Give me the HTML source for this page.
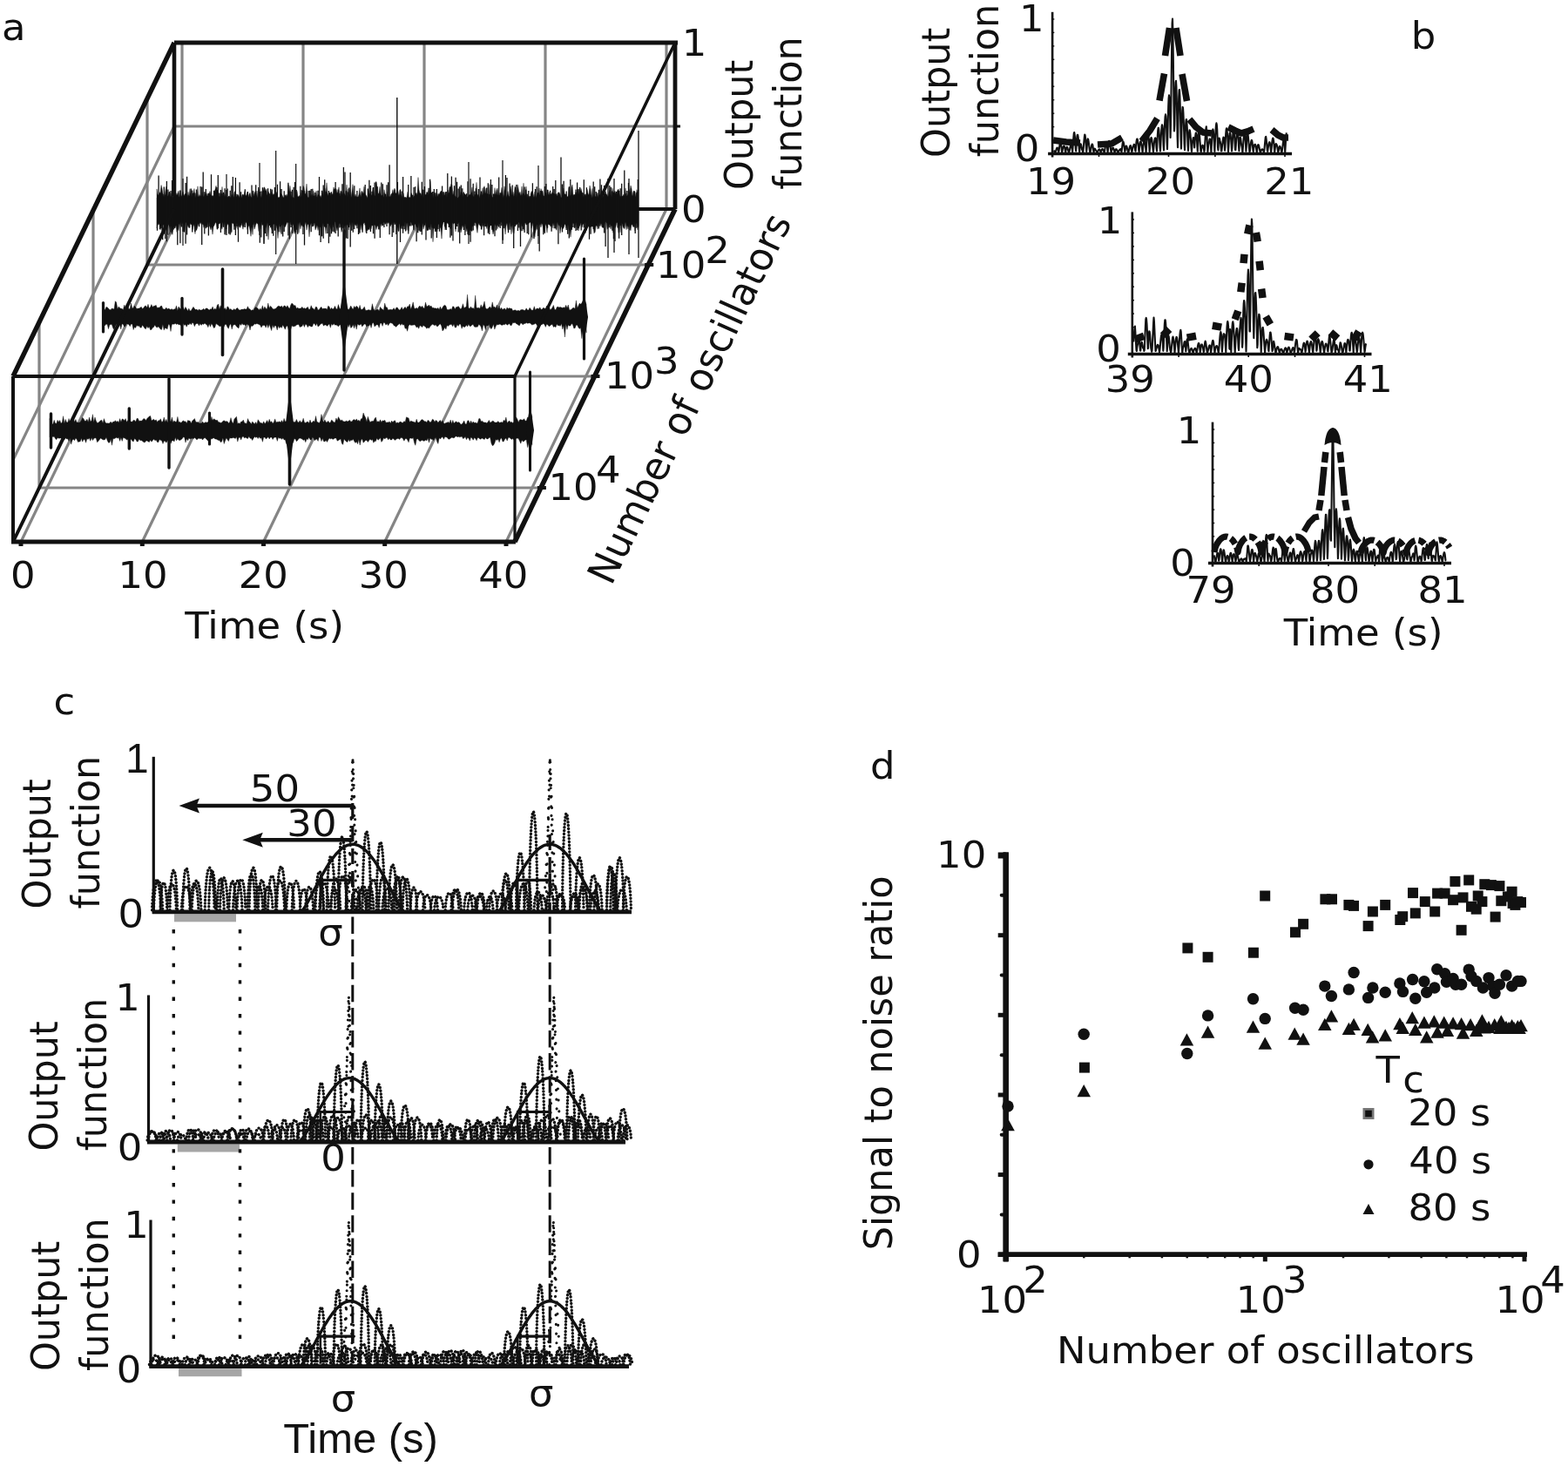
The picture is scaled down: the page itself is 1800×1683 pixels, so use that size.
<!DOCTYPE html>
<html lang="en"><head><meta charset="utf-8"><title>Figure</title>
<style>
html,body{margin:0;padding:0;background:#fff;overflow:hidden;}
svg{display:block;}
text{font-family:"DejaVu Sans","Liberation Sans",sans-serif;fill:#111;}
</style></head><body>
<svg width="1800" height="1683" viewBox="0 0 1800 1683" role="img" aria-label="Four-panel figure: output function versus time and signal to noise ratio versus number of oscillators">
<rect width="1800" height="1683" fill="#fff"/>
<g id="panel-a">
<line x1="209.0" y1="49.0" x2="209.0" y2="240.0" stroke="#858585" stroke-width="3.2" />
<line x1="348.0" y1="49.0" x2="348.0" y2="240.0" stroke="#858585" stroke-width="3.2" />
<line x1="487.0" y1="49.0" x2="487.0" y2="240.0" stroke="#858585" stroke-width="3.2" />
<line x1="626.0" y1="49.0" x2="626.0" y2="240.0" stroke="#858585" stroke-width="3.2" />
<line x1="765.0" y1="49.0" x2="765.0" y2="240.0" stroke="#858585" stroke-width="3.2" />
<line x1="200.0" y1="145.0" x2="775.0" y2="145.0" stroke="#858585" stroke-width="3.2" />
<line x1="209.0" y1="240.0" x2="24.0" y2="622.0" stroke="#858585" stroke-width="3.2" />
<line x1="348.0" y1="240.0" x2="163.3" y2="622.0" stroke="#858585" stroke-width="3.2" />
<line x1="487.0" y1="240.0" x2="302.5" y2="622.0" stroke="#858585" stroke-width="3.2" />
<line x1="626.0" y1="240.0" x2="441.7" y2="622.0" stroke="#858585" stroke-width="3.2" />
<line x1="765.0" y1="240.0" x2="581.0" y2="622.0" stroke="#858585" stroke-width="3.2" />
<line x1="169.0" y1="304.0" x2="744.2" y2="304.0" stroke="#858585" stroke-width="3.2" />
<line x1="107.0" y1="432.0" x2="682.5" y2="432.0" stroke="#858585" stroke-width="3.2" />
<line x1="45.0" y1="560.0" x2="620.9" y2="560.0" stroke="#858585" stroke-width="3.2" />
<line x1="169.0" y1="304.0" x2="169.0" y2="113.0" stroke="#858585" stroke-width="3.2" />
<line x1="107.0" y1="432.0" x2="107.0" y2="241.0" stroke="#858585" stroke-width="3.2" />
<line x1="45.0" y1="560.0" x2="45.0" y2="369.0" stroke="#858585" stroke-width="3.2" />
<line x1="200.0" y1="145.0" x2="15.0" y2="528.0" stroke="#858585" stroke-width="3.2" />
<path d="M180.0,216.9 181.0,223.5 182.0,224.1 183.0,220.5 184.0,221.9 185.0,212.5 186.0,216.2 187.0,222.6 188.0,225.4 189.0,225.9 190.0,218.0 191.0,214.1 192.0,225.4 193.0,224.8 194.0,220.1 195.0,220.4 196.0,226.4 197.0,221.8 198.0,227.2 199.0,223.7 200.0,220.3 201.0,220.1 202.0,221.6 203.0,224.2 204.0,221.6 205.0,219.1 206.0,226.7 207.0,218.6 208.0,225.8 209.0,224.1 210.0,219.6 211.0,224.9 212.0,223.0 213.0,222.0 214.0,223.1 215.0,227.4 216.0,220.2 217.0,226.0 218.0,216.7 219.0,222.7 220.0,226.3 221.0,221.7 222.0,222.6 223.0,216.5 224.0,227.2 225.0,223.4 226.0,226.3 227.0,213.8 228.0,226.7 229.0,223.5 230.0,225.5 231.0,224.6 232.0,220.1 233.0,225.2 234.0,226.1 235.0,223.7 236.0,222.0 237.0,221.4 238.0,225.6 239.0,221.7 240.0,222.6 241.0,219.4 242.0,224.2 243.0,225.6 244.0,224.3 245.0,227.0 246.0,220.1 247.0,217.6 248.0,213.3 249.0,218.4 250.0,218.1 251.0,224.2 252.0,226.5 253.0,221.8 254.0,225.4 255.0,214.4 256.0,225.5 257.0,222.1 258.0,226.0 259.0,222.5 260.0,226.1 261.0,226.2 262.0,226.3 263.0,224.8 264.0,226.2 265.0,226.7 266.0,223.1 267.0,225.0 268.0,226.7 269.0,220.2 270.0,219.7 271.0,226.3 272.0,225.1 273.0,223.3 274.0,224.7 275.0,227.0 276.0,223.9 277.0,227.2 278.0,223.5 279.0,223.0 280.0,224.6 281.0,219.5 282.0,224.9 283.0,223.6 284.0,220.4 285.0,226.4 286.0,222.7 287.0,221.3 288.0,225.8 289.0,227.3 290.0,218.6 291.0,225.5 292.0,222.0 293.0,219.5 294.0,225.2 295.0,219.0 296.0,227.2 297.0,217.0 298.0,220.2 299.0,224.8 300.0,227.3 301.0,222.5 302.0,219.2 303.0,214.7 304.0,215.4 305.0,219.5 306.0,216.9 307.0,225.3 308.0,219.7 309.0,221.9 310.0,226.3 311.0,223.6 312.0,219.5 313.0,223.9 314.0,222.3 315.0,223.4 316.0,224.1 317.0,220.1 318.0,222.3 319.0,227.2 320.0,226.3 321.0,226.8 322.0,221.9 323.0,222.6 324.0,224.1 325.0,226.6 326.0,227.0 327.0,223.5 328.0,226.0 329.0,223.1 330.0,225.5 331.0,211.7 332.0,220.7 333.0,213.3 334.0,223.5 335.0,226.8 336.0,226.5 337.0,226.7 338.0,227.4 339.0,220.2 340.0,224.1 341.0,219.4 342.0,225.9 343.0,225.4 344.0,224.3 345.0,226.4 346.0,221.1 347.0,226.1 348.0,213.3 349.0,215.2 350.0,223.3 351.0,221.6 352.0,211.1 353.0,225.4 354.0,227.2 355.0,226.0 356.0,218.8 357.0,225.6 358.0,223.1 359.0,225.4 360.0,219.2 361.0,225.5 362.0,224.2 363.0,219.1 364.0,226.8 365.0,223.5 366.0,223.8 367.0,225.9 368.0,224.3 369.0,227.0 370.0,220.0 371.0,225.1 372.0,215.1 373.0,215.8 374.0,223.2 375.0,209.8 376.0,223.6 377.0,224.8 378.0,222.2 379.0,220.7 380.0,224.9 381.0,222.1 382.0,223.8 383.0,214.8 384.0,218.8 385.0,216.1 386.0,216.8 387.0,221.7 388.0,220.2 389.0,214.8 390.0,225.4 391.0,218.8 392.0,220.3 393.0,223.7 394.0,219.5 395.0,221.8 396.0,223.4 397.0,224.7 398.0,212.1 399.0,226.7 400.0,217.0 401.0,224.2 402.0,217.4 403.0,226.8 404.0,219.6 405.0,211.6 406.0,224.0 407.0,226.2 408.0,222.9 409.0,226.2 410.0,225.9 411.0,226.2 412.0,223.2 413.0,215.9 414.0,226.3 415.0,219.5 416.0,219.8 417.0,223.2 418.0,214.1 419.0,222.1 420.0,223.7 421.0,225.5 422.0,227.5 423.0,218.4 424.0,221.9 425.0,223.1 426.0,223.5 427.0,224.6 428.0,215.7 429.0,219.0 430.0,224.8 431.0,224.7 432.0,209.3 433.0,214.9 434.0,225.1 435.0,220.7 436.0,214.2 437.0,223.7 438.0,224.7 439.0,223.6 440.0,226.8 441.0,217.6 442.0,222.3 443.0,225.1 444.0,226.6 445.0,219.7 446.0,225.6 447.0,225.8 448.0,225.7 449.0,222.7 450.0,222.1 451.0,217.5 452.0,222.6 453.0,216.1 454.0,221.8 455.0,221.9 456.0,218.1 457.0,219.5 458.0,225.8 459.0,218.4 460.0,222.4 461.0,224.7 462.0,226.9 463.0,221.5 464.0,227.1 465.0,226.1 466.0,227.4 467.0,226.3 468.0,220.2 469.0,227.0 470.0,226.3 471.0,227.1 472.0,221.4 473.0,223.1 474.0,226.8 475.0,225.6 476.0,224.8 477.0,222.4 478.0,221.3 479.0,223.7 480.0,203.6 481.0,217.9 482.0,222.1 483.0,221.8 484.0,224.7 485.0,217.0 486.0,227.4 487.0,223.0 488.0,223.5 489.0,223.6 490.0,220.2 491.0,223.9 492.0,218.5 493.0,223.2 494.0,207.8 495.0,222.1 496.0,221.2 497.0,227.2 498.0,220.0 499.0,221.9 500.0,226.6 501.0,222.3 502.0,225.7 503.0,222.1 504.0,223.5 505.0,221.3 506.0,219.3 507.0,219.7 508.0,226.0 509.0,220.0 510.0,224.7 511.0,220.2 512.0,221.0 513.0,226.8 514.0,218.1 515.0,223.5 516.0,214.3 517.0,214.9 518.0,211.2 519.0,212.4 520.0,224.8 521.0,219.2 522.0,224.6 523.0,225.4 524.0,226.8 525.0,227.4 526.0,226.4 527.0,225.8 528.0,224.5 529.0,219.9 530.0,220.9 531.0,221.5 532.0,226.2 533.0,222.3 534.0,222.9 535.0,224.0 536.0,226.1 537.0,226.3 538.0,224.6 539.0,223.1 540.0,223.9 541.0,221.4 542.0,214.9 543.0,225.2 544.0,226.0 545.0,222.8 546.0,224.2 547.0,209.4 548.0,223.7 549.0,225.4 550.0,227.4 551.0,224.5 552.0,222.0 553.0,224.8 554.0,215.6 555.0,223.8 556.0,213.6 557.0,222.4 558.0,216.1 559.0,222.9 560.0,222.0 561.0,227.3 562.0,211.5 563.0,224.6 564.0,223.5 565.0,226.3 566.0,226.7 567.0,226.4 568.0,215.6 569.0,224.0 570.0,218.2 571.0,216.0 572.0,224.4 573.0,224.4 574.0,220.9 575.0,222.3 576.0,215.3 577.0,221.5 578.0,227.3 579.0,213.8 580.0,219.0 581.0,227.0 582.0,224.2 583.0,219.5 584.0,224.8 585.0,226.7 586.0,213.6 587.0,217.8 588.0,224.6 589.0,220.3 590.0,225.7 591.0,214.1 592.0,216.1 593.0,227.1 594.0,211.8 595.0,215.9 596.0,222.4 597.0,220.2 598.0,225.5 599.0,213.9 600.0,226.0 601.0,210.2 602.0,225.1 603.0,222.6 604.0,214.1 605.0,227.2 606.0,224.4 607.0,225.2 608.0,227.4 609.0,224.7 610.0,219.6 611.0,220.2 612.0,222.0 613.0,226.8 614.0,220.0 615.0,227.2 616.0,224.5 617.0,220.8 618.0,222.2 619.0,215.9 620.0,224.6 621.0,216.6 622.0,220.0 623.0,218.7 624.0,225.3 625.0,225.0 626.0,222.0 627.0,221.0 628.0,225.0 629.0,218.0 630.0,224.0 631.0,220.2 632.0,223.1 633.0,222.8 634.0,220.4 635.0,221.6 636.0,222.2 637.0,222.8 638.0,223.4 639.0,222.1 640.0,225.3 641.0,221.0 642.0,220.7 643.0,223.5 644.0,227.0 645.0,226.8 646.0,224.6 647.0,216.0 648.0,221.8 649.0,224.2 650.0,222.4 651.0,226.7 652.0,226.2 653.0,215.4 654.0,224.8 655.0,224.4 656.0,214.8 657.0,212.1 658.0,224.6 659.0,223.0 660.0,224.1 661.0,220.3 662.0,222.5 663.0,223.1 664.0,218.0 665.0,223.6 666.0,219.7 667.0,216.4 668.0,220.7 669.0,221.5 670.0,226.8 671.0,223.4 672.0,224.8 673.0,224.6 674.0,217.2 675.0,222.1 676.0,224.1 677.0,213.0 678.0,217.4 679.0,227.4 680.0,216.3 681.0,227.1 682.0,222.3 683.0,225.6 684.0,225.8 685.0,226.3 686.0,223.8 687.0,226.9 688.0,223.6 689.0,223.9 690.0,216.5 691.0,226.2 692.0,226.4 693.0,219.9 694.0,222.4 695.0,222.6 696.0,222.2 697.0,223.9 698.0,226.3 699.0,220.3 700.0,218.1 701.0,224.0 702.0,226.7 703.0,216.1 704.0,221.2 705.0,220.8 706.0,219.0 707.0,223.6 708.0,223.4 709.0,218.3 710.0,217.0 711.0,222.3 712.0,225.9 713.0,225.0 714.0,225.6 715.0,225.0 716.0,223.1 717.0,225.2 718.0,215.9 719.0,225.1 720.0,224.7 721.0,222.7 722.0,217.3 723.0,220.9 724.0,213.0 725.0,216.5 726.0,225.7 727.0,219.5 728.0,219.0 729.0,220.0 730.0,226.3 731.0,217.7 732.0,220.9 733.0,217.9 733.0,258.0 732.0,263.9 731.0,256.3 730.0,256.4 729.0,265.3 728.0,254.7 727.0,260.7 726.0,258.3 725.0,257.6 724.0,264.8 723.0,260.1 722.0,255.6 721.0,263.0 720.0,258.5 719.0,263.7 718.0,255.0 717.0,262.6 716.0,262.1 715.0,260.1 714.0,256.5 713.0,255.3 712.0,266.9 711.0,256.8 710.0,267.4 709.0,256.3 708.0,254.8 707.0,260.0 706.0,261.8 705.0,256.4 704.0,267.3 703.0,260.0 702.0,258.7 701.0,263.2 700.0,256.7 699.0,259.0 698.0,262.2 697.0,263.3 696.0,254.8 695.0,254.8 694.0,258.1 693.0,261.2 692.0,261.5 691.0,260.7 690.0,256.3 689.0,258.5 688.0,255.2 687.0,255.9 686.0,263.1 685.0,258.8 684.0,259.8 683.0,265.8 682.0,267.9 681.0,260.0 680.0,259.7 679.0,259.7 678.0,260.7 677.0,261.0 676.0,256.4 675.0,254.7 674.0,259.0 673.0,254.7 672.0,262.3 671.0,255.3 670.0,256.8 669.0,257.7 668.0,261.2 667.0,255.4 666.0,258.6 665.0,260.6 664.0,265.0 663.0,257.3 662.0,255.1 661.0,261.1 660.0,255.7 659.0,256.1 658.0,257.0 657.0,255.3 656.0,262.5 655.0,272.1 654.0,264.0 653.0,264.7 652.0,258.0 651.0,258.2 650.0,262.0 649.0,257.6 648.0,257.8 647.0,261.9 646.0,262.5 645.0,256.9 644.0,262.3 643.0,267.8 642.0,257.1 641.0,258.4 640.0,254.8 639.0,264.4 638.0,262.6 637.0,255.0 636.0,259.2 635.0,256.0 634.0,261.9 633.0,259.2 632.0,260.2 631.0,258.1 630.0,258.0 629.0,256.6 628.0,267.3 627.0,259.2 626.0,257.1 625.0,266.8 624.0,263.5 623.0,259.4 622.0,255.4 621.0,261.0 620.0,257.1 619.0,258.6 618.0,255.0 617.0,256.2 616.0,263.3 615.0,258.9 614.0,272.2 613.0,269.7 612.0,260.5 611.0,255.8 610.0,262.2 609.0,255.1 608.0,255.4 607.0,256.5 606.0,256.8 605.0,258.0 604.0,258.1 603.0,255.4 602.0,256.8 601.0,264.8 600.0,258.5 599.0,260.2 598.0,256.0 597.0,264.3 596.0,255.7 595.0,254.9 594.0,256.2 593.0,258.3 592.0,257.9 591.0,256.7 590.0,268.2 589.0,267.4 588.0,258.1 587.0,268.8 586.0,258.0 585.0,254.8 584.0,264.8 583.0,264.6 582.0,255.8 581.0,259.4 580.0,269.0 579.0,257.6 578.0,262.4 577.0,257.4 576.0,255.3 575.0,254.5 574.0,258.1 573.0,256.8 572.0,256.7 571.0,262.9 570.0,256.3 569.0,259.1 568.0,257.0 567.0,265.1 566.0,268.9 565.0,262.3 564.0,257.5 563.0,258.0 562.0,261.4 561.0,266.3 560.0,255.8 559.0,262.7 558.0,259.5 557.0,260.1 556.0,255.6 555.0,260.6 554.0,255.4 553.0,263.8 552.0,259.3 551.0,259.3 550.0,255.9 549.0,258.8 548.0,267.4 547.0,261.8 546.0,255.2 545.0,255.2 544.0,256.6 543.0,259.8 542.0,259.4 541.0,264.9 540.0,263.9 539.0,265.0 538.0,270.2 537.0,266.3 536.0,261.9 535.0,265.9 534.0,256.4 533.0,260.3 532.0,261.2 531.0,258.5 530.0,263.2 529.0,267.0 528.0,259.7 527.0,254.9 526.0,256.8 525.0,257.1 524.0,256.3 523.0,265.9 522.0,255.2 521.0,257.1 520.0,256.8 519.0,255.5 518.0,261.5 517.0,262.8 516.0,259.4 515.0,257.6 514.0,255.5 513.0,255.5 512.0,261.3 511.0,264.0 510.0,254.9 509.0,254.7 508.0,259.3 507.0,274.2 506.0,262.7 505.0,260.6 504.0,257.3 503.0,257.4 502.0,265.7 501.0,263.0 500.0,266.2 499.0,258.1 498.0,261.9 497.0,277.7 496.0,257.1 495.0,261.5 494.0,256.6 493.0,260.6 492.0,264.0 491.0,264.6 490.0,264.8 489.0,259.5 488.0,255.1 487.0,260.0 486.0,263.3 485.0,256.2 484.0,265.6 483.0,259.7 482.0,265.8 481.0,255.2 480.0,261.8 479.0,261.0 478.0,260.1 477.0,257.8 476.0,257.6 475.0,262.8 474.0,258.0 473.0,258.8 472.0,255.6 471.0,254.7 470.0,255.6 469.0,265.6 468.0,255.2 467.0,264.4 466.0,255.7 465.0,254.5 464.0,260.0 463.0,258.4 462.0,258.7 461.0,259.7 460.0,262.0 459.0,254.8 458.0,265.6 457.0,265.4 456.0,260.4 455.0,258.5 454.0,255.6 453.0,255.7 452.0,255.2 451.0,261.8 450.0,255.3 449.0,258.0 448.0,260.1 447.0,256.5 446.0,255.3 445.0,256.7 444.0,255.0 443.0,256.6 442.0,257.7 441.0,255.2 440.0,255.3 439.0,255.6 438.0,259.9 437.0,255.9 436.0,256.7 435.0,263.9 434.0,258.8 433.0,260.3 432.0,263.7 431.0,258.8 430.0,257.9 429.0,258.9 428.0,259.6 427.0,257.9 426.0,262.9 425.0,260.4 424.0,263.9 423.0,262.8 422.0,264.8 421.0,264.2 420.0,266.7 419.0,256.6 418.0,255.6 417.0,257.4 416.0,264.5 415.0,257.7 414.0,263.7 413.0,257.1 412.0,268.4 411.0,259.1 410.0,256.5 409.0,259.5 408.0,257.4 407.0,258.7 406.0,255.0 405.0,260.6 404.0,254.8 403.0,256.8 402.0,259.1 401.0,254.8 400.0,264.0 399.0,257.8 398.0,258.6 397.0,257.8 396.0,274.5 395.0,258.8 394.0,256.5 393.0,263.8 392.0,266.5 391.0,258.2 390.0,255.9 389.0,257.3 388.0,260.8 387.0,264.9 386.0,260.9 385.0,254.7 384.0,254.6 383.0,261.2 382.0,257.5 381.0,266.3 380.0,263.4 379.0,260.8 378.0,256.9 377.0,257.0 376.0,256.8 375.0,256.6 374.0,268.3 373.0,259.5 372.0,259.9 371.0,256.1 370.0,260.8 369.0,271.4 368.0,260.4 367.0,261.0 366.0,260.1 365.0,264.6 364.0,258.6 363.0,261.7 362.0,264.1 361.0,255.6 360.0,259.7 359.0,259.2 358.0,255.9 357.0,256.5 356.0,259.3 355.0,271.9 354.0,257.0 353.0,258.2 352.0,264.1 351.0,255.1 350.0,258.1 349.0,260.2 348.0,260.2 347.0,259.8 346.0,258.1 345.0,262.9 344.0,254.7 343.0,267.4 342.0,255.9 341.0,254.9 340.0,267.2 339.0,265.7 338.0,268.5 337.0,259.9 336.0,257.0 335.0,258.1 334.0,258.1 333.0,254.6 332.0,254.8 331.0,256.1 330.0,254.7 329.0,256.8 328.0,259.3 327.0,261.0 326.0,259.8 325.0,257.1 324.0,257.8 323.0,259.6 322.0,266.9 321.0,257.1 320.0,261.3 319.0,273.6 318.0,262.4 317.0,258.5 316.0,256.7 315.0,257.3 314.0,257.3 313.0,258.3 312.0,263.6 311.0,259.5 310.0,258.5 309.0,258.8 308.0,275.2 307.0,255.2 306.0,258.9 305.0,262.2 304.0,263.9 303.0,279.4 302.0,256.1 301.0,254.5 300.0,258.1 299.0,263.0 298.0,256.1 297.0,265.6 296.0,257.0 295.0,256.4 294.0,255.5 293.0,260.5 292.0,263.2 291.0,254.9 290.0,269.4 289.0,260.2 288.0,271.3 287.0,264.6 286.0,258.5 285.0,260.6 284.0,263.5 283.0,256.6 282.0,254.5 281.0,258.0 280.0,254.6 279.0,263.2 278.0,258.9 277.0,255.8 276.0,261.2 275.0,260.9 274.0,258.5 273.0,263.5 272.0,255.8 271.0,261.9 270.0,258.5 269.0,260.2 268.0,256.5 267.0,256.5 266.0,255.8 265.0,268.1 264.0,261.0 263.0,257.3 262.0,258.4 261.0,256.4 260.0,259.8 259.0,269.6 258.0,254.7 257.0,258.5 256.0,254.7 255.0,263.3 254.0,260.7 253.0,255.5 252.0,256.8 251.0,256.9 250.0,263.1 249.0,263.3 248.0,255.2 247.0,256.2 246.0,258.7 245.0,260.6 244.0,269.1 243.0,260.2 242.0,263.9 241.0,261.0 240.0,254.8 239.0,254.7 238.0,258.6 237.0,261.6 236.0,262.3 235.0,258.5 234.0,261.4 233.0,257.1 232.0,256.3 231.0,257.4 230.0,254.7 229.0,257.4 228.0,256.1 227.0,259.5 226.0,262.8 225.0,255.6 224.0,268.6 223.0,260.2 222.0,257.6 221.0,263.7 220.0,258.0 219.0,255.9 218.0,257.1 217.0,261.8 216.0,258.1 215.0,258.7 214.0,255.0 213.0,255.8 212.0,264.6 211.0,264.8 210.0,255.2 209.0,256.9 208.0,254.8 207.0,258.8 206.0,255.5 205.0,264.7 204.0,262.7 203.0,266.4 202.0,258.4 201.0,262.2 200.0,261.5 199.0,259.5 198.0,269.4 197.0,267.2 196.0,258.9 195.0,269.3 194.0,259.6 193.0,254.5 192.0,264.6 191.0,262.2 190.0,259.2 189.0,259.3 188.0,257.9 187.0,258.3 186.0,266.5 185.0,258.3 184.0,264.1 183.0,257.6 182.0,255.9 181.0,258.8 180.0,261.8Z" fill="#111" stroke="#111" stroke-width="0.4" stroke-linejoin="round"/>
<path d="M180.5,227.0V264.8M182.1,201.5V257.8M183.6,225.7V262.9M185.2,226.3V262.1M186.7,222.7V275.3M188.3,214.6V268.4M189.8,223.5V274.3M191.4,208.0V277.2M192.9,217.5V269.8M194.5,225.1V254.2M196.0,219.0V266.6M197.6,207.0V262.9M199.1,207.7V263.4M200.7,215.4V259.7M202.2,224.6V255.7M203.8,224.1V281.3M205.3,226.0V257.2M206.9,218.6V279.2M208.4,227.0V260.6M210.0,221.6V266.0M211.5,228.0V266.6M213.1,209.9V279.8M214.6,202.8V269.6M216.2,224.3V260.6M217.7,225.1V261.5M219.3,216.5V257.8M220.8,218.4V266.6M222.4,221.6V253.4M223.9,221.5V266.1M225.5,217.4V264.4M227.0,226.9V257.2M228.6,225.4V260.3M230.1,214.0V255.7M231.7,214.5V280.9M233.2,197.5V257.8M234.8,220.2V268.5M236.3,217.0V258.7M237.9,225.0V260.8M239.4,222.1V270.5M241.0,226.6V260.1M242.5,200.3V256.4M244.1,224.8V258.8M245.6,218.7V255.6M247.2,221.1V255.1M248.7,214.9V255.9M250.3,200.9V262.0M251.8,221.5V256.2M253.4,218.0V267.1M254.9,222.0V253.2M256.5,220.8V260.7M258.0,216.3V269.3M259.6,217.9V263.0M261.1,216.6V256.3M262.7,225.6V268.6M264.2,218.8V269.5M265.8,213.2V266.5M267.3,203.1V254.2M268.9,228.3V263.8M270.4,204.1V270.1M272.0,222.8V260.1M273.5,228.0V277.8M275.1,209.2V259.0M276.6,220.3V258.7M278.2,228.9V255.1M279.7,226.1V260.6M281.3,217.2V261.0M282.8,226.9V254.6M284.4,220.0V268.8M285.9,227.5V253.7M287.5,226.5V260.9M289.0,212.6V257.6M290.6,219.2V257.8M292.1,225.3V254.4M293.7,212.2V257.5M295.2,227.7V253.8M296.8,215.1V255.5M298.3,220.1V278.7M299.9,219.5V272.5M301.4,215.3V258.6M303.0,220.9V280.1M304.5,219.1V268.1M306.1,223.8V271.3M307.6,216.3V253.4M309.2,222.2V259.1M310.7,216.7V261.3M312.3,217.4V268.1M313.8,225.9V270.8M315.4,214.9V264.8M316.9,224.1V254.9M318.5,211.8V255.0M320.0,228.2V266.2M321.6,208.3V260.0M323.1,217.1V268.7M324.7,227.6V271.4M326.2,219.2V266.1M327.8,224.3V254.3M329.3,225.9V254.9M330.9,209.8V270.4M332.4,219.7V274.6M334.0,219.8V261.0M335.5,217.7V268.1M337.1,214.8V254.6M338.6,209.0V263.7M340.2,217.9V263.8M341.7,227.6V268.7M343.3,228.5V253.1M344.8,213.8V254.5M346.4,218.3V257.9M347.9,218.9V269.0M349.5,219.2V281.4M351.0,226.5V254.3M352.6,226.9V255.7M354.1,218.9V253.2M355.7,218.7V255.2M357.2,217.1V266.3M358.8,216.7V260.3M360.3,225.6V253.6M361.9,220.9V254.2M363.4,226.6V254.4M365.0,218.7V254.7M366.5,203.1V270.2M368.1,227.2V277.9M369.6,218.7V271.2M371.2,212.5V273.8M372.7,206.2V260.5M374.3,220.1V261.2M375.8,222.3V268.1M377.4,219.1V279.2M378.9,221.6V271.7M380.5,220.2V268.2M382.0,226.0V265.8M383.6,217.0V266.5M385.1,208.9V268.0M386.7,222.8V259.9M388.2,217.6V271.6M389.8,222.1V261.4M391.3,226.9V260.7M392.9,211.3V261.7M394.4,192.0V264.7M396.0,197.5V257.4M397.5,219.2V273.6M399.1,220.5V273.9M400.6,215.4V261.1M402.2,198.1V283.6M403.7,228.8V264.7M405.3,227.4V266.8M406.8,213.3V263.1M408.4,225.6V256.3M409.9,218.9V262.3M411.5,226.2V268.9M413.0,224.1V267.4M414.6,228.2V254.0M416.1,221.8V266.7M417.7,222.1V253.0M419.2,212.1V258.3M420.8,228.9V268.1M422.3,216.5V259.0M423.9,206.8V254.0M425.4,213.1V266.0M427.0,219.7V259.0M428.5,215.1V268.2M430.1,209.4V273.8M431.6,208.4V257.5M433.2,214.2V256.4M434.7,222.2V262.9M436.3,222.8V272.9M437.8,209.5V257.8M439.4,211.2V259.1M440.9,228.1V260.9M442.5,222.7V253.3M444.0,212.3V259.9M445.6,209.2V255.1M447.1,189.2V269.2M448.7,227.5V257.9M450.2,224.9V271.9M451.8,226.7V266.9M453.3,217.6V257.7M454.9,228.4V269.1M456.4,209.0V259.7M458.0,223.5V257.2M459.5,217.4V277.9M461.1,219.5V262.7M462.6,202.9V267.7M464.2,227.3V263.3M465.7,226.4V265.5M467.3,228.0V255.5M468.8,212.1V268.6M470.4,227.2V259.4M471.9,201.9V259.4M473.5,224.1V254.5M475.0,214.9V264.2M476.6,214.3V254.4M478.1,227.8V277.2M479.7,222.6V267.3M481.2,225.4V264.8M482.8,227.5V265.9M484.3,208.7V269.5M485.9,218.0V254.6M487.4,214.0V258.4M489.0,226.7V275.6M490.5,220.7V260.1M492.1,215.7V260.6M493.6,205.7V263.8M495.2,220.7V273.6M496.7,219.9V261.7M498.3,217.0V262.4M499.8,221.2V265.7M501.4,217.1V273.0M502.9,228.8V263.1M504.5,227.6V265.7M506.0,221.4V255.9M507.6,213.5V256.6M509.1,220.5V255.0M510.7,224.3V260.0M512.2,219.9V264.1M513.8,198.9V256.6M515.3,221.2V261.1M516.9,225.7V272.7M518.4,202.5V270.6M520.0,223.2V276.4M521.5,213.3V256.1M523.1,203.7V263.0M524.6,208.7V260.1M526.2,216.6V266.5M527.7,214.2V279.4M529.3,212.5V263.6M530.8,216.2V255.0M532.4,220.4V263.9M533.9,225.8V270.0M535.5,222.2V260.3M537.0,208.3V269.3M538.6,225.1V269.9M540.1,205.3V277.7M541.7,225.7V265.5M543.2,210.7V264.5M544.8,219.4V259.2M546.3,216.2V256.3M547.9,223.3V254.9M549.4,216.9V255.2M551.0,203.5V258.2M552.5,219.6V263.3M554.1,224.2V259.3M555.6,214.8V270.2M557.2,226.1V260.0M558.7,215.5V259.6M560.3,210.3V267.7M561.8,223.0V268.9M563.4,205.9V258.9M564.9,212.1V263.7M566.5,222.5V265.2M568.0,222.8V271.3M569.6,225.0V264.5M571.1,228.7V259.0M572.7,203.6V260.4M574.2,226.6V261.9M575.8,229.0V259.2M577.3,228.4V275.8M578.9,224.5V262.0M580.4,200.9V256.3M582.0,204.1V256.4M583.5,225.1V267.3M585.1,210.4V263.7M586.6,227.6V259.8M588.2,212.5V253.6M589.7,228.1V284.9M591.3,222.0V259.9M592.8,211.9V257.1M594.4,218.0V264.9M595.9,227.3V261.4M597.5,224.5V283.0M599.0,223.7V265.3M600.6,222.3V263.0M602.1,214.4V267.0M603.7,217.8V255.5M605.2,222.7V267.9M606.8,219.1V269.3M608.3,225.3V253.3M609.9,221.7V272.4M611.4,210.2V254.3M613.0,228.5V274.1M614.5,217.1V264.0M616.1,214.2V258.1M617.6,228.5V271.0M619.2,228.4V288.5M620.7,218.9V254.5M622.3,223.6V257.1M623.8,225.7V269.3M625.4,213.9V267.8M626.9,211.0V257.1M628.5,217.7V261.7M630.0,227.3V257.6M631.6,218.8V254.1M633.1,225.8V265.7M634.7,214.0V254.4M636.2,217.0V262.3M637.8,207.0V262.3M639.3,224.9V254.0M640.9,221.0V280.2M642.4,222.7V259.2M644.0,180.4V260.7M645.5,211.6V266.5M647.1,207.7V260.2M648.6,223.0V257.1M650.2,219.6V263.9M651.7,225.4V268.7M653.3,214.2V273.4M654.8,206.1V255.7M656.4,228.9V263.8M657.9,225.2V261.0M659.5,226.8V261.8M661.0,217.5V264.9M662.6,209.5V264.2M664.1,216.9V261.9M665.7,214.9V256.1M667.2,219.2V264.6M668.8,221.5V256.2M670.3,206.3V261.6M671.9,222.8V267.5M673.4,215.2V264.4M675.0,228.7V260.3M676.5,228.6V274.8M678.1,223.4V268.8M679.6,228.6V260.2M681.2,208.5V263.0M682.7,214.2V266.8M684.3,220.1V256.4M685.8,221.4V259.5M687.4,217.8V262.5M688.9,205.6V259.7M690.5,212.3V256.2M692.0,225.0V257.1M693.6,213.0V267.4M695.1,219.7V282.9M696.7,226.5V256.0M698.2,225.4V254.1M699.8,213.0V261.2M701.3,214.8V256.4M702.9,219.4V264.8M704.4,228.0V274.2M706.0,221.6V277.0M707.5,219.9V255.4M709.1,218.7V261.6M710.6,219.0V273.8M712.2,216.2V259.0M713.7,210.8V270.1M715.3,225.2V256.9M716.8,195.4V253.0M718.4,222.2V253.4M719.9,219.1V256.7M721.5,209.9V260.5M723.0,227.8V264.2M724.6,225.4V257.2M726.1,224.6V257.4M727.7,223.0V260.6M729.2,227.9V268.0M730.8,221.2V261.8M732.3,205.9V260.7" stroke="#111" stroke-width="1.3" fill="none"/>
<line x1="455.8" y1="112.0" x2="455.8" y2="303.0" stroke="#111" stroke-width="1.4" />
<line x1="733.0" y1="150.0" x2="733.0" y2="296.0" stroke="#111" stroke-width="1.3" />
<line x1="316.7" y1="173.0" x2="316.7" y2="292.0" stroke="#111" stroke-width="1.2" />
<line x1="298.0" y1="187.0" x2="298.0" y2="270.0" stroke="#111" stroke-width="1.2" />
<line x1="339.7" y1="188.0" x2="339.7" y2="303.0" stroke="#111" stroke-width="1.2" />
<line x1="577.0" y1="184.0" x2="577.0" y2="280.0" stroke="#111" stroke-width="1.2" />
<line x1="618.0" y1="190.0" x2="618.0" y2="280.0" stroke="#111" stroke-width="1.2" />
<line x1="538.0" y1="186.0" x2="538.0" y2="280.0" stroke="#111" stroke-width="1.2" />
<line x1="210.0" y1="205.0" x2="210.0" y2="282.0" stroke="#111" stroke-width="1.2" />
<line x1="260.0" y1="200.0" x2="260.0" y2="270.0" stroke="#111" stroke-width="1.2" />
<line x1="705.0" y1="205.0" x2="705.0" y2="290.0" stroke="#111" stroke-width="1.3" />
<line x1="722.0" y1="205.0" x2="722.0" y2="292.0" stroke="#111" stroke-width="1.3" />
<line x1="698.0" y1="205.0" x2="698.0" y2="296.0" stroke="#111" stroke-width="1.3" />
<line x1="733.0" y1="240.0" x2="775.0" y2="240.0" stroke="#111" stroke-width="4" />
<path d="M118.0,352.3 119.3,355.5 120.6,355.6 121.9,352.4 123.2,352.8 124.5,354.1 125.8,355.5 127.1,355.7 128.4,354.0 129.7,354.4 131.0,354.9 132.3,345.7 133.6,347.0 134.9,354.7 136.2,351.9 137.5,353.4 138.8,354.3 140.1,354.3 141.4,355.7 142.7,350.1 144.0,353.4 145.3,352.3 146.6,348.2 147.9,354.7 149.2,354.6 150.5,348.1 151.8,354.1 153.1,353.7 154.4,351.1 155.7,352.6 157.0,354.5 158.3,354.1 159.6,354.1 160.9,353.2 162.2,352.3 163.5,354.4 164.8,353.6 166.1,351.4 167.4,350.9 168.7,353.2 170.0,349.3 171.3,354.1 172.6,352.5 173.9,349.6 175.2,352.4 176.5,351.2 177.8,351.3 179.1,350.2 180.4,353.5 181.7,352.9 183.0,353.2 184.3,351.5 185.6,351.1 186.9,354.4 188.2,354.9 189.5,355.1 190.8,353.1 192.1,354.9 193.4,354.1 194.7,354.8 196.0,355.4 197.3,354.5 198.6,355.8 199.9,354.8 201.2,355.0 202.5,350.9 203.8,356.4 205.1,352.0 206.4,354.0 207.7,354.7 209.0,356.7 210.3,352.5 211.6,355.7 212.9,352.4 214.2,354.4 215.5,356.9 216.8,354.1 218.1,356.9 219.4,356.4 220.7,354.2 222.0,352.3 223.3,354.3 224.6,355.6 225.9,355.1 227.2,356.5 228.5,354.9 229.8,355.9 231.1,356.0 232.4,355.6 233.7,354.3 235.0,355.7 236.3,353.9 237.6,353.9 238.9,354.7 240.2,356.0 241.5,354.8 242.8,354.9 244.1,352.1 245.4,355.8 246.7,354.0 248.0,355.6 249.3,350.4 250.6,349.0 251.9,354.9 253.2,350.7 254.5,353.5 255.8,351.0 257.1,354.9 258.4,353.4 259.7,355.9 261.0,351.8 262.3,352.7 263.6,355.5 264.9,354.4 266.2,356.0 267.5,355.9 268.8,354.4 270.1,356.1 271.4,354.1 272.7,353.4 274.0,355.5 275.3,356.1 276.6,355.6 277.9,355.1 279.2,355.3 280.5,354.6 281.8,354.9 283.1,355.0 284.4,351.7 285.7,354.6 287.0,354.8 288.3,356.5 289.6,355.8 290.9,356.3 292.2,354.0 293.5,352.6 294.8,353.2 296.1,354.0 297.4,356.1 298.7,353.9 300.0,355.7 301.3,350.8 302.6,355.2 303.9,352.0 305.2,354.2 306.5,354.8 307.8,348.0 309.1,353.8 310.4,351.2 311.7,352.4 313.0,354.5 314.3,354.9 315.6,354.4 316.9,354.1 318.2,352.3 319.5,351.3 320.8,351.6 322.1,352.3 323.4,351.1 324.7,353.3 326.0,350.9 327.3,351.1 328.6,353.0 329.9,350.7 331.2,353.0 332.5,354.3 333.8,350.0 335.1,347.9 336.4,349.2 337.7,351.1 339.0,350.6 340.3,354.2 341.6,353.0 342.9,354.3 344.2,354.1 345.5,353.9 346.8,352.2 348.1,354.3 349.4,353.4 350.7,354.6 352.0,353.5 353.3,352.2 354.6,355.3 355.9,354.9 357.2,350.7 358.5,353.8 359.8,354.3 361.1,355.7 362.4,352.2 363.7,352.5 365.0,356.0 366.3,355.6 367.6,353.5 368.9,352.3 370.2,354.8 371.5,354.1 372.8,354.3 374.1,354.0 375.4,355.6 376.7,351.2 378.0,352.0 379.3,355.3 380.6,353.3 381.9,354.9 383.2,354.2 384.5,351.3 385.8,354.4 387.1,355.0 388.4,349.6 389.7,353.4 391.0,354.9 392.3,353.2 393.6,350.1 394.9,348.8 396.2,353.2 397.5,354.8 398.8,354.5 400.1,355.4 401.4,353.9 402.7,351.0 404.0,353.4 405.3,355.3 406.6,351.4 407.9,353.3 409.2,351.2 410.5,352.3 411.8,354.8 413.1,350.4 414.4,355.3 415.7,355.3 417.0,354.2 418.3,352.0 419.6,356.2 420.9,356.3 422.2,355.9 423.5,355.6 424.8,356.2 426.1,356.0 427.4,348.7 428.7,354.3 430.0,356.7 431.3,355.9 432.6,355.4 433.9,355.1 435.2,357.1 436.5,352.2 437.8,354.3 439.1,355.1 440.4,356.2 441.7,348.1 443.0,352.8 444.3,352.8 445.6,355.9 446.9,355.5 448.2,355.2 449.5,355.4 450.8,355.4 452.1,353.6 453.4,355.9 454.7,353.4 456.0,352.8 457.3,354.7 458.6,356.1 459.9,355.0 461.2,352.6 462.5,355.6 463.8,353.8 465.1,352.3 466.4,354.5 467.7,351.8 469.0,352.0 470.3,349.0 471.6,354.9 472.9,351.8 474.2,346.8 475.5,353.6 476.8,354.5 478.1,353.3 479.4,354.6 480.7,352.2 482.0,351.0 483.3,352.9 484.6,351.3 485.9,353.4 487.2,354.0 488.5,347.0 489.8,351.7 491.1,351.6 492.4,350.1 493.7,352.1 495.0,351.1 496.3,353.4 497.6,353.3 498.9,353.9 500.2,353.8 501.5,354.4 502.8,353.3 504.1,355.5 505.4,352.1 506.7,355.2 508.0,353.1 509.3,351.0 510.6,350.3 511.9,351.3 513.2,355.5 514.5,355.6 515.8,355.4 517.1,354.4 518.4,355.4 519.7,351.8 521.0,352.1 522.3,355.0 523.6,352.5 524.9,352.6 526.2,351.6 527.5,353.3 528.8,354.9 530.1,353.3 531.4,348.7 532.7,353.4 534.0,352.9 535.3,351.8 536.6,338.2 537.9,353.6 539.2,354.3 540.5,351.9 541.8,354.1 543.1,353.5 544.4,354.7 545.7,339.2 547.0,353.6 548.3,353.4 549.6,353.2 550.9,354.2 552.2,349.8 553.5,353.2 554.8,350.5 556.1,345.9 557.4,353.5 558.7,354.8 560.0,354.5 561.3,353.0 562.6,352.1 563.9,354.3 565.2,346.8 566.5,352.8 567.8,352.1 569.1,354.1 570.4,350.0 571.7,355.0 573.0,351.0 574.3,355.2 575.6,353.2 576.9,355.5 578.2,354.5 579.5,354.1 580.8,355.9 582.1,352.9 583.4,354.5 584.7,353.5 586.0,354.3 587.3,354.0 588.6,356.4 589.9,356.3 591.2,355.7 592.5,356.4 593.8,356.8 595.1,356.2 596.4,357.0 597.7,355.8 599.0,355.4 600.3,355.5 601.6,356.2 602.9,356.3 604.2,353.8 605.5,355.9 606.8,356.0 608.1,353.2 609.4,355.0 610.7,356.2 612.0,356.0 613.3,351.7 614.6,355.9 615.9,354.2 617.2,354.0 618.5,354.8 619.8,352.8 621.1,355.3 622.4,354.9 623.7,353.2 625.0,353.9 626.3,354.4 627.6,351.0 628.9,352.9 630.2,351.2 631.5,355.5 632.8,354.9 634.1,353.1 635.4,350.4 636.7,355.2 638.0,355.7 639.3,352.6 640.6,352.2 641.9,352.9 643.2,352.4 644.5,353.0 645.8,353.4 647.1,352.7 648.4,353.4 649.7,350.3 651.0,353.8 652.3,350.0 653.6,355.7 654.9,355.8 656.2,354.9 657.5,353.6 658.8,353.2 660.1,354.6 661.4,344.9 662.7,353.5 664.0,351.1 665.3,348.1 666.6,349.3 667.9,347.8 669.2,345.5 670.5,350.1 671.8,346.4 673.1,349.4 673.1,381.9 671.8,375.4 670.5,375.9 669.2,377.4 667.9,388.7 666.6,376.2 665.3,377.5 664.0,376.0 662.7,373.3 661.4,373.2 660.1,376.7 658.8,376.9 657.5,372.8 656.2,371.6 654.9,374.0 653.6,374.2 652.3,372.9 651.0,378.3 649.7,372.0 648.4,387.0 647.1,373.8 645.8,378.0 644.5,371.5 643.2,374.4 641.9,373.6 640.6,373.9 639.3,371.9 638.0,375.7 636.7,374.8 635.4,375.5 634.1,372.6 632.8,372.7 631.5,373.9 630.2,374.7 628.9,372.9 627.6,372.3 626.3,375.4 625.0,372.4 623.7,371.6 622.4,372.5 621.1,372.7 619.8,373.8 618.5,377.2 617.2,375.1 615.9,372.6 614.6,371.2 613.3,372.2 612.0,372.6 610.7,373.0 609.4,371.8 608.1,370.7 606.8,371.0 605.5,371.2 604.2,370.6 602.9,371.6 601.6,371.4 600.3,372.9 599.0,371.3 597.7,370.8 596.4,373.8 595.1,373.3 593.8,372.2 592.5,371.4 591.2,370.3 589.9,370.7 588.6,370.5 587.3,373.4 586.0,373.7 584.7,371.4 583.4,372.5 582.1,373.2 580.8,371.6 579.5,372.8 578.2,372.6 576.9,373.3 575.6,373.2 574.3,372.2 573.0,372.2 571.7,373.0 570.4,372.6 569.1,374.8 567.8,378.1 566.5,372.3 565.2,375.6 563.9,377.7 562.6,375.9 561.3,372.3 560.0,374.3 558.7,373.7 557.4,378.7 556.1,374.3 554.8,372.5 553.5,379.9 552.2,375.3 550.9,373.3 549.6,372.6 548.3,375.3 547.0,375.3 545.7,375.6 544.4,375.1 543.1,372.5 541.8,373.0 540.5,374.6 539.2,374.4 537.9,372.3 536.6,375.0 535.3,373.1 534.0,375.3 532.7,375.4 531.4,374.4 530.1,377.3 528.8,372.2 527.5,372.0 526.2,374.4 524.9,372.5 523.6,376.0 522.3,376.0 521.0,372.0 519.7,374.8 518.4,372.6 517.1,372.6 515.8,372.9 514.5,374.6 513.2,373.5 511.9,378.1 510.6,375.7 509.3,378.4 508.0,380.0 506.7,373.9 505.4,371.8 504.1,372.7 502.8,374.6 501.5,374.7 500.2,372.8 498.9,373.7 497.6,372.8 496.3,372.3 495.0,373.4 493.7,374.9 492.4,377.0 491.1,376.0 489.8,377.3 488.5,375.2 487.2,374.4 485.9,373.6 484.6,375.7 483.3,374.3 482.0,373.8 480.7,377.3 479.4,374.9 478.1,376.0 476.8,373.4 475.5,372.8 474.2,373.3 472.9,373.2 471.6,373.5 470.3,372.4 469.0,374.2 467.7,380.3 466.4,376.7 465.1,377.3 463.8,372.5 462.5,373.2 461.2,371.5 459.9,373.6 458.6,371.5 457.3,372.7 456.0,373.8 454.7,375.4 453.4,374.2 452.1,373.7 450.8,371.6 449.5,371.1 448.2,370.5 446.9,371.6 445.6,373.8 444.3,371.4 443.0,373.2 441.7,370.7 440.4,370.2 439.1,374.4 437.8,370.9 436.5,371.1 435.2,376.3 433.9,372.9 432.6,372.8 431.3,373.8 430.0,375.1 428.7,370.5 427.4,371.0 426.1,376.4 424.8,372.1 423.5,374.1 422.2,374.0 420.9,375.1 419.6,372.3 418.3,371.9 417.0,373.5 415.7,375.1 414.4,371.8 413.1,373.3 411.8,373.1 410.5,372.0 409.2,378.1 407.9,372.2 406.6,376.9 405.3,372.5 404.0,375.6 402.7,376.4 401.4,371.9 400.1,375.7 398.8,371.8 397.5,376.6 396.2,373.1 394.9,378.8 393.6,374.8 392.3,372.8 391.0,372.7 389.7,373.3 388.4,374.9 387.1,373.6 385.8,372.9 384.5,373.2 383.2,371.6 381.9,373.4 380.6,371.7 379.3,376.3 378.0,371.8 376.7,373.3 375.4,374.4 374.1,373.1 372.8,372.9 371.5,374.2 370.2,371.3 368.9,371.5 367.6,372.4 366.3,374.2 365.0,374.9 363.7,371.3 362.4,374.0 361.1,371.5 359.8,371.6 358.5,374.9 357.2,375.0 355.9,374.3 354.6,373.7 353.3,375.7 352.0,372.8 350.7,372.2 349.4,375.5 348.1,372.1 346.8,374.6 345.5,375.0 344.2,375.6 342.9,372.4 341.6,372.7 340.3,373.1 339.0,374.5 337.7,374.6 336.4,375.0 335.1,373.8 333.8,378.1 332.5,374.8 331.2,378.6 329.9,373.9 328.6,374.8 327.3,378.2 326.0,375.4 324.7,373.1 323.4,376.5 322.1,375.1 320.8,376.8 319.5,374.0 318.2,378.9 316.9,374.2 315.6,373.7 314.3,376.4 313.0,373.1 311.7,379.6 310.4,375.7 309.1,372.2 307.8,376.5 306.5,372.3 305.2,376.2 303.9,373.4 302.6,373.4 301.3,373.8 300.0,376.0 298.7,373.3 297.4,372.6 296.1,372.0 294.8,371.4 293.5,372.3 292.2,371.8 290.9,373.5 289.6,374.6 288.3,373.9 287.0,379.0 285.7,373.4 284.4,372.4 283.1,372.3 281.8,373.9 280.5,372.6 279.2,373.1 277.9,371.2 276.6,373.5 275.3,371.7 274.0,376.9 272.7,376.0 271.4,374.7 270.1,372.7 268.8,372.8 267.5,373.5 266.2,378.0 264.9,371.8 263.6,373.3 262.3,377.3 261.0,375.5 259.7,372.4 258.4,372.4 257.1,375.1 255.8,377.5 254.5,375.1 253.2,374.3 251.9,374.7 250.6,373.2 249.3,372.6 248.0,371.6 246.7,375.9 245.4,376.6 244.1,373.4 242.8,371.4 241.5,375.3 240.2,371.7 238.9,375.8 237.6,373.0 236.3,372.3 235.0,371.0 233.7,372.4 232.4,371.7 231.1,373.4 229.8,371.4 228.5,374.1 227.2,371.4 225.9,371.4 224.6,372.0 223.3,374.8 222.0,370.9 220.7,370.6 219.4,372.8 218.1,371.1 216.8,373.0 215.5,372.2 214.2,375.3 212.9,372.6 211.6,373.6 210.3,371.4 209.0,372.2 207.7,373.7 206.4,372.8 205.1,372.8 203.8,371.7 202.5,372.4 201.2,371.3 199.9,372.3 198.6,372.1 197.3,372.6 196.0,380.5 194.7,373.0 193.4,372.3 192.1,377.8 190.8,377.0 189.5,376.5 188.2,379.1 186.9,372.5 185.6,378.4 184.3,378.0 183.0,376.3 181.7,375.0 180.4,376.1 179.1,375.3 177.8,373.0 176.5,375.6 175.2,376.2 173.9,378.4 172.6,378.7 171.3,375.1 170.0,376.7 168.7,374.6 167.4,377.7 166.1,376.9 164.8,375.0 163.5,373.2 162.2,376.2 160.9,376.0 159.6,374.1 158.3,374.5 157.0,373.5 155.7,376.4 154.4,375.5 153.1,378.6 151.8,372.0 150.5,372.1 149.2,374.7 147.9,372.5 146.6,372.1 145.3,371.7 144.0,374.4 142.7,375.2 141.4,372.4 140.1,371.7 138.8,377.9 137.5,372.9 136.2,372.5 134.9,373.1 133.6,372.4 132.3,374.8 131.0,378.4 129.7,376.6 128.4,372.4 127.1,372.5 125.8,373.1 124.5,377.7 123.2,372.6 121.9,372.1 120.6,373.8 119.3,373.4 118.0,373.2Z" fill="#111" stroke="#111" stroke-width="0.4" stroke-linejoin="round"/>
<line x1="118.5" y1="347.5" x2="118.5" y2="381.0" stroke="#111" stroke-width="3.2" stroke-linecap="round"/>
<line x1="209.0" y1="342.5" x2="209.0" y2="384.0" stroke="#111" stroke-width="3.3" stroke-linecap="round"/>
<line x1="255.5" y1="309.0" x2="255.5" y2="407.5" stroke="#111" stroke-width="3.6" stroke-linecap="round"/>
<line x1="395.0" y1="265.0" x2="395.0" y2="425.0" stroke="#111" stroke-width="3.4" stroke-linecap="round"/>
<path d="M395.0,322.0 L400.5,364.0 L395.0,406.0 L389.5,364.0 Z" fill="#111"/>
<line x1="670.5" y1="297.0" x2="670.5" y2="412.0" stroke="#111" stroke-width="3.2" stroke-linecap="round"/>
<path d="M670.5,334.0 L675.0,364.0 L670.5,394.0 L666.0,364.0 Z" fill="#111"/>
<path d="M57.0,480.5 58.3,485.8 59.6,487.1 60.9,486.8 62.2,482.3 63.5,486.1 64.8,486.3 66.1,482.3 67.4,484.5 68.7,482.4 70.0,486.1 71.3,485.1 72.6,477.7 73.9,486.0 75.2,481.4 76.5,484.8 77.8,484.9 79.1,480.5 80.4,485.9 81.7,484.9 83.0,485.1 84.3,479.6 85.6,484.6 86.9,481.5 88.2,485.1 89.5,485.0 90.8,485.2 92.1,484.6 93.4,482.3 94.7,479.3 96.0,480.7 97.3,483.2 98.6,483.3 99.9,481.2 101.2,484.4 102.5,479.0 103.8,483.7 105.1,482.9 106.4,475.7 107.7,484.7 109.0,479.0 110.3,483.3 111.6,485.6 112.9,485.2 114.2,483.9 115.5,482.7 116.8,482.2 118.1,485.8 119.4,480.6 120.7,484.6 122.0,485.9 123.3,485.8 124.6,486.0 125.9,485.8 127.2,484.1 128.5,486.0 129.8,484.0 131.1,484.3 132.4,482.7 133.7,484.5 135.0,483.3 136.3,485.2 137.6,480.6 138.9,484.6 140.2,480.9 141.5,481.3 142.8,483.0 144.1,480.6 145.4,484.6 146.7,482.7 148.0,483.6 149.3,483.9 150.6,483.9 151.9,484.2 153.2,482.3 154.5,482.5 155.8,484.3 157.1,480.3 158.4,480.5 159.7,483.4 161.0,483.0 162.3,483.3 163.6,482.2 164.9,480.6 166.2,480.9 167.5,482.7 168.8,480.5 170.1,479.3 171.4,478.1 172.7,477.4 174.0,483.1 175.3,481.9 176.6,481.3 177.9,483.0 179.2,481.8 180.5,484.4 181.8,482.8 183.1,482.7 184.4,480.8 185.7,484.5 187.0,483.8 188.3,479.0 189.6,484.5 190.9,481.3 192.2,484.9 193.5,484.5 194.8,483.1 196.1,484.1 197.4,478.9 198.7,485.0 200.0,482.9 201.3,484.3 202.6,484.3 203.9,478.4 205.2,484.7 206.5,484.3 207.8,485.5 209.1,484.1 210.4,482.8 211.7,483.9 213.0,483.7 214.3,485.9 215.6,482.5 216.9,483.1 218.2,483.3 219.5,485.9 220.8,483.0 222.1,481.9 223.4,480.5 224.7,484.2 226.0,484.8 227.3,484.5 228.6,485.7 229.9,485.9 231.2,485.8 232.5,483.9 233.8,485.8 235.1,485.3 236.4,484.4 237.7,485.3 239.0,483.9 240.3,484.2 241.6,484.7 242.9,478.4 244.2,482.5 245.5,480.7 246.8,481.7 248.1,482.6 249.4,482.2 250.7,484.6 252.0,484.8 253.3,485.4 254.6,485.1 255.9,483.4 257.2,482.8 258.5,483.7 259.8,483.8 261.1,483.8 262.4,485.9 263.7,484.6 265.0,479.6 266.3,484.2 267.6,486.3 268.9,481.2 270.2,479.7 271.5,478.2 272.8,486.5 274.1,485.5 275.4,486.5 276.7,484.1 278.0,484.1 279.3,482.1 280.6,485.4 281.9,485.9 283.2,486.2 284.5,480.6 285.8,483.8 287.1,484.8 288.4,486.9 289.7,483.9 291.0,485.5 292.3,486.7 293.6,484.6 294.9,486.9 296.2,481.7 297.5,483.7 298.8,485.4 300.1,485.5 301.4,486.4 302.7,483.8 304.0,486.6 305.3,485.0 306.6,482.6 307.9,485.5 309.2,481.3 310.5,484.8 311.8,483.7 313.1,486.2 314.4,484.4 315.7,480.9 317.0,485.0 318.3,484.2 319.6,484.4 320.9,483.8 322.2,485.0 323.5,482.6 324.8,485.3 326.1,480.4 327.4,484.1 328.7,483.7 330.0,485.2 331.3,484.3 332.6,484.6 333.9,481.0 335.2,481.5 336.5,484.6 337.8,484.6 339.1,484.5 340.4,481.4 341.7,484.6 343.0,485.0 344.3,482.8 345.6,484.9 346.9,484.3 348.2,480.2 349.5,485.1 350.8,485.4 352.1,484.4 353.4,484.0 354.7,486.0 356.0,482.0 357.3,485.5 358.6,484.7 359.9,483.1 361.2,484.6 362.5,477.6 363.8,484.3 365.1,484.7 366.4,485.8 367.7,483.5 369.0,475.6 370.3,482.8 371.6,484.5 372.9,481.8 374.2,484.7 375.5,484.7 376.8,483.2 378.1,485.5 379.4,484.7 380.7,481.9 382.0,483.4 383.3,484.8 384.6,485.0 385.9,480.0 387.2,482.7 388.5,478.6 389.8,481.1 391.1,483.0 392.4,481.9 393.7,483.4 395.0,484.1 396.3,483.9 397.6,483.1 398.9,484.0 400.2,483.3 401.5,482.2 402.8,484.2 404.1,483.7 405.4,482.0 406.7,481.5 408.0,482.8 409.3,480.9 410.6,483.2 411.9,482.2 413.2,484.1 414.5,480.8 415.8,480.6 417.1,474.0 418.4,477.2 419.7,479.5 421.0,484.3 422.3,478.2 423.6,481.9 424.9,484.8 426.2,483.7 427.5,483.5 428.8,483.5 430.1,480.5 431.4,479.0 432.7,484.5 434.0,483.6 435.3,484.4 436.6,481.8 437.9,484.7 439.2,482.8 440.5,483.2 441.8,482.3 443.1,485.3 444.4,484.7 445.7,485.0 447.0,483.9 448.3,486.0 449.6,483.1 450.9,484.7 452.2,483.2 453.5,482.7 454.8,486.0 456.1,484.8 457.4,485.8 458.7,484.4 460.0,484.1 461.3,485.2 462.6,485.3 463.9,483.5 465.2,484.5 466.5,478.8 467.8,479.6 469.1,479.9 470.4,484.4 471.7,483.2 473.0,483.7 474.3,484.3 475.6,484.4 476.9,485.3 478.2,481.2 479.5,485.1 480.8,485.1 482.1,483.9 483.4,482.2 484.7,481.6 486.0,482.5 487.3,483.7 488.6,483.7 489.9,484.9 491.2,482.3 492.5,483.3 493.8,485.1 495.1,484.1 496.4,481.2 497.7,481.9 499.0,484.4 500.3,482.4 501.6,483.2 502.9,485.3 504.2,483.4 505.5,482.4 506.8,484.9 508.1,482.8 509.4,485.9 510.7,486.2 512.0,485.3 513.3,485.2 514.6,484.2 515.9,485.7 517.2,482.0 518.5,486.4 519.8,482.4 521.1,486.0 522.4,484.7 523.7,483.7 525.0,485.2 526.3,484.6 527.6,485.3 528.9,487.2 530.2,487.0 531.5,485.2 532.8,483.0 534.1,486.7 535.4,487.1 536.7,483.1 538.0,482.7 539.3,486.3 540.6,483.1 541.9,486.0 543.2,484.0 544.5,485.5 545.8,485.0 547.1,485.9 548.4,485.3 549.7,480.7 551.0,480.5 552.3,484.0 553.6,483.2 554.9,484.8 556.2,485.0 557.5,484.9 558.8,485.7 560.1,484.6 561.4,482.4 562.7,485.3 564.0,484.4 565.3,483.3 566.6,483.6 567.9,485.1 569.2,485.0 570.5,485.0 571.8,483.5 573.1,485.2 574.4,485.0 575.7,484.5 577.0,485.3 578.3,482.3 579.6,483.5 580.9,479.0 582.2,485.4 583.5,484.1 584.8,483.1 586.1,485.1 587.4,484.3 588.7,485.7 590.0,484.3 591.3,484.9 592.6,478.8 593.9,481.3 595.2,484.8 596.5,481.9 597.8,481.6 599.1,482.2 600.4,482.1 601.7,480.7 603.0,483.3 604.3,483.1 605.6,479.0 606.9,479.6 608.2,480.8 609.5,473.1 610.8,478.6 610.8,510.6 609.5,508.9 608.2,506.8 606.9,505.7 605.6,513.7 604.3,505.1 603.0,504.9 601.7,506.6 600.4,507.0 599.1,505.2 597.8,509.2 596.5,506.2 595.2,503.6 593.9,503.1 592.6,503.5 591.3,502.7 590.0,505.2 588.7,503.6 587.4,504.6 586.1,503.5 584.8,502.3 583.5,502.6 582.2,506.0 580.9,503.1 579.6,504.1 578.3,506.7 577.0,507.1 575.7,502.8 574.4,504.1 573.1,507.8 571.8,504.0 570.5,505.6 569.2,504.6 567.9,508.5 566.6,511.0 565.3,511.7 564.0,509.0 562.7,502.3 561.4,502.5 560.1,504.0 558.8,503.9 557.5,502.3 556.2,504.5 554.9,503.9 553.6,503.1 552.3,503.8 551.0,504.3 549.7,502.7 548.4,502.4 547.1,505.8 545.8,503.4 544.5,502.6 543.2,505.2 541.9,502.9 540.6,502.0 539.3,506.1 538.0,503.0 536.7,502.6 535.4,504.7 534.1,501.2 532.8,503.1 531.5,503.6 530.2,501.1 528.9,501.6 527.6,501.8 526.3,501.2 525.0,501.7 523.7,500.8 522.4,501.4 521.1,503.0 519.8,502.5 518.5,502.2 517.2,503.2 515.9,504.2 514.6,504.0 513.3,502.2 512.0,501.8 510.7,501.4 509.4,504.3 508.1,501.6 506.8,502.2 505.5,504.1 504.2,502.7 502.9,509.4 501.6,506.8 500.3,502.3 499.0,503.3 497.7,505.8 496.4,504.2 495.1,504.4 493.8,503.0 492.5,508.2 491.2,503.1 489.9,506.0 488.6,505.0 487.3,506.3 486.0,506.2 484.7,505.3 483.4,506.0 482.1,506.8 480.8,505.5 479.5,503.7 478.2,504.2 476.9,511.3 475.6,508.3 474.3,502.6 473.0,503.6 471.7,503.1 470.4,503.0 469.1,507.8 467.8,505.3 466.5,503.5 465.2,503.7 463.9,506.2 462.6,503.8 461.3,502.4 460.0,502.6 458.7,504.5 457.4,503.4 456.1,503.6 454.8,504.2 453.5,505.5 452.2,504.3 450.9,503.2 449.6,505.0 448.3,505.0 447.0,503.0 445.7,504.9 444.4,502.5 443.1,502.6 441.8,504.1 440.5,502.7 439.2,505.7 437.9,507.4 436.6,502.4 435.3,504.3 434.0,505.2 432.7,502.9 431.4,506.6 430.1,506.5 428.8,508.3 427.5,504.5 426.2,505.6 424.9,504.0 423.6,505.8 422.3,507.5 421.0,505.4 419.7,505.4 418.4,506.9 417.1,508.3 415.8,504.1 414.5,505.0 413.2,511.0 411.9,504.4 410.6,509.7 409.3,506.9 408.0,508.5 406.7,506.7 405.4,504.0 404.1,505.7 402.8,504.9 401.5,507.0 400.2,504.5 398.9,507.6 397.6,506.9 396.3,505.7 395.0,504.1 393.7,510.4 392.4,509.1 391.1,503.8 389.8,504.8 388.5,505.4 387.2,506.2 385.9,503.0 384.6,502.9 383.3,503.7 382.0,504.5 380.7,503.2 379.4,504.0 378.1,502.9 376.8,505.0 375.5,507.5 374.2,505.4 372.9,506.9 371.6,506.7 370.3,503.2 369.0,506.6 367.7,502.4 366.4,501.8 365.1,506.4 363.8,504.1 362.5,504.4 361.2,505.8 359.9,502.7 358.6,502.2 357.3,505.3 356.0,504.7 354.7,502.0 353.4,504.8 352.1,503.8 350.8,507.7 349.5,504.5 348.2,505.5 346.9,504.1 345.6,503.5 344.3,502.9 343.0,503.5 341.7,505.5 340.4,506.8 339.1,504.0 337.8,503.7 336.5,508.6 335.2,503.5 333.9,506.8 332.6,504.1 331.3,506.4 330.0,503.3 328.7,509.6 327.4,504.7 326.1,504.9 324.8,502.8 323.5,504.4 322.2,502.7 320.9,503.4 319.6,502.1 318.3,506.4 317.0,502.1 315.7,502.0 314.4,502.5 313.1,504.6 311.8,501.9 310.5,501.9 309.2,503.9 307.9,501.5 306.6,502.9 305.3,503.9 304.0,502.1 302.7,502.1 301.4,507.3 300.1,502.4 298.8,503.4 297.5,501.5 296.2,503.6 294.9,501.4 293.6,502.4 292.3,501.3 291.0,503.2 289.7,505.6 288.4,503.3 287.1,503.2 285.8,501.1 284.5,503.5 283.2,503.1 281.9,502.1 280.6,503.0 279.3,501.1 278.0,501.6 276.7,505.1 275.4,502.1 274.1,502.5 272.8,507.1 271.5,501.5 270.2,503.6 268.9,502.7 267.6,502.6 266.3,502.9 265.0,503.1 263.7,502.8 262.4,506.6 261.1,504.7 259.8,502.7 258.5,506.0 257.2,509.5 255.9,502.8 254.6,507.1 253.3,507.8 252.0,505.4 250.7,505.4 249.4,504.7 248.1,504.0 246.8,504.1 245.5,502.8 244.2,503.2 242.9,504.2 241.6,503.1 240.3,502.8 239.0,506.2 237.7,504.9 236.4,503.7 235.1,502.4 233.8,503.4 232.5,505.0 231.2,503.2 229.9,503.7 228.6,503.3 227.3,503.6 226.0,505.1 224.7,503.5 223.4,502.6 222.1,503.6 220.8,503.2 219.5,503.5 218.2,504.1 216.9,503.1 215.6,505.8 214.3,503.7 213.0,508.1 211.7,501.9 210.4,501.8 209.1,503.7 207.8,504.8 206.5,505.6 205.2,505.3 203.9,503.5 202.6,505.9 201.3,502.2 200.0,507.1 198.7,505.7 197.4,505.9 196.1,509.3 194.8,504.2 193.5,504.4 192.2,505.9 190.9,508.3 189.6,506.6 188.3,506.3 187.0,509.4 185.7,505.8 184.4,505.6 183.1,504.4 181.8,507.8 180.5,507.5 179.2,505.1 177.9,505.7 176.6,504.0 175.3,505.6 174.0,507.3 172.7,505.0 171.4,507.5 170.1,506.9 168.8,506.0 167.5,506.2 166.2,508.1 164.9,507.6 163.6,506.6 162.3,505.4 161.0,505.7 159.7,504.0 158.4,506.9 157.1,506.9 155.8,504.4 154.5,503.6 153.2,507.0 151.9,506.2 150.6,504.6 149.3,503.5 148.0,507.4 146.7,504.2 145.4,505.1 144.1,503.5 142.8,502.9 141.5,502.2 140.2,506.4 138.9,502.3 137.6,506.4 136.3,502.2 135.0,503.2 133.7,502.3 132.4,503.0 131.1,503.8 129.8,503.5 128.5,511.2 127.2,504.2 125.9,508.0 124.6,508.3 123.3,506.1 122.0,502.2 120.7,504.5 119.4,505.0 118.1,504.8 116.8,503.9 115.5,502.9 114.2,504.8 112.9,506.4 111.6,507.8 110.3,503.0 109.0,502.7 107.7,503.6 106.4,505.6 105.1,502.6 103.8,506.3 102.5,502.8 101.2,504.4 99.9,503.4 98.6,508.3 97.3,504.6 96.0,504.6 94.7,507.2 93.4,503.3 92.1,506.9 90.8,507.1 89.5,507.5 88.2,504.4 86.9,503.1 85.6,505.8 84.3,504.2 83.0,505.3 81.7,510.1 80.4,502.8 79.1,506.4 77.8,503.8 76.5,504.0 75.2,502.7 73.9,504.9 72.6,505.0 71.3,503.7 70.0,502.9 68.7,503.1 67.4,503.2 66.1,502.5 64.8,504.8 63.5,503.6 62.2,501.3 60.9,501.4 59.6,501.0 58.3,503.6 57.0,501.8Z" fill="#111" stroke="#111" stroke-width="0.4" stroke-linejoin="round"/>
<line x1="58.5" y1="475.0" x2="58.5" y2="514.0" stroke="#111" stroke-width="3.4" stroke-linecap="round"/>
<line x1="148.3" y1="469.0" x2="148.3" y2="515.0" stroke="#111" stroke-width="3.4" stroke-linecap="round"/>
<line x1="194.0" y1="435.0" x2="194.0" y2="537.0" stroke="#111" stroke-width="3.4" stroke-linecap="round"/>
<line x1="240.5" y1="474.0" x2="240.5" y2="510.0" stroke="#111" stroke-width="3.2" stroke-linecap="round"/>
<line x1="332.5" y1="372.0" x2="332.5" y2="556.0" stroke="#111" stroke-width="3.6" stroke-linecap="round"/>
<path d="M332.5,449.0 L338.0,494.0 L332.5,539.0 L327.0,494.0 Z" fill="#111"/>
<line x1="608.5" y1="427.0" x2="608.5" y2="540.0" stroke="#111" stroke-width="3.0" stroke-linecap="round"/>
<path d="M608.5,464.0 L613.0,494.0 L608.5,524.0 L604.0,494.0 Z" fill="#111"/>
<line x1="200.0" y1="49.0" x2="778.0" y2="49.0" stroke="#111" stroke-width="5" />
<line x1="200.0" y1="49.0" x2="200.0" y2="225.0" stroke="#111" stroke-width="4.6" />
<line x1="775.0" y1="49.0" x2="775.0" y2="240.0" stroke="#111" stroke-width="4.8" />
<line x1="200.0" y1="49.0" x2="15.0" y2="432.0" stroke="#111" stroke-width="5.4" />
<line x1="775.0" y1="240.0" x2="591.0" y2="622.0" stroke="#111" stroke-width="5.6" />
<line x1="775.0" y1="49.0" x2="591.0" y2="432.0" stroke="#111" stroke-width="3.5" />
<line x1="200.0" y1="240.0" x2="15.0" y2="622.0" stroke="#111" stroke-width="4.0" />
<line x1="15.0" y1="432.0" x2="591.0" y2="432.0" stroke="#111" stroke-width="3.8" />
<line x1="15.0" y1="432.0" x2="15.0" y2="622.0" stroke="#111" stroke-width="4.0" />
<line x1="591.0" y1="432.0" x2="591.0" y2="622.0" stroke="#111" stroke-width="3.2" />
<line x1="13.0" y1="622.0" x2="592.0" y2="622.0" stroke="#111" stroke-width="4.8" />
<line x1="24.0" y1="622.0" x2="24.0" y2="627.0" stroke="#111" stroke-width="5" />
<line x1="163.3" y1="622.0" x2="163.3" y2="627.0" stroke="#111" stroke-width="5" />
<line x1="302.5" y1="622.0" x2="302.5" y2="627.0" stroke="#111" stroke-width="5" />
<line x1="441.7" y1="622.0" x2="441.7" y2="627.0" stroke="#111" stroke-width="5" />
<line x1="581.0" y1="622.0" x2="581.0" y2="627.0" stroke="#111" stroke-width="5" />
<line x1="740.2" y1="304.0" x2="750.2" y2="304.0" stroke="#111" stroke-width="4" />
<line x1="678.5" y1="432.0" x2="688.5" y2="432.0" stroke="#111" stroke-width="4" />
<line x1="616.9" y1="560.0" x2="626.9" y2="560.0" stroke="#111" stroke-width="4" />
<line x1="775.0" y1="145.0" x2="781.0" y2="145.0" stroke="#111" stroke-width="3" />
</g>
<g id="panel-b">
<path d="M1209.6,172.8 1210.0,173.2 1210.4,173.8 1210.8,174.6 1211.2,175.3 1211.6,174.8 1212.0,173.6 1212.4,172.3 1212.8,171.0 1213.2,170.0 1213.6,169.6 1214.0,169.8 1214.4,170.8 1214.8,172.6 1215.2,175.1 1215.6,173.0 1216.0,169.8 1216.4,166.9 1216.8,164.6 1217.2,163.1 1217.6,163.6 1218.0,165.8 1218.4,168.7 1218.8,172.0 1219.2,175.3 1219.6,172.8 1220.0,170.6 1220.4,169.2 1220.8,168.1 1221.2,167.5 1221.6,167.7 1222.0,168.7 1222.4,170.4 1222.8,172.8 1223.2,175.4 1223.6,172.5 1224.0,170.3 1224.4,169.0 1224.8,168.7 1225.2,169.2 1225.6,170.3 1226.0,171.7 1226.4,173.3 1226.8,174.5 1227.2,175.3 1227.6,173.6 1228.0,171.6 1228.4,169.5 1228.8,167.7 1229.2,166.4 1229.6,166.1 1230.0,166.7 1230.4,168.5 1230.8,171.9 1231.2,174.4 1231.6,168.8 1232.0,162.8 1232.4,157.2 1232.8,152.9 1233.2,152.0 1233.6,154.0 1234.0,158.0 1234.4,163.7 1234.8,170.5 1235.2,173.4 1235.6,166.6 1236.0,160.9 1236.4,156.8 1236.8,154.7 1237.2,154.7 1237.6,156.9 1238.0,160.7 1238.4,165.6 1238.8,171.1 1239.2,174.3 1239.6,169.7 1240.0,166.6 1240.4,165.2 1240.8,165.4 1241.2,166.7 1241.6,168.9 1242.0,171.3 1242.4,172.3 1242.8,173.1 1243.2,175.5 1243.6,171.8 1244.0,167.2 1244.4,162.2 1244.8,157.8 1245.2,154.6 1245.6,155.0 1246.0,157.9 1246.4,162.3 1246.8,167.9 1247.2,174.0 1247.6,170.9 1248.0,165.3 1248.4,160.8 1248.8,159.4 1249.2,160.0 1249.6,162.2 1250.0,165.3 1250.4,168.8 1250.8,172.1 1251.2,174.6 1251.6,174.7 1252.0,172.8 1252.4,170.6 1252.8,168.4 1253.2,166.6 1253.6,165.6 1254.0,165.5 1254.4,166.6 1254.8,169.6 1255.2,173.2 1255.6,174.7 1256.0,172.4 1256.4,171.0 1256.8,170.7 1257.2,171.1 1257.6,172.2 1258.0,172.6 1258.4,173.0 1258.8,173.7 1259.2,174.6 1259.6,175.4 1260.0,174.4 1260.4,173.5 1260.8,172.7 1261.2,171.9 1261.6,171.4 1262.0,171.3 1262.4,171.7 1262.8,172.5 1263.2,173.7 1263.6,175.2 1264.0,174.1 1264.4,172.7 1264.8,171.7 1265.2,171.2 1265.6,171.1 1266.0,171.4 1266.4,172.1 1266.8,173.1 1267.2,173.9 1267.6,175.1 1268.0,173.9 1268.4,171.4 1268.8,168.6 1269.2,165.9 1269.6,164.0 1270.0,163.2 1270.4,164.4 1270.8,167.1 1271.2,170.8 1271.6,175.0 1272.0,171.7 1272.4,167.5 1272.8,164.1 1273.2,161.8 1273.6,162.1 1274.0,163.7 1274.4,166.3 1274.8,169.5 1275.2,172.7 1275.6,175.5 1276.0,173.3 1276.4,171.9 1276.8,170.6 1277.2,169.8 1277.6,169.6 1278.0,169.9 1278.4,170.9 1278.8,172.3 1279.2,173.9 1279.6,175.2 1280.0,173.6 1280.4,172.3 1280.8,171.5 1281.2,171.2 1281.6,171.3 1282.0,171.9 1282.4,172.8 1282.8,173.7 1283.2,174.7 1283.6,175.2 1284.0,174.1 1284.4,173.2 1284.8,172.5 1285.2,172.1 1285.6,172.1 1286.0,171.2 1286.4,171.1 1286.8,172.0 1287.2,173.9 1287.6,174.2 1288.0,170.7 1288.4,166.9 1288.8,163.7 1289.2,162.7 1289.6,162.9 1290.0,164.4 1290.4,167.0 1290.8,170.2 1291.2,173.9 1291.6,173.5 1292.0,170.4 1292.4,168.4 1292.8,167.5 1293.2,167.7 1293.6,168.8 1294.0,170.4 1294.4,172.2 1294.8,173.9 1295.2,175.1 1295.6,174.5 1296.0,172.7 1296.4,170.8 1296.8,169.0 1297.2,167.7 1297.6,167.1 1298.0,167.3 1298.4,169.2 1298.8,171.6 1299.2,174.2 1299.6,174.1 1300.0,171.6 1300.4,169.6 1300.8,168.2 1301.2,167.2 1301.6,166.0 1302.0,165.8 1302.4,166.9 1302.8,169.2 1303.2,172.8 1303.6,173.6 1304.0,168.6 1304.4,164.0 1304.8,161.0 1305.2,159.5 1305.6,159.6 1306.0,161.1 1306.4,163.9 1306.8,167.7 1307.2,172.1 1307.6,174.4 1308.0,170.1 1308.4,166.5 1308.8,163.9 1309.2,162.4 1309.6,162.2 1310.0,163.3 1310.4,165.5 1310.8,168.4 1311.2,172.0 1311.6,175.1 1312.0,171.2 1312.4,167.8 1312.8,165.1 1313.2,163.3 1313.6,162.5 1314.0,162.0 1314.4,163.0 1314.8,165.7 1315.2,169.9 1315.6,175.3 1316.0,169.6 1316.4,163.3 1316.8,158.0 1317.2,154.4 1317.6,152.8 1318.0,153.4 1318.4,156.1 1318.8,160.7 1319.2,166.9 1319.6,174.1 1320.0,169.7 1320.4,163.8 1320.8,159.7 1321.2,159.0 1321.6,157.9 1322.0,158.7 1322.4,161.0 1322.8,164.5 1323.2,167.8 1323.6,172.0 1324.0,174.3 1324.4,169.6 1324.8,165.3 1325.2,161.9 1325.6,159.7 1326.0,158.6 1326.4,158.3 1326.8,160.0 1327.2,163.9 1327.6,169.9 1328.0,173.5 1328.4,164.9 1328.8,156.3 1329.2,149.8 1329.6,146.8 1330.0,146.8 1330.4,149.5 1330.8,154.6 1331.2,161.5 1331.6,169.4 1332.0,173.5 1332.4,165.3 1332.8,157.3 1333.2,150.4 1333.6,145.5 1334.0,143.2 1334.4,144.1 1334.8,148.4 1335.2,156.0 1335.6,166.6 1336.0,172.4 1336.4,160.2 1336.8,148.9 1337.2,139.7 1337.6,133.6 1338.0,131.4 1338.4,133.3 1338.8,139.2 1339.2,149.4 1339.6,163.3 1340.0,171.2 1340.4,153.7 1340.8,136.9 1341.2,122.6 1341.6,112.9 1342.0,109.3 1342.4,112.2 1342.8,121.7 1343.2,137.3 1343.6,157.9 1344.0,140.7 1344.4,114.5 1344.8,81.8 1345.2,49.3 1345.6,26.6 1346.0,21.6 1346.4,36.2 1346.8,64.9 1347.2,98.7 1347.6,128.7 1348.0,150.5 1348.4,143.3 1348.8,121.2 1349.2,104.5 1349.6,94.8 1350.0,92.9 1350.4,99.0 1350.8,112.8 1351.2,133.1 1351.6,156.9 1352.0,169.3 1352.4,145.9 1352.8,125.9 1353.2,111.3 1353.6,103.3 1354.0,103.0 1354.4,110.3 1354.8,123.5 1355.2,140.8 1355.6,160.5 1356.0,170.6 1356.4,152.3 1356.8,137.4 1357.2,127.4 1357.6,122.8 1358.0,123.8 1358.4,129.6 1358.8,139.4 1359.2,151.8 1359.6,165.4 1360.0,172.3 1360.4,160.0 1360.8,149.5 1361.2,141.8 1361.6,137.5 1362.0,137.0 1362.4,140.2 1362.8,146.7 1363.2,156.1 1363.6,167.2 1364.0,172.9 1364.4,163.3 1364.8,155.8 1365.2,151.1 1365.6,149.2 1366.0,150.2 1366.4,153.3 1366.8,158.0 1367.2,164.0 1367.6,170.6 1368.0,173.9 1368.4,168.3 1368.8,163.9 1369.2,161.1 1369.6,158.9 1370.0,157.9 1370.4,158.6 1370.8,161.1 1371.2,169.5 1371.6,163.5 1372.0,158.3 1372.4,154.7 1372.8,152.5 1373.2,152.6 1373.6,155.4 1374.0,160.7 1374.4,168.3 1374.8,173.7 1375.2,163.9 1375.6,155.3 1376.0,151.3 1376.4,150.7 1376.8,153.0 1377.2,157.5 1377.6,163.1 1378.0,168.7 1378.4,173.5 1378.8,174.2 1379.2,171.3 1379.6,169.0 1380.0,167.4 1380.4,166.7 1380.8,166.9 1381.2,167.9 1381.6,169.7 1382.0,171.1 1382.4,174.0 1382.8,172.1 1383.2,165.7 1383.6,158.7 1384.0,152.3 1384.4,147.4 1384.8,145.3 1385.2,151.2 1385.6,158.7 1386.0,166.7 1386.4,174.3 1386.8,170.5 1387.2,166.2 1387.6,164.1 1388.0,163.1 1388.4,160.5 1388.8,159.4 1389.2,160.3 1389.6,163.3 1390.0,168.5 1390.4,175.5 1390.8,167.4 1391.2,159.5 1391.6,153.5 1392.0,149.6 1392.4,148.4 1392.8,149.8 1393.2,154.0 1393.6,160.3 1394.0,168.2 1394.4,174.0 1394.8,164.7 1395.2,155.8 1395.6,148.4 1396.0,143.4 1396.4,141.4 1396.8,143.0 1397.2,148.1 1397.6,158.5 1398.0,169.1 1398.4,172.5 1398.8,165.1 1399.2,160.4 1399.6,158.6 1400.0,159.3 1400.4,161.3 1400.8,162.8 1401.2,165.5 1401.6,169.2 1402.0,173.4 1402.4,173.3 1402.8,169.4 1403.2,166.2 1403.6,162.9 1404.0,159.5 1404.4,157.6 1404.8,157.7 1405.2,160.3 1405.6,165.4 1406.0,172.8 1406.4,169.2 1406.8,160.5 1407.2,153.6 1407.6,149.0 1408.0,147.2 1408.4,148.2 1408.8,152.0 1409.2,158.0 1409.6,165.7 1410.0,174.3 1410.4,168.5 1410.8,161.3 1411.2,155.9 1411.6,152.9 1412.0,152.1 1412.4,153.5 1412.8,156.5 1413.2,160.6 1413.6,166.4 1414.0,173.4 1414.4,169.9 1414.8,162.2 1415.2,155.5 1415.6,150.3 1416.0,148.2 1416.4,149.4 1416.8,152.9 1417.2,158.3 1417.6,164.9 1418.0,172.0 1418.4,172.2 1418.8,166.2 1419.2,160.3 1419.6,154.9 1420.0,151.0 1420.4,149.1 1420.8,149.9 1421.2,153.4 1421.6,159.7 1422.0,168.1 1422.4,173.2 1422.8,165.4 1423.2,160.3 1423.6,157.9 1424.0,158.0 1424.4,160.3 1424.8,163.8 1425.2,167.0 1425.6,168.5 1426.0,171.4 1426.4,175.4 1426.8,170.3 1427.2,164.7 1427.6,159.5 1428.0,155.1 1428.4,152.7 1428.8,152.7 1429.2,154.9 1429.6,159.4 1430.0,165.8 1430.4,173.7 1430.8,168.7 1431.2,160.2 1431.6,154.7 1432.0,152.7 1432.4,153.4 1432.8,156.3 1433.2,160.6 1433.6,165.6 1434.0,170.4 1434.4,174.2 1434.8,173.8 1435.2,170.3 1435.6,166.9 1436.0,163.9 1436.4,161.8 1436.8,160.8 1437.2,161.3 1437.6,163.7 1438.0,168.0 1438.4,172.5 1438.8,174.2 1439.2,170.6 1439.6,167.9 1440.0,166.3 1440.4,165.8 1440.8,165.8 1441.2,166.2 1441.6,167.5 1442.0,169.7 1442.4,172.5 1442.8,175.2 1443.2,171.8 1443.6,168.6 1444.0,166.6 1444.4,166.0 1444.8,166.4 1445.2,167.7 1445.6,169.5 1446.0,171.6 1446.4,173.6 1446.8,175.3 1447.2,174.4 1447.6,173.2 1448.0,172.2 1448.4,171.6 1448.8,171.3 1449.2,171.5 1449.6,172.0 1450.0,172.5 1450.4,172.8 1450.8,174.5 1451.2,173.6 1451.6,169.6 1452.0,165.2 1452.4,160.9 1452.8,157.4 1453.2,156.9 1453.6,159.6 1454.0,163.5 1454.4,168.0 1454.8,172.7 1455.2,174.0 1455.6,170.6 1456.0,168.1 1456.4,165.9 1456.8,164.1 1457.2,163.2 1457.6,163.6 1458.0,165.2 1458.4,167.9 1458.8,171.7 1459.2,175.0 1459.6,170.3 1460.0,166.0 1460.4,162.3 1460.8,159.8 1461.2,158.6 1461.6,159.0 1462.0,161.1 1462.4,164.8 1462.8,169.9 1463.2,174.9 1463.6,171.7 1464.0,168.2 1464.4,166.0 1464.8,165.1 1465.2,165.4 1465.6,166.2 1466.0,167.4 1466.4,169.4 1466.8,171.8 1467.2,174.5 1467.6,173.8 1468.0,171.3 1468.4,169.4 1468.8,168.2 1469.2,167.9 1469.6,168.3 1470.0,169.4 1470.4,171.0 1470.8,172.9 1471.2,174.9 1471.6,174.3 1472.0,171.6 1472.4,168.3 1472.8,164.7 1473.2,161.8 1473.6,160.1 1474.0,160.3 1474.4,162.9 1474.8,168.0 1475.2,175.0 1475.6,168.7 1476.0,161.9 1476.4,156.2 1476.8,152.4" stroke="#111" stroke-width="2.1" fill="none" stroke-linejoin="round"/>
<path d="M1209.0,161.0 1224.0,163.0 1240.0,164.0" stroke="#111" stroke-width="7.6" fill="none" stroke-linejoin="round" />
<path d="M1260.0,166.0 1276.0,165.0 1288.0,158.0" stroke="#111" stroke-width="7.6" fill="none" stroke-linejoin="round" />
<path d="M1310.6,162.0 1320.0,150.0 1328.5,136.0" stroke="#111" stroke-width="7.6" fill="none" stroke-linejoin="round" />
<path d="M1331.0,115.5 1336.5,84.5" stroke="#111" stroke-width="7.6" fill="none" stroke-linejoin="round" />
<path d="M1337.5,64.0 1342.5,32.0" stroke="#111" stroke-width="7.6" fill="none" stroke-linejoin="round" />
<path d="M1350.0,32.0 1355.0,64.0" stroke="#111" stroke-width="7.6" fill="none" stroke-linejoin="round" />
<path d="M1357.0,85.0 1362.5,116.0" stroke="#111" stroke-width="7.6" fill="none" stroke-linejoin="round" />
<path d="M1365.5,137.0 1373.0,146.0 1381.0,152.0 1391.0,153.0" stroke="#111" stroke-width="7.6" fill="none" stroke-linejoin="round" />
<path d="M1410.0,146.0 1418.0,150.0 1425.0,153.0 1432.0,151.0 1439.0,148.0" stroke="#111" stroke-width="7.6" fill="none" stroke-linejoin="round" />
<path d="M1460.0,149.0 1467.0,155.0 1473.0,158.0 1479.0,158.0" stroke="#111" stroke-width="7.6" fill="none" stroke-linejoin="round" />
<line x1="1208.1" y1="13.8" x2="1208.1" y2="180.5" stroke="#111" stroke-width="2.6" />
<line x1="1203.1" y1="176.5" x2="1483.0" y2="176.5" stroke="#111" stroke-width="3.6" />
<line x1="1208.1" y1="161.1" x2="1210.3" y2="161.1" stroke="#111" stroke-width="1.4" />
<line x1="1208.1" y1="145.6" x2="1210.3" y2="145.6" stroke="#111" stroke-width="1.4" />
<line x1="1208.1" y1="130.2" x2="1210.3" y2="130.2" stroke="#111" stroke-width="1.4" />
<line x1="1208.1" y1="114.7" x2="1210.3" y2="114.7" stroke="#111" stroke-width="1.4" />
<line x1="1208.1" y1="99.2" x2="1210.3" y2="99.2" stroke="#111" stroke-width="1.4" />
<line x1="1208.1" y1="83.8" x2="1210.3" y2="83.8" stroke="#111" stroke-width="1.4" />
<line x1="1208.1" y1="68.3" x2="1210.3" y2="68.3" stroke="#111" stroke-width="1.4" />
<line x1="1208.1" y1="52.9" x2="1210.3" y2="52.9" stroke="#111" stroke-width="1.4" />
<line x1="1208.1" y1="37.4" x2="1210.3" y2="37.4" stroke="#111" stroke-width="1.4" />
<line x1="1208.1" y1="22.0" x2="1210.3" y2="22.0" stroke="#111" stroke-width="1.4" />
<line x1="1208.1" y1="176.5" x2="1208.1" y2="180.0" stroke="#111" stroke-width="1.6" />
<line x1="1261.5" y1="176.5" x2="1261.5" y2="180.0" stroke="#111" stroke-width="1.6" />
<line x1="1341.5" y1="176.5" x2="1341.5" y2="180.0" stroke="#111" stroke-width="1.6" />
<line x1="1394.9" y1="176.5" x2="1394.9" y2="180.0" stroke="#111" stroke-width="1.6" />
<line x1="1475.0" y1="176.5" x2="1475.0" y2="180.0" stroke="#111" stroke-width="1.6" />
<path d="M1301.3,392.5 1301.7,386.2 1302.1,380.5 1302.5,376.3 1302.9,374.6 1303.3,380.4 1303.7,387.6 1304.1,395.1 1304.5,402.1 1304.9,403.0 1305.3,398.8 1305.7,396.5 1306.1,395.2 1306.5,392.5 1306.9,390.6 1307.3,389.9 1307.7,390.7 1308.1,393.1 1308.5,397.1 1308.9,402.3 1309.3,402.6 1309.7,397.7 1310.1,394.4 1310.5,392.9 1310.9,393.0 1311.3,394.5 1311.7,396.8 1312.1,399.5 1312.5,399.0 1312.9,399.5 1313.3,402.9 1313.7,402.2 1314.1,394.0 1314.5,384.5 1314.9,374.8 1315.3,366.4 1315.7,364.9 1316.1,366.8 1316.5,371.8 1316.9,379.5 1317.3,389.2 1317.7,400.2 1318.1,399.5 1318.5,389.2 1318.9,382.9 1319.3,380.2 1319.7,380.8 1320.1,384.1 1320.5,389.1 1320.9,394.7 1321.3,399.9 1321.7,401.9 1322.1,403.8 1322.5,402.6 1322.9,395.7 1323.3,387.3 1323.7,378.4 1324.1,370.4 1324.5,364.6 1324.9,368.6 1325.3,377.0 1325.7,386.4 1326.1,395.4 1326.5,403.0 1326.9,402.7 1327.3,400.0 1327.7,399.9 1328.1,398.0 1328.5,396.6 1328.9,395.8 1329.3,395.9 1329.7,396.8 1330.1,398.5 1330.5,401.1 1330.9,404.2 1331.3,403.0 1331.7,398.6 1332.1,394.0 1332.5,389.7 1332.9,386.2 1333.3,384.2 1333.7,383.9 1334.1,385.5 1334.5,389.1 1334.9,395.0 1335.3,402.8 1335.7,399.0 1336.1,389.2 1336.5,379.7 1336.9,371.5 1337.3,367.5 1337.7,367.3 1338.1,370.2 1338.5,375.8 1338.9,383.7 1339.3,393.0 1339.7,403.1 1340.1,398.1 1340.5,390.7 1340.9,386.4 1341.3,385.1 1341.7,386.4 1342.1,389.7 1342.5,394.1 1342.9,398.7 1343.3,401.8 1343.7,402.8 1344.1,405.0 1344.5,402.8 1344.9,399.0 1345.3,394.8 1345.7,390.9 1346.1,387.7 1346.5,386.6 1346.9,387.8 1347.3,390.5 1347.7,394.4 1348.1,399.3 1348.5,404.8 1348.9,400.6 1349.3,395.3 1349.7,391.1 1350.1,388.2 1350.5,386.9 1350.9,387.1 1351.3,388.8 1351.7,391.8 1352.1,395.8 1352.5,400.4 1352.9,405.2 1353.3,400.2 1353.7,394.2 1354.1,388.4 1354.5,383.6 1354.9,380.2 1355.3,378.7 1355.7,380.5 1356.1,386.8 1356.5,393.5 1356.9,400.0 1357.3,405.5 1357.7,401.5 1358.1,399.1 1358.5,398.6 1358.9,397.3 1359.3,394.3 1359.7,392.4 1360.1,392.0 1360.5,393.7 1360.9,397.5 1361.3,403.4 1361.7,400.2 1362.1,393.9 1362.5,390.3 1362.9,389.3 1363.3,390.5 1363.7,393.2 1364.1,396.8 1364.5,400.4 1364.9,403.3 1365.3,404.7 1365.7,404.8 1366.1,403.2 1366.5,401.8 1366.9,400.7 1367.3,400.1 1367.7,399.9 1368.1,400.3 1368.5,401.3 1368.9,402.7 1369.3,404.3 1369.7,405.1 1370.1,403.5 1370.5,402.2 1370.9,401.2 1371.3,400.5 1371.7,399.9 1372.1,399.9 1372.5,400.6 1372.9,401.8 1373.3,403.5 1373.7,405.4 1374.1,403.1 1374.5,400.6 1374.9,398.0 1375.3,395.8 1375.7,394.3 1376.1,393.9 1376.5,394.8 1376.9,397.0 1377.3,400.3 1377.7,404.7 1378.1,402.3 1378.5,399.0 1378.9,396.7 1379.3,395.5 1379.7,395.4 1380.1,396.2 1380.5,397.5 1380.9,398.7 1381.3,401.0 1381.7,404.1 1382.1,403.2 1382.5,399.3 1382.9,395.7 1383.3,392.6 1383.7,391.7 1384.1,393.0 1384.5,395.4 1384.9,398.3 1385.3,401.4 1385.7,404.1 1386.1,404.8 1386.5,403.4 1386.9,401.9 1387.3,400.1 1387.7,398.3 1388.1,397.0 1388.5,396.4 1388.9,396.7 1389.3,398.2 1389.7,400.9 1390.1,404.7 1390.5,402.3 1390.9,398.4 1391.3,395.1 1391.7,392.6 1392.1,391.2 1392.5,390.9 1392.9,392.2 1393.3,395.1 1393.7,398.6 1394.1,402.4 1394.5,405.0 1394.9,402.0 1395.3,399.8 1395.7,398.5 1396.1,397.7 1396.5,397.0 1396.9,397.0 1397.3,397.9 1397.7,399.4 1398.1,401.5 1398.5,404.0 1398.9,404.2 1399.3,400.6 1399.7,396.0 1400.1,390.9 1400.5,386.2 1400.9,382.7 1401.3,381.1 1401.7,382.2 1402.1,386.2 1402.5,394.9 1402.9,403.8 1403.3,398.9 1403.7,391.9 1404.1,386.8 1404.5,383.9 1404.9,383.2 1405.3,383.8 1405.7,383.8 1406.1,386.1 1406.5,390.8 1406.9,397.9 1407.3,404.2 1407.7,394.1 1408.1,383.8 1408.5,375.4 1408.9,370.6 1409.3,368.9 1409.7,370.5 1410.1,375.0 1410.5,381.9 1410.9,390.6 1411.3,400.3 1411.7,400.8 1412.1,378.0 1412.5,384.8 1412.9,393.7 1413.3,404.1 1413.7,395.8 1414.1,385.1 1414.5,375.6 1414.9,370.7 1415.3,369.3 1415.7,371.2 1416.1,376.0 1416.5,382.8 1416.9,390.7 1417.3,398.8 1417.7,404.6 1418.1,397.2 1418.5,390.2 1418.9,384.1 1419.3,379.6 1419.7,377.1 1420.1,377.0 1420.5,379.3 1420.9,384.3 1421.3,391.3 1421.7,399.8 1422.1,402.0 1422.5,392.8 1422.9,384.5 1423.3,377.6 1423.7,372.9 1424.1,367.8 1424.5,364.9 1424.9,366.2 1425.3,372.3 1425.7,383.3 1426.1,398.8 1426.5,393.4 1426.9,372.8 1427.3,358.1 1427.7,348.7 1428.1,345.0 1428.5,346.8 1428.9,353.3 1429.3,363.6 1429.7,376.3 1430.1,389.5 1430.5,403.5 1430.9,389.7 1431.3,369.4 1431.7,348.9 1432.1,330.5 1432.5,316.6 1432.9,309.6 1433.3,314.7 1433.7,331.1 1434.1,353.6 1434.5,380.3 1434.9,380.5 1435.3,358.7 1435.7,328.7 1436.1,294.9 1436.5,266.2 1436.9,251.6 1437.3,256.6 1437.7,279.3 1438.1,311.8 1438.5,344.5 1438.9,370.7 1439.3,388.1 1439.7,373.9 1440.1,355.7 1440.5,343.0 1440.9,336.4 1441.3,336.0 1441.7,341.3 1442.1,351.5 1442.5,365.6 1442.9,382.1 1443.3,399.2 1443.7,395.6 1444.1,381.5 1444.5,370.6 1444.9,363.6 1445.3,360.7 1445.7,361.4 1446.1,365.4 1446.5,372.5 1446.9,381.9 1447.3,392.8 1447.7,404.1 1448.1,396.0 1448.5,386.5 1448.9,379.8 1449.3,376.4 1449.7,375.9 1450.1,378.1 1450.5,382.3 1450.9,388.0 1451.3,394.3 1451.7,400.5 1452.1,404.8 1452.5,399.6 1452.9,395.3 1453.3,392.1 1453.7,390.2 1454.1,389.7 1454.5,390.6 1454.9,392.2 1455.3,393.9 1455.7,397.2 1456.1,402.0 1456.5,403.2 1456.9,396.8 1457.3,390.5 1457.7,384.9 1458.1,381.7 1458.5,381.5 1458.9,383.4 1459.3,387.0 1459.7,391.8 1460.1,397.5 1460.5,403.3 1460.9,402.0 1461.3,397.5 1461.7,394.6 1462.1,391.7 1462.5,393.1 1462.9,395.4 1463.3,398.2 1463.7,401.1 1464.1,403.5 1464.5,405.4 1464.9,403.7 1465.3,401.8 1465.7,400.2 1466.1,398.9 1466.5,398.2 1466.9,398.1 1467.3,398.7 1467.7,400.2 1468.1,402.0 1468.5,404.0 1468.9,405.1 1469.3,403.5 1469.7,402.1 1470.1,401.1 1470.5,400.7 1470.9,400.7 1471.3,401.1 1471.7,401.8 1472.1,402.8 1472.5,403.9 1472.9,405.0 1473.3,405.1 1473.7,404.1 1474.1,402.9 1474.5,401.6 1474.9,400.5 1475.3,399.7 1475.7,399.4 1476.1,399.7 1476.5,400.8 1476.9,402.9 1477.3,405.1 1477.7,403.7 1478.1,401.8 1478.5,400.2 1478.9,399.1 1479.3,398.6 1479.7,398.8 1480.1,399.8 1480.5,401.2 1480.9,402.7 1481.3,404.3 1481.7,405.3 1482.1,404.1 1482.5,403.4 1482.9,402.6 1483.3,401.2 1483.7,400.0 1484.1,399.2 1484.5,399.1 1484.9,399.9 1485.3,401.6 1485.7,404.1 1486.1,403.6 1486.5,400.0 1486.9,396.5 1487.3,393.4 1487.7,391.1 1488.1,389.9 1488.5,390.1 1488.9,391.8 1489.3,396.4 1489.7,401.1 1490.1,405.3 1490.5,402.5 1490.9,400.5 1491.3,399.8 1491.7,400.2 1492.1,401.0 1492.5,400.8 1492.9,400.9 1493.3,401.6 1493.7,402.7 1494.1,404.2 1494.5,404.9 1494.9,402.9 1495.3,400.6 1495.7,398.2 1496.1,395.9 1496.5,394.3 1496.9,393.6 1497.3,394.2 1497.7,396.1 1498.1,399.4 1498.5,404.0 1498.9,402.3 1499.3,398.1 1499.7,394.8 1500.1,392.6 1500.5,391.6 1500.9,391.9 1501.3,393.4 1501.7,395.3 1502.1,398.2 1502.5,401.8 1502.9,405.2 1503.3,401.3 1503.7,397.7 1504.1,394.7 1504.5,392.7 1504.9,392.0 1505.3,392.4 1505.7,393.9 1506.1,396.4 1506.5,399.5 1506.9,403.1 1507.3,404.3 1507.7,400.5 1508.1,396.1 1508.5,391.8 1508.9,388.1 1509.3,385.6 1509.7,384.8 1510.1,386.1 1510.5,389.5 1510.9,395.8 1511.3,402.8 1511.7,401.7 1512.1,396.3 1512.5,392.3 1512.9,389.9 1513.3,389.2 1513.7,390.1 1514.1,391.1 1514.5,393.3 1514.9,396.6 1515.3,400.6 1515.7,404.9 1516.1,401.7 1516.5,397.7 1516.9,394.4 1517.3,392.6 1517.7,391.9 1518.1,392.5 1518.5,394.1 1518.9,396.6 1519.3,399.6 1519.7,402.8 1520.1,405.1 1520.5,402.0 1520.9,399.2 1521.3,396.9 1521.7,395.3 1522.1,394.5 1522.5,394.7 1522.9,395.8 1523.3,397.1 1523.7,399.4 1524.1,402.9 1524.5,403.5 1524.9,398.4 1525.3,393.1 1525.7,388.3 1526.1,384.6 1526.5,385.9 1526.9,388.8 1527.3,392.8 1527.7,397.2 1528.1,401.3 1528.5,404.6 1528.9,404.1 1529.3,402.6 1529.7,399.7 1530.1,396.3 1530.5,393.1 1530.9,390.8 1531.3,389.8 1531.7,390.7 1532.1,393.6 1532.5,399.4 1532.9,405.3 1533.3,400.4 1533.7,397.3 1534.1,396.2 1534.5,396.7 1534.9,398.5 1535.3,401.1 1535.7,401.4 1536.1,401.5 1536.5,402.6 1536.9,404.6 1537.3,403.6 1537.7,400.3 1538.1,396.7 1538.5,393.4 1538.9,393.4 1539.3,394.5 1539.7,396.6 1540.1,399.2 1540.5,401.8 1540.9,404.1 1541.3,405.1 1541.7,404.0 1542.1,401.9 1542.5,399.4 1542.9,397.0 1543.3,395.0 1543.7,394.0 1544.1,394.4 1544.5,396.3 1544.9,400.0 1545.3,404.8 1545.7,401.4 1546.1,397.1 1546.5,393.5 1546.9,391.0 1547.3,389.8 1547.7,390.1 1548.1,391.1 1548.5,393.5 1548.9,397.3 1549.3,402.4 1549.7,402.7 1550.1,396.5 1550.5,390.6 1550.9,385.6 1551.3,382.7 1551.7,381.8 1552.1,383.0 1552.5,386.4 1552.9,391.6 1553.3,398.4 1553.7,405.0 1554.1,397.4 1554.5,391.6 1554.9,387.9 1555.3,386.6 1555.7,387.3 1556.1,389.7 1556.5,393.3 1556.9,397.4 1557.3,400.8 1557.7,404.2 1558.1,402.8 1558.5,398.5 1558.9,394.5 1559.3,391.1 1559.7,388.7 1560.1,387.8 1560.5,388.4 1560.9,390.6 1561.3,394.4 1561.7,399.4 1562.1,405.4 1562.5,398.7 1562.9,391.9 1563.3,385.6 1563.7,382.6 1564.1,381.7 1564.5,382.7 1564.9,385.5 1565.3,389.5 1565.7,394.3 1566.1,399.3 1566.5,404.2 1566.9,402.5 1567.3,398.9 1567.7,396.3 1568.1,394.8 1568.5,394.5" stroke="#111" stroke-width="2.1" fill="none" stroke-linejoin="round"/>
<line x1="1303.5" y1="389.4" x2="1313.3" y2="385.8" stroke="#111" stroke-width="8.5" />
<line x1="1334.9" y1="385.3" x2="1342.3" y2="377.9" stroke="#111" stroke-width="8.5" />
<line x1="1362.6" y1="387.6" x2="1373.0" y2="385.8" stroke="#111" stroke-width="8.5" />
<line x1="1391.8" y1="373.8" x2="1402.2" y2="375.6" stroke="#111" stroke-width="8.5" />
<line x1="1417.7" y1="366.7" x2="1421.3" y2="356.9" stroke="#111" stroke-width="8.5" />
<line x1="1424.3" y1="335.2" x2="1425.7" y2="324.8" stroke="#111" stroke-width="8.5" />
<line x1="1427.5" y1="302.2" x2="1428.5" y2="291.8" stroke="#111" stroke-width="8.5" />
<line x1="1432.2" y1="268.7" x2="1434.4" y2="258.5" stroke="#111" stroke-width="8.5" />
<line x1="1441.9" y1="267.0" x2="1443.7" y2="277.4" stroke="#111" stroke-width="8.5" />
<line x1="1445.6" y1="299.8" x2="1446.8" y2="310.2" stroke="#111" stroke-width="8.5" />
<line x1="1448.1" y1="331.6" x2="1449.5" y2="342.0" stroke="#111" stroke-width="8.5" />
<line x1="1453.1" y1="363.3" x2="1458.3" y2="372.3" stroke="#111" stroke-width="8.5" />
<line x1="1474.6" y1="386.0" x2="1485.0" y2="387.4" stroke="#111" stroke-width="8.5" />
<line x1="1505.3" y1="389.6" x2="1512.7" y2="382.2" stroke="#111" stroke-width="8.5" />
<line x1="1527.5" y1="381.6" x2="1535.5" y2="388.4" stroke="#111" stroke-width="8.5" />
<line x1="1554.7" y1="389.5" x2="1559.9" y2="380.5" stroke="#111" stroke-width="8.5" />
<line x1="1299.8" y1="243.4" x2="1299.8" y2="410.5" stroke="#111" stroke-width="2.6" />
<line x1="1294.8" y1="406.5" x2="1574.5" y2="406.5" stroke="#111" stroke-width="3.6" />
<line x1="1299.8" y1="391.1" x2="1302.0" y2="391.1" stroke="#111" stroke-width="1.4" />
<line x1="1299.8" y1="375.6" x2="1302.0" y2="375.6" stroke="#111" stroke-width="1.4" />
<line x1="1299.8" y1="360.1" x2="1302.0" y2="360.1" stroke="#111" stroke-width="1.4" />
<line x1="1299.8" y1="344.7" x2="1302.0" y2="344.7" stroke="#111" stroke-width="1.4" />
<line x1="1299.8" y1="329.2" x2="1302.0" y2="329.2" stroke="#111" stroke-width="1.4" />
<line x1="1299.8" y1="313.8" x2="1302.0" y2="313.8" stroke="#111" stroke-width="1.4" />
<line x1="1299.8" y1="298.4" x2="1302.0" y2="298.4" stroke="#111" stroke-width="1.4" />
<line x1="1299.8" y1="282.9" x2="1302.0" y2="282.9" stroke="#111" stroke-width="1.4" />
<line x1="1299.8" y1="267.4" x2="1302.0" y2="267.4" stroke="#111" stroke-width="1.4" />
<line x1="1299.8" y1="252.0" x2="1302.0" y2="252.0" stroke="#111" stroke-width="1.4" />
<line x1="1299.8" y1="406.5" x2="1299.8" y2="410.0" stroke="#111" stroke-width="1.6" />
<line x1="1353.1" y1="406.5" x2="1353.1" y2="410.0" stroke="#111" stroke-width="1.6" />
<line x1="1433.2" y1="406.5" x2="1433.2" y2="410.0" stroke="#111" stroke-width="1.6" />
<line x1="1486.5" y1="406.5" x2="1486.5" y2="410.0" stroke="#111" stroke-width="1.6" />
<line x1="1566.5" y1="406.5" x2="1566.5" y2="410.0" stroke="#111" stroke-width="1.6" />
<path d="M1393.5,637.4 1393.9,638.8 1394.3,640.7 1394.7,642.8 1395.1,644.5 1395.5,645.2 1395.9,643.1 1396.3,640.6 1396.7,638.1 1397.1,636.1 1397.5,634.8 1397.9,634.8 1398.3,636.4 1398.7,639.7 1399.1,643.7 1399.5,642.8 1399.9,638.4 1400.3,634.5 1400.7,631.7 1401.1,630.2 1401.5,630.5 1401.9,632.6 1402.3,636.0 1402.7,640.4 1403.1,645.4 1403.5,640.6 1403.9,636.1 1404.3,632.6 1404.7,631.3 1405.1,632.0 1405.5,634.1 1405.9,637.0 1406.3,640.4 1406.7,643.7 1407.1,644.6 1407.5,642.7 1407.9,640.7 1408.3,639.2 1408.7,638.2 1409.1,637.9 1409.5,638.5 1409.9,640.0 1410.3,642.1 1410.7,644.8 1411.1,643.2 1411.5,640.3 1411.9,637.7 1412.3,635.7 1412.7,634.8 1413.1,635.0 1413.5,636.3 1413.9,639.0 1414.3,642.4 1414.7,645.0 1415.1,641.6 1415.5,638.9 1415.9,637.0 1416.3,636.1 1416.7,636.2 1417.1,637.0 1417.5,638.6 1417.9,641.0 1418.3,644.0 1418.7,643.7 1419.1,640.6 1419.5,637.8 1419.9,635.8 1420.3,636.0 1420.7,637.3 1421.1,639.2 1421.5,641.3 1421.9,643.3 1422.3,645.0 1422.7,644.8 1423.1,644.2 1423.5,643.3 1423.9,642.5 1424.3,641.8 1424.7,641.3 1425.1,641.3 1425.5,641.8 1425.9,642.7 1426.3,644.2 1426.7,645.2 1427.1,643.7 1427.5,642.6 1427.9,641.8 1428.3,641.5 1428.7,641.6 1429.1,642.1 1429.5,641.4 1429.9,641.1 1430.3,642.2 1430.7,644.8 1431.1,642.3 1431.5,637.4 1431.9,632.0 1432.3,626.8 1432.7,626.4 1433.1,627.8 1433.5,630.8 1433.9,634.7 1434.3,639.0 1434.7,643.2 1435.1,644.4 1435.5,641.7 1435.9,638.5 1436.3,635.4 1436.7,632.8 1437.1,631.2 1437.5,630.9 1437.9,632.1 1438.3,634.9 1438.7,639.8 1439.1,645.2 1439.5,641.2 1439.9,637.6 1440.3,635.5 1440.7,634.8 1441.1,635.4 1441.5,637.0 1441.9,638.0 1442.3,639.4 1442.7,641.4 1443.1,644.1 1443.5,644.0 1443.9,640.9 1444.3,638.1 1444.7,635.7 1445.1,635.2 1445.5,635.7 1445.9,637.1 1446.3,639.0 1446.7,641.3 1447.1,643.6 1447.5,645.4 1447.9,643.7 1448.3,641.6 1448.7,639.4 1449.1,637.4 1449.5,635.9 1449.9,635.2 1450.3,635.9 1450.7,637.9 1451.1,640.7 1451.5,645.2 1451.9,639.5 1452.3,632.1 1452.7,624.7 1453.1,618.4 1453.5,614.5 1453.9,613.9 1454.3,620.8 1454.7,630.3 1455.1,639.5 1455.5,643.9 1455.9,638.6 1456.3,635.9 1456.7,635.7 1457.1,637.6 1457.5,637.3 1457.9,637.8 1458.3,639.2 1458.7,641.4 1459.1,644.1 1459.5,643.9 1459.9,640.9 1460.3,637.9 1460.7,633.9 1461.1,630.5 1461.5,628.6 1461.9,628.7 1462.3,631.4 1462.7,636.6 1463.1,644.1 1463.5,638.7 1463.9,633.0 1464.3,630.1 1464.7,629.9 1465.1,632.0 1465.5,635.3 1465.9,639.2 1466.3,642.6 1466.7,644.2 1467.1,645.3 1467.5,643.9 1467.9,642.7 1468.3,641.7 1468.7,641.1 1469.1,641.0 1469.5,641.4 1469.9,641.2 1470.3,642.0 1470.7,643.9 1471.1,644.2 1471.5,640.7 1471.9,637.1 1472.3,633.8 1472.7,631.6 1473.1,631.0 1473.5,632.1 1473.9,634.7 1474.3,638.8 1474.7,643.9 1475.1,641.4 1475.5,635.8 1475.9,632.0 1476.3,631.1 1476.7,632.1 1477.1,634.5 1477.5,637.6 1477.9,640.9 1478.3,643.6 1478.7,645.5 1479.1,644.0 1479.5,641.9 1479.9,639.5 1480.3,637.2 1480.7,635.3 1481.1,634.4 1481.5,634.7 1481.9,636.4 1482.3,640.0 1482.7,644.2 1483.1,642.4 1483.5,638.1 1483.9,634.4 1484.3,631.7 1484.7,630.1 1485.1,630.3 1485.5,633.0 1485.9,636.4 1486.3,640.1 1486.7,643.5 1487.1,644.6 1487.5,642.7 1487.9,641.7 1488.3,640.7 1488.7,638.9 1489.1,637.7 1489.5,637.1 1489.9,637.6 1490.3,639.1 1490.7,641.8 1491.1,645.4 1491.5,641.7 1491.9,638.2 1492.3,635.5 1492.7,633.8 1493.1,633.2 1493.5,633.8 1493.9,635.3 1494.3,637.8 1494.7,640.7 1495.1,644.1 1495.5,643.3 1495.9,639.9 1496.3,637.0 1496.7,634.8 1497.1,633.5 1497.5,633.1 1497.9,633.0 1498.3,634.3 1498.7,637.2 1499.1,641.5 1499.5,644.1 1499.9,638.1 1500.3,632.0 1500.7,627.8 1501.1,626.5 1501.5,627.2 1501.9,629.5 1502.3,633.0 1502.7,637.1 1503.1,641.3 1503.5,645.1 1503.9,642.6 1504.3,639.2 1504.7,636.2 1505.1,635.8 1505.5,633.3 1505.9,631.7 1506.3,631.5 1506.7,632.8 1507.1,635.0 1507.5,638.9 1507.9,644.0 1508.3,640.9 1508.7,634.5 1509.1,628.5 1509.5,623.6 1509.9,620.9 1510.3,621.7 1510.7,624.8 1511.1,629.8 1511.5,636.3 1511.9,643.6 1512.3,640.0 1512.7,633.2 1513.1,627.5 1513.5,623.1 1513.9,620.7 1514.3,620.7 1514.7,623.2 1515.1,628.1 1515.5,635.0 1515.9,643.3 1516.3,638.6 1516.7,629.1 1517.1,620.3 1517.5,613.3 1517.9,609.0 1518.3,608.1 1518.7,611.2 1519.1,618.1 1519.5,628.7 1519.9,641.9 1520.3,634.4 1520.7,619.8 1521.1,606.7 1521.5,596.6 1521.9,590.8 1522.3,590.8 1522.7,597.6 1523.1,609.1 1523.5,624.0 1523.9,641.1 1524.3,632.4 1524.7,616.1 1525.1,602.6 1525.5,592.3 1525.9,585.9 1526.3,585.2 1526.7,590.6 1527.1,602.2 1527.5,619.0 1527.9,620.7 1528.3,599.0 1528.7,569.1 1529.1,535.7 1529.5,507.1 1529.9,492.6 1530.3,497.6 1530.7,520.1 1531.1,552.4 1531.5,584.9 1531.9,611.0 1532.3,628.3 1532.7,610.8 1533.1,596.3 1533.5,587.3 1533.9,584.4 1534.3,587.4 1534.7,595.8 1535.1,608.4 1535.5,624.1 1535.9,641.2 1536.3,632.9 1536.7,617.9 1537.1,606.0 1537.5,598.3 1537.9,595.4 1538.3,597.4 1538.7,604.0 1539.1,614.3 1539.5,627.4 1539.9,641.8 1540.3,634.7 1540.7,621.6 1541.1,612.2 1541.5,607.3 1541.9,606.6 1542.3,609.8 1542.7,616.2 1543.1,624.7 1543.5,634.1 1543.9,643.4 1544.3,639.0 1544.7,630.6 1545.1,623.4 1545.5,618.1 1545.9,615.3 1546.3,615.3 1546.7,618.4 1547.1,624.7 1547.5,633.6 1547.9,643.1 1548.3,638.6 1548.7,630.6 1549.1,624.5 1549.5,620.7 1549.9,619.6 1550.3,621.3 1550.7,625.4 1551.1,631.0 1551.5,637.5 1551.9,644.0 1552.3,641.2 1552.7,636.5 1553.1,633.4 1553.5,631.4 1553.9,630.7 1554.3,631.4 1554.7,633.5 1555.1,638.6 1555.5,642.6 1555.9,644.3 1556.3,640.5 1556.7,637.1 1557.1,634.6 1557.5,633.1 1557.9,632.7 1558.3,633.6 1558.7,635.7 1559.1,638.7 1559.5,642.4 1559.9,644.7 1560.3,641.0 1560.7,638.0 1561.1,635.9 1561.5,634.8 1561.9,634.7 1562.3,635.7 1562.7,636.6 1563.1,637.9 1563.5,641.1 1563.9,644.8 1564.3,638.3 1564.7,631.1 1565.1,624.1 1565.5,618.3 1565.9,617.2 1566.3,620.0 1566.7,625.2 1567.1,632.2 1567.5,639.9 1567.9,643.5 1568.3,636.8 1568.7,631.8 1569.1,629.0 1569.5,628.4 1569.9,629.9 1570.3,632.8 1570.7,636.7 1571.1,640.8 1571.5,644.5 1571.9,643.4 1572.3,640.2 1572.7,637.0 1573.1,634.5 1573.5,632.9 1573.9,632.6 1574.3,633.9 1574.7,636.8 1575.1,641.1 1575.5,644.8 1575.9,639.9 1576.3,635.7 1576.7,632.6 1577.1,630.8 1577.5,630.7 1577.9,632.1 1578.3,635.6 1578.7,639.8 1579.1,643.9 1579.5,643.6 1579.9,641.1 1580.3,639.7 1580.7,639.5 1581.1,640.2 1581.5,638.3 1581.9,637.5 1582.3,638.3 1582.7,641.0 1583.1,645.5 1583.5,639.7 1583.9,633.1 1584.3,627.6 1584.7,626.2 1585.1,627.1 1585.5,629.9 1585.9,634.0 1586.3,638.6 1586.7,643.2 1587.1,644.0 1587.5,641.1 1587.9,638.9 1588.3,637.8 1588.7,637.6 1589.1,638.3 1589.5,639.7 1589.9,641.5 1590.3,643.5 1590.7,645.2 1591.1,644.0 1591.5,642.3 1591.9,641.0 1592.3,640.1 1592.7,639.8 1593.1,640.1 1593.5,641.0 1593.9,642.0 1594.3,643.8 1594.7,644.8 1595.1,642.0 1595.5,639.3 1595.9,636.9 1596.3,634.9 1596.7,633.9 1597.1,633.9 1597.5,635.1 1597.9,637.5 1598.3,641.1 1598.7,645.4 1599.1,640.8 1599.5,636.0 1599.9,631.5 1600.3,627.8 1600.7,625.5 1601.1,624.9 1601.5,626.4 1601.9,629.9 1602.3,635.4 1602.7,642.3 1603.1,640.9 1603.5,633.8 1603.9,628.0 1604.3,623.9 1604.7,622.0 1605.1,622.2 1605.5,624.4 1605.9,628.5 1606.3,634.5 1606.7,640.7 1607.1,644.4 1607.5,639.4 1607.9,635.7 1608.3,633.5 1608.7,632.9 1609.1,633.6 1609.5,635.0 1609.9,637.3 1610.3,639.9 1610.7,642.6 1611.1,645.1 1611.5,644.0 1611.9,642.7 1612.3,640.9 1612.7,637.6 1613.1,634.4 1613.5,631.9 1613.9,631.0 1614.3,632.2 1614.7,635.6 1615.1,641.3 1615.5,642.5 1615.9,636.6 1616.3,632.5 1616.7,630.5 1617.1,630.5 1617.5,632.1 1617.9,634.8 1618.3,638.1 1618.7,640.4 1619.1,643.0 1619.5,645.4 1619.9,643.0 1620.3,641.1 1620.7,639.6 1621.1,638.9 1621.5,638.2 1621.9,636.2 1622.3,635.4 1622.7,636.3 1623.1,639.0 1623.5,643.5 1623.9,641.4 1624.3,634.2 1624.7,628.5 1625.1,626.6 1625.5,627.2 1625.9,629.7 1626.3,633.6 1626.7,637.8 1627.1,641.8 1627.5,644.7 1627.9,644.5 1628.3,642.7 1628.7,641.0 1629.1,639.7 1629.5,638.9 1629.9,638.7 1630.3,639.2 1630.7,640.4 1631.1,641.7 1631.5,644.1 1631.9,643.7 1632.3,639.9 1632.7,636.0 1633.1,632.5 1633.5,629.9 1633.9,629.0 1634.3,630.7 1634.7,633.9 1635.1,638.1 1635.5,643.0 1635.9,642.9 1636.3,638.2 1636.7,634.1 1637.1,630.4 1637.5,626.9 1637.9,625.0 1638.3,625.2 1638.7,628.0 1639.1,633.3 1639.5,640.8 1639.9,641.1 1640.3,632.6 1640.7,626.7 1641.1,623.6 1641.5,623.4 1641.9,625.5 1642.3,629.3 1642.7,634.2 1643.1,639.2 1643.5,643.3 1643.9,644.0 1644.3,640.9 1644.7,638.8 1645.1,637.8 1645.5,637.8 1645.9,638.7 1646.3,639.4 1646.7,638.9 1647.1,640.0 1647.5,642.9 1647.9,643.5 1648.3,637.7 1648.7,631.2 1649.1,625.1 1649.5,622.4 1649.9,624.3 1650.3,628.0 1650.7,632.9 1651.1,638.2 1651.5,642.9 1651.9,644.3 1652.3,642.1 1652.7,640.3 1653.1,638.8 1653.5,638.1 1653.9,638.1 1654.3,638.8 1654.7,640.2 1655.1,642.0 1655.5,644.2 1655.9,644.5 1656.3,641.9 1656.7,639.2 1657.1,636.8 1657.5,635.0 1657.9,634.2 1658.3,634.6 1658.7,636.5 1659.1,639.8 1659.5,643.5 1659.9,643.9" stroke="#111" stroke-width="2.1" fill="none" stroke-linejoin="round"/>
<path d="M1394.0,634.0 1395.0,629.1 1396.0,626.5 1397.0,624.5 1398.0,622.9 1399.0,621.4 1400.0,620.2 1401.0,619.1 1402.0,618.2 1403.0,617.5 1404.0,616.9 1405.0,616.5 1406.0,616.2 1407.0,616.0 1408.0,616.0 1409.0,616.2 1410.0,616.5 1411.0,616.9 1412.0,617.5 1413.0,618.2 1414.0,619.1 1415.0,620.2 1416.0,621.4 1417.0,622.9 1418.0,624.5 1419.0,626.5 1420.0,629.1 1421.0,634.0 1422.0,629.1 1423.0,626.5 1424.0,624.5 1425.0,622.9 1426.0,621.4 1427.0,620.2 1428.0,619.1 1429.0,618.2 1430.0,617.5 1431.0,616.9 1432.0,616.5 1433.0,616.2 1434.0,616.0 1435.0,616.0 1436.0,616.2 1437.0,616.5 1438.0,616.9 1439.0,617.5 1440.0,618.2 1441.0,619.1 1442.0,620.2 1443.0,621.4 1444.0,622.9 1445.0,624.5 1446.0,626.5 1447.0,629.1 1448.0,634.0 1449.0,629.1 1450.0,626.5 1451.0,624.5 1452.0,622.9 1453.0,621.4 1454.0,620.2 1455.0,619.1 1456.0,618.2 1457.0,617.5 1458.0,616.9 1459.0,616.5 1460.0,616.2 1461.0,616.0 1462.0,616.0 1463.0,616.2 1464.0,616.5 1465.0,616.9 1466.0,617.5 1467.0,618.2 1468.0,619.1 1469.0,620.2 1470.0,621.4 1471.0,622.9 1472.0,624.5 1473.0,626.5 1474.0,629.1 1475.0,634.0 1476.0,629.1 1477.0,626.5 1478.0,624.5 1479.0,622.9 1480.0,621.4 1481.0,620.2 1482.0,619.1 1483.0,618.2 1484.0,617.5 1485.0,616.9 1486.0,616.5 1487.0,616.2 1488.0,616.0 1489.0,616.0 1490.0,616.2 1491.0,616.5 1492.0,616.9 1493.0,617.5 1494.0,618.2 1495.0,619.1 1496.0,620.2 1497.0,621.4 1498.0,622.9 1499.0,624.5 1500.0,626.5 1501.0,629.1 1502.0,634.0" stroke="#111" stroke-width="7.2" fill="none" stroke-linejoin="round" stroke-dasharray="26 4 8 4"/>
<path d="M1562.0,635.0 1563.0,630.8 1564.0,628.6 1565.0,626.9 1566.0,625.5 1567.0,624.3 1568.0,623.3 1569.0,622.4 1570.0,621.7 1571.0,621.1 1572.0,620.6 1573.0,620.3 1574.0,620.1 1575.0,620.0 1576.0,620.1 1577.0,620.3 1578.0,620.6 1579.0,621.1 1580.0,621.7 1581.0,622.4 1582.0,623.3 1583.0,624.3 1584.0,625.5 1585.0,626.9 1586.0,628.6 1587.0,630.8 1588.0,635.0 1589.0,630.8 1590.0,628.6 1591.0,626.9 1592.0,625.5 1593.0,624.3 1594.0,623.3 1595.0,622.4 1596.0,621.7 1597.0,621.1 1598.0,620.6 1599.0,620.3 1600.0,620.1 1601.0,620.0 1602.0,620.1 1603.0,620.3 1604.0,620.6 1605.0,621.1 1606.0,621.7 1607.0,622.4 1608.0,623.3 1609.0,624.3 1610.0,625.5 1611.0,626.9 1612.0,628.6 1613.0,630.8 1614.0,635.0 1615.0,630.8 1616.0,628.6 1617.0,626.9 1618.0,625.5 1619.0,624.3 1620.0,623.3 1621.0,622.4 1622.0,621.7 1623.0,621.1 1624.0,620.6 1625.0,620.3 1626.0,620.1 1627.0,620.0 1628.0,620.1 1629.0,620.3 1630.0,620.6 1631.0,621.1 1632.0,621.7 1633.0,622.4 1634.0,623.3 1635.0,624.3 1636.0,625.5 1637.0,626.9 1638.0,628.6 1639.0,630.8 1640.0,635.0 1641.0,630.8 1642.0,628.6 1643.0,626.9 1644.0,625.5 1645.0,624.3 1646.0,623.3 1647.0,622.4 1648.0,621.7 1649.0,621.1 1650.0,620.6 1651.0,620.3 1652.0,620.1 1653.0,620.0 1654.0,620.1 1655.0,620.3 1656.0,620.6 1657.0,621.1 1658.0,621.7 1659.0,622.4 1660.0,623.3 1661.0,624.3 1662.0,625.5 1663.0,626.9 1664.0,628.6" stroke="#111" stroke-width="7.2" fill="none" stroke-linejoin="round" stroke-dasharray="24 4 8 4"/>
<path d="M1497.0,610.0 1503.0,600.0 1509.0,594.0 1514.0,593.0" stroke="#111" stroke-width="7" fill="none" stroke-linejoin="round" />
<path d="M1514.0,586.0 1516.0,574.0" stroke="#111" stroke-width="7.5" fill="none" stroke-linejoin="round" />
<path d="M1516.8,569.0 1520.0,536.0" stroke="#111" stroke-width="7.5" fill="none" stroke-linejoin="round" />
<path d="M1520.5,531.0 1521.8,519.0" stroke="#111" stroke-width="7.5" fill="none" stroke-linejoin="round" />
<path d="M1538.2,519.0 1539.5,531.0" stroke="#111" stroke-width="7.5" fill="none" stroke-linejoin="round" />
<path d="M1540.0,536.0 1543.2,569.0" stroke="#111" stroke-width="7.5" fill="none" stroke-linejoin="round" />
<path d="M1544.0,574.0 1546.0,586.0" stroke="#111" stroke-width="7.5" fill="none" stroke-linejoin="round" />
<path d="M1547.5,594.0 1551.0,607.0 1556.0,618.0 1560.0,623.0" stroke="#111" stroke-width="7.5" fill="none" stroke-linejoin="round" />
<path d="M1520.5,511 Q1522,492 1530,491 Q1538,492 1539.5,511 Q1530,505 1520.5,511 Z" fill="#111"/>
<line x1="1392.0" y1="484.6" x2="1392.0" y2="650.5" stroke="#111" stroke-width="2.6" />
<line x1="1387.0" y1="646.5" x2="1666.0" y2="646.5" stroke="#111" stroke-width="3.6" />
<line x1="1392.0" y1="631.1" x2="1394.2" y2="631.1" stroke="#111" stroke-width="1.4" />
<line x1="1392.0" y1="615.8" x2="1394.2" y2="615.8" stroke="#111" stroke-width="1.4" />
<line x1="1392.0" y1="600.5" x2="1394.2" y2="600.5" stroke="#111" stroke-width="1.4" />
<line x1="1392.0" y1="585.1" x2="1394.2" y2="585.1" stroke="#111" stroke-width="1.4" />
<line x1="1392.0" y1="569.8" x2="1394.2" y2="569.8" stroke="#111" stroke-width="1.4" />
<line x1="1392.0" y1="554.4" x2="1394.2" y2="554.4" stroke="#111" stroke-width="1.4" />
<line x1="1392.0" y1="539.0" x2="1394.2" y2="539.0" stroke="#111" stroke-width="1.4" />
<line x1="1392.0" y1="523.7" x2="1394.2" y2="523.7" stroke="#111" stroke-width="1.4" />
<line x1="1392.0" y1="508.4" x2="1394.2" y2="508.4" stroke="#111" stroke-width="1.4" />
<line x1="1392.0" y1="493.0" x2="1394.2" y2="493.0" stroke="#111" stroke-width="1.4" />
<line x1="1392.0" y1="646.5" x2="1392.0" y2="650.0" stroke="#111" stroke-width="1.6" />
<line x1="1445.2" y1="646.5" x2="1445.2" y2="650.0" stroke="#111" stroke-width="1.6" />
<line x1="1525.0" y1="646.5" x2="1525.0" y2="650.0" stroke="#111" stroke-width="1.6" />
<line x1="1578.2" y1="646.5" x2="1578.2" y2="650.0" stroke="#111" stroke-width="1.6" />
<line x1="1658.0" y1="646.5" x2="1658.0" y2="650.0" stroke="#111" stroke-width="1.6" />
</g>
<g id="panel-c">
<path d="M174.6,1044.8C175.8,999.3 183.4,999.3 184.6,1044.8M184.1,1044.8C185.0,1002.8 190.8,1002.8 191.8,1044.8M195.0,1044.8C196.0,984.0 202.6,984.0 203.6,1044.8M208.4,1044.8C209.7,1008.4 217.7,1008.4 219.0,1044.8M218.6,1044.8C219.7,1003.9 226.7,1003.9 227.9,1044.8M235.2,1044.8C236.5,980.0 244.8,980.0 246.1,1044.8M252.5,1044.8C253.6,995.4 260.4,995.4 261.4,1044.8M267.5,1044.8C268.8,1000.1 276.8,1000.1 278.0,1044.8M286.1,1044.8C287.2,980.0 294.3,980.0 295.4,1044.8M296.4,1044.8C297.4,998.9 303.9,998.9 304.9,1044.8M307.6,1044.8C308.7,992.3 315.8,992.3 317.0,1044.8M317.7,1044.8C318.9,978.4 326.5,978.4 327.7,1044.8M335.2,1044.8C336.3,1000.2 343.7,1000.2 344.8,1044.8M350.7,1044.8C351.7,1009.5 358.5,1009.5 359.6,1044.8M366.7,1044.8C367.9,1003.2 376.0,1003.2 377.3,1044.8M380.1,1044.8C381.4,996.5 389.4,996.5 390.6,1044.8M397.0,1044.8C398.2,994.8 405.8,994.8 407.0,1044.8M409.8,1044.8C411.1,1011.8 418.9,1011.8 420.2,1044.8M420.5,1044.8C421.5,1009.0 427.8,1009.0 428.8,1044.8M434.8,1044.8C435.8,994.8 442.4,994.8 443.4,1044.8M451.0,1044.8C452.1,997.4 459.6,997.4 460.8,1044.8M462.1,1044.8C463.1,996.8 470.1,996.8 471.2,1044.8M477.4,1044.8C478.7,1016.7 486.7,1016.7 488.0,1044.8M494.3,1044.8C495.3,1023.1 501.5,1023.1 502.4,1044.8M511.2,1044.8C512.3,1018.8 519.0,1018.8 520.1,1044.8M519.1,1044.8C520.3,1012.9 528.1,1012.9 529.4,1044.8M536.8,1044.8C538.0,1022.5 546.0,1022.5 547.3,1044.8M547.6,1044.8C548.7,1018.6 555.4,1018.6 556.4,1044.8M561.6,1044.8C562.7,1015.6 569.8,1015.6 570.9,1044.8M575.8,1044.8C576.8,998.6 583.2,998.6 584.2,1044.8M586.1,1044.8C587.1,1001.7 593.6,1001.7 594.7,1044.8M601.9,1044.8C602.8,998.8 608.7,998.8 609.6,1044.8M617.7,1044.8C618.8,1022.3 625.8,1022.3 627.0,1044.8M630.0,1044.8C631.3,1005.0 639.0,1005.0 640.3,1044.8M639.0,1044.8C640.1,1021.2 647.4,1021.2 648.6,1044.8M654.7,1044.8C655.9,1019.2 663.2,1019.2 664.4,1044.8M663.8,1044.8C665.1,1011.0 673.4,1011.0 674.7,1044.8M681.9,1044.8C683.0,1004.9 690.0,1004.9 691.1,1044.8M700.7,1044.8C701.6,988.0 707.3,988.0 708.2,1044.8M715.3,1044.8C716.4,993.6 723.3,993.6 724.4,1044.8" fill="none" stroke="#111" stroke-width="3.4" stroke-linecap="round" stroke-dasharray="0.1 3.7"/>
<path d="M176.4,1044.8C177.6,999.5 185.4,999.5 186.6,1044.8M192.2,1044.8C193.4,1004.5 201.2,1004.5 202.4,1044.8M209.7,1044.8C210.7,980.9 217.1,980.9 218.0,1044.8M220.2,1044.8C221.5,999.9 229.6,999.9 230.9,1044.8M239.7,1044.8C240.6,985.8 246.7,985.8 247.6,1044.8M249.3,1044.8C250.2,996.2 256.2,996.2 257.2,1044.8M262.9,1044.8C263.9,1000.6 269.9,1000.6 270.8,1044.8M272.1,1044.8C273.3,997.9 280.7,997.9 281.9,1044.8M284.1,1044.8C285.2,989.7 291.8,989.7 292.8,1044.8M293.3,1044.8C294.3,1007.6 300.7,1007.6 301.7,1044.8M302.9,1044.8C304.1,1008.6 311.9,1008.6 313.1,1044.8M316.3,1044.8C317.5,999.9 325.4,999.9 326.6,1044.8M328.8,1044.8C329.9,1003.2 336.5,1003.2 337.5,1044.8M344.3,1044.8C345.3,1012.5 351.8,1012.5 352.8,1044.8M361.1,1044.8C362.3,1005.0 370.0,1005.0 371.2,1044.8M379.3,1044.8C380.4,1012.8 387.5,1012.8 388.6,1044.8M388.3,1044.8C389.6,992.6 397.4,992.6 398.7,1044.8M403.2,1044.8C404.5,1014.9 412.8,1014.9 414.1,1044.8M411.7,1044.8C413.0,1008.4 421.2,1008.4 422.5,1044.8M423.2,1044.8C424.5,998.0 432.8,998.0 434.1,1044.8M438.9,1044.8C440.2,1011.9 448.5,1011.9 449.8,1044.8M452.7,1044.8C453.7,992.9 459.7,992.9 460.7,1044.8M471.1,1044.8C472.0,1010.2 477.9,1010.2 478.8,1044.8M485.5,1044.8C486.7,1021.8 493.7,1021.8 494.9,1044.8M498.6,1044.8C499.9,1024.4 507.8,1024.4 509.0,1044.8M517.9,1044.8C518.9,1013.9 525.7,1013.9 526.8,1044.8M532.7,1044.8C533.9,1018.1 541.1,1018.1 542.3,1044.8M545.0,1044.8C546.3,1023.4 554.3,1023.4 555.5,1044.8M558.4,1044.8C559.4,1024.6 565.1,1024.6 566.1,1044.8M570.3,1044.8C571.5,1019.8 579.1,1019.8 580.3,1044.8M580.2,1044.8C581.1,1023.1 587.0,1023.1 588.0,1044.8M595.6,1044.8C596.9,1004.7 604.9,1004.7 606.1,1044.8M613.0,1044.8C614.1,1017.2 621.1,1017.2 622.3,1044.8M627.2,1044.8C628.2,1015.5 634.9,1015.5 636.0,1044.8M637.5,1044.8C638.7,1020.7 646.4,1020.7 647.6,1044.8M654.4,1044.8C655.4,1023.1 661.7,1023.1 662.7,1044.8M664.9,1044.8C666.1,1002.3 673.1,1002.3 674.2,1044.8M677.9,1044.8C679.1,1016.3 686.4,1016.3 687.5,1044.8M696.5,1044.8C697.4,978.4 703.2,978.4 704.1,1044.8M708.8,1044.8C710.1,1013.2 718.0,1013.2 719.3,1044.8" fill="none" stroke="#111" stroke-width="3.4" stroke-linecap="round" stroke-dasharray="0.1 3.7"/>
<path d="M388.1,1044.8C389.2,932.8 396.4,932.8 397.6,1044.8M416.1,1044.8C417.2,924.8 424.4,924.8 425.6,1044.8M432.1,1044.8C433.2,940.8 440.4,940.8 441.6,1044.8M375.1,1044.8C376.2,962.2 383.4,962.2 384.6,1044.8M362.1,1044.8C363.2,986.1 370.4,986.1 371.6,1044.8M446.1,1044.8C447.2,975.5 454.4,975.5 455.6,1044.8M458.1,1044.8C459.2,994.1 466.4,994.1 467.6,1044.8" fill="none" stroke="#111" stroke-width="3.4" stroke-linecap="round" stroke-dasharray="0.1 3.7"/>
<path d="M400.3,1044.8C402.3,984.8 403.3,908.8 404.8,868.8C406.3,908.8 407.3,984.8 409.3,1044.8" fill="none" stroke="#111" stroke-width="3.1" stroke-linecap="round" stroke-dasharray="0.1 10.5"/>
<path d="M397.8,1044.8C400.8,994.8 403.8,938.8 405.3,874.8C407.3,938.8 409.8,994.8 412.8,1044.8" fill="none" stroke="#111" stroke-width="3.1" stroke-linecap="round" stroke-dasharray="0.1 13.0"/>
<path d="M607.5,1044.8C608.6,894.2 615.8,894.2 617.0,1044.8M645.5,1044.8C646.6,896.8 653.8,896.8 655.0,1044.8M592.5,1044.8C593.6,956.8 600.8,956.8 602.0,1044.8M660.5,1044.8C661.6,964.8 668.8,964.8 670.0,1044.8M576.5,1044.8C577.6,988.8 584.8,988.8 586.0,1044.8M706.5,1044.8C707.6,964.8 714.8,964.8 716.0,1044.8M696.5,1044.8C697.6,978.1 704.8,978.1 706.0,1044.8M676.5,1044.8C677.6,991.5 684.8,991.5 686.0,1044.8" fill="none" stroke="#111" stroke-width="3.4" stroke-linecap="round" stroke-dasharray="0.1 3.7"/>
<path d="M626.7,1044.8C628.7,984.8 629.7,908.8 631.2,868.8C632.7,908.8 633.7,984.8 635.7,1044.8" fill="none" stroke="#111" stroke-width="3.1" stroke-linecap="round" stroke-dasharray="0.1 10.5"/>
<path d="M624.2,1044.8C627.2,994.8 630.2,938.8 631.7,874.8C633.7,938.8 636.2,994.8 639.2,1044.8" fill="none" stroke="#111" stroke-width="3.1" stroke-linecap="round" stroke-dasharray="0.1 13.0"/>
<path d="M346.8,1045.8 348.8,1043.1 350.8,1039.9 352.8,1036.4 354.8,1032.7 356.8,1029.0 358.8,1025.2 360.8,1021.4 362.8,1017.6 364.8,1013.8 366.8,1010.1 368.8,1006.4 370.8,1002.8 372.8,999.4 374.8,996.0 376.8,992.8 378.8,989.8 380.8,986.9 382.8,984.2 384.8,981.7 386.8,979.4 388.8,977.3 390.8,975.5 392.8,973.8 394.8,972.5 396.8,971.3 398.8,970.4 400.8,969.8 402.8,969.4 404.8,969.3 406.8,969.4 408.8,969.8 410.8,970.4 412.8,971.3 414.8,972.5 416.8,973.8 418.8,975.5 420.8,977.3 422.8,979.4 424.8,981.7 426.8,984.2 428.8,986.9 430.8,989.8 432.8,992.8 434.8,996.0 436.8,999.4 438.8,1002.8 440.8,1006.4 442.8,1010.1 444.8,1013.8 446.8,1017.6 448.8,1021.4 450.8,1025.2 452.8,1029.0 454.8,1032.7 456.8,1036.4 458.8,1039.9 460.8,1043.1 462.8,1045.8" stroke="#111" stroke-width="3.4" fill="none" stroke-linejoin="round"/>
<line x1="366.8" y1="1010.3" x2="404.8" y2="1010.3" stroke="#111" stroke-width="3.2" />
<line x1="367.8" y1="1009.3" x2="367.8" y2="1043.8" stroke="#111" stroke-width="2.6" />
<line x1="404.8" y1="1002.3" x2="404.8" y2="1018.3" stroke="#111" stroke-width="3.4" />
<path d="M573.2,1045.8 575.2,1043.1 577.2,1039.9 579.2,1036.4 581.2,1032.7 583.2,1029.0 585.2,1025.2 587.2,1021.4 589.2,1017.6 591.2,1013.8 593.2,1010.1 595.2,1006.4 597.2,1002.8 599.2,999.4 601.2,996.0 603.2,992.8 605.2,989.8 607.2,986.9 609.2,984.2 611.2,981.7 613.2,979.4 615.2,977.3 617.2,975.5 619.2,973.8 621.2,972.5 623.2,971.3 625.2,970.4 627.2,969.8 629.2,969.4 631.2,969.3 633.2,969.4 635.2,969.8 637.2,970.4 639.2,971.3 641.2,972.5 643.2,973.8 645.2,975.5 647.2,977.3 649.2,979.4 651.2,981.7 653.2,984.2 655.2,986.9 657.2,989.8 659.2,992.8 661.2,996.0 663.2,999.4 665.2,1002.8 667.2,1006.4 669.2,1010.1 671.2,1013.8 673.2,1017.6 675.2,1021.4 677.2,1025.2 679.2,1029.0 681.2,1032.7 683.2,1036.4 685.2,1039.9 687.2,1043.1 689.2,1045.8" stroke="#111" stroke-width="3.4" fill="none" stroke-linejoin="round"/>
<line x1="593.2" y1="1010.3" x2="631.2" y2="1010.3" stroke="#111" stroke-width="3.2" />
<line x1="594.2" y1="1009.3" x2="594.2" y2="1043.8" stroke="#111" stroke-width="2.6" />
<line x1="631.2" y1="1002.3" x2="631.2" y2="1018.3" stroke="#111" stroke-width="3.4" />
<rect x="200" y="1049.3" width="71" height="9" fill="#a6a6a6"/>
<line x1="176.3" y1="868.8" x2="176.3" y2="1048.8" stroke="#111" stroke-width="3.2" />
<line x1="174.8" y1="1046.8" x2="725.0" y2="1046.8" stroke="#111" stroke-width="4.8" />
<path d="M170.3,1309.0C171.3,1295.7 178.2,1295.7 179.2,1309.0M183.3,1309.0C184.3,1298.8 190.9,1298.8 192.0,1309.0M191.7,1309.0C192.6,1293.5 198.9,1293.5 199.9,1309.0M203.6,1309.0C204.7,1300.5 211.9,1300.5 213.0,1309.0M216.7,1309.0C217.7,1293.0 223.9,1293.0 224.9,1309.0M221.4,1309.0C222.7,1292.7 231.0,1292.7 232.3,1309.0M233.4,1309.0C234.6,1297.5 242.3,1297.5 243.6,1309.0M245.1,1309.0C246.3,1296.6 253.6,1296.6 254.8,1309.0M254.4,1309.0C255.6,1294.6 263.2,1294.6 264.4,1309.0M260.8,1309.0C262.1,1291.1 270.4,1291.1 271.8,1309.0M273.9,1309.0C274.8,1292.4 280.6,1292.4 281.5,1309.0M280.1,1309.0C281.3,1291.6 289.0,1291.6 290.2,1309.0M290.6,1309.0C291.7,1299.3 298.7,1299.3 299.8,1309.0M301.5,1309.0C302.4,1287.5 308.2,1287.5 309.1,1309.0M311.0,1309.0C311.9,1291.6 317.7,1291.6 318.6,1309.0M322.3,1309.0C323.3,1277.2 329.3,1277.2 330.3,1309.0M329.2,1309.0C330.2,1284.4 336.4,1284.4 337.4,1309.0M341.1,1309.0C342.1,1281.8 349.0,1281.8 350.1,1309.0M355.3,1309.0C356.3,1275.4 362.6,1275.4 363.6,1309.0M362.5,1309.0C363.5,1279.2 370.0,1279.2 371.1,1309.0M375.8,1309.0C376.8,1289.1 383.3,1289.1 384.4,1309.0M382.6,1309.0C383.9,1274.8 391.8,1274.8 393.0,1309.0M394.5,1309.0C395.8,1287.1 403.8,1287.1 405.0,1309.0M400.4,1309.0C401.7,1283.1 409.9,1283.1 411.2,1309.0M414.4,1309.0C415.6,1290.5 423.1,1290.5 424.3,1309.0M422.5,1309.0C423.5,1278.5 429.8,1278.5 430.8,1309.0M429.2,1309.0C430.3,1279.9 437.5,1279.9 438.7,1309.0M439.4,1309.0C440.4,1279.8 447.0,1279.8 448.0,1309.0M451.5,1309.0C452.8,1285.5 460.8,1285.5 462.0,1309.0M464.1,1309.0C465.0,1280.1 470.8,1280.1 471.7,1309.0M474.5,1309.0C475.6,1274.4 482.6,1274.4 483.8,1309.0M488.5,1309.0C489.5,1285.0 495.7,1285.0 496.7,1309.0M501.2,1309.0C502.1,1278.0 507.9,1278.0 508.9,1309.0M512.1,1309.0C513.4,1284.8 521.3,1284.8 522.6,1309.0M521.0,1309.0C522.2,1289.5 530.2,1289.5 531.5,1309.0M533.3,1309.0C534.2,1277.5 539.9,1277.5 540.9,1309.0M544.2,1309.0C545.3,1278.9 552.1,1278.9 553.1,1309.0M550.9,1309.0C552.2,1290.2 560.3,1290.2 561.5,1309.0M563.9,1309.0C564.9,1276.5 571.3,1276.5 572.3,1309.0M574.7,1309.0C575.9,1285.1 582.9,1285.1 584.0,1309.0M584.6,1309.0C585.9,1290.2 593.9,1290.2 595.2,1309.0M595.0,1309.0C595.9,1279.2 601.6,1279.2 602.5,1309.0M601.0,1309.0C602.0,1270.5 608.2,1270.5 609.2,1309.0M611.9,1309.0C613.1,1282.2 620.7,1282.2 621.9,1309.0M623.3,1309.0C624.5,1270.7 631.8,1270.7 632.9,1309.0M629.3,1309.0C630.6,1288.5 638.3,1288.5 639.5,1309.0M638.8,1309.0C640.0,1277.7 648.0,1277.7 649.3,1309.0M649.1,1309.0C650.3,1273.0 657.7,1273.0 658.9,1309.0M658.5,1309.0C659.7,1286.0 667.7,1286.0 668.9,1309.0M669.8,1309.0C670.7,1290.4 676.8,1290.4 677.8,1309.0M682.5,1309.0C683.6,1290.2 690.5,1290.2 691.6,1309.0M688.7,1309.0C689.9,1283.1 697.5,1283.1 698.7,1309.0M695.6,1309.0C696.7,1275.5 703.5,1275.5 704.6,1309.0M709.1,1309.0C710.3,1286.2 717.5,1286.2 718.6,1309.0" fill="none" stroke="#111" stroke-width="3.4" stroke-linecap="round" stroke-dasharray="0.1 3.7"/>
<path d="M169.1,1309.0C170.4,1295.4 178.8,1295.4 180.1,1309.0M180.6,1309.0C181.5,1297.1 187.7,1297.1 188.7,1309.0M186.4,1309.0C187.5,1294.9 194.5,1294.9 195.6,1309.0M199.7,1309.0C200.7,1296.4 207.1,1296.4 208.1,1309.0M214.0,1309.0C214.9,1292.4 220.8,1292.4 221.7,1309.0M221.3,1309.0C222.5,1299.8 230.2,1299.8 231.4,1309.0M229.5,1309.0C230.7,1297.0 238.1,1297.0 239.3,1309.0M242.6,1309.0C243.7,1293.2 250.5,1293.2 251.5,1309.0M254.4,1309.0C255.6,1296.6 263.0,1296.6 264.2,1309.0M261.5,1309.0C262.8,1291.9 270.7,1291.9 272.0,1309.0M272.7,1309.0C273.6,1298.3 279.3,1298.3 280.2,1309.0M283.0,1309.0C283.9,1295.4 289.7,1295.4 290.6,1309.0M292.2,1309.0C293.4,1290.5 301.3,1290.5 302.5,1309.0M302.9,1309.0C304.2,1278.4 311.9,1278.4 313.2,1309.0M312.8,1309.0C314.0,1285.9 321.3,1285.9 322.5,1309.0M320.5,1309.0C321.5,1289.8 327.4,1289.8 328.3,1309.0M333.9,1309.0C335.0,1278.0 341.9,1278.0 343.0,1309.0M340.9,1309.0C342.1,1293.3 349.6,1293.3 350.8,1309.0M350.7,1309.0C351.8,1270.0 359.0,1270.0 360.1,1309.0M358.7,1309.0C359.6,1277.0 365.4,1277.0 366.3,1309.0M368.0,1309.0C369.1,1272.9 376.0,1272.9 377.1,1309.0M377.3,1309.0C378.5,1270.8 386.1,1270.8 387.3,1309.0M387.7,1309.0C388.9,1289.4 396.6,1289.4 397.8,1309.0M396.7,1309.0C397.8,1272.1 405.2,1272.1 406.3,1309.0M407.0,1309.0C408.0,1277.3 414.0,1277.3 415.0,1309.0M415.4,1309.0C416.5,1270.3 423.7,1270.3 424.8,1309.0M425.6,1309.0C426.8,1285.7 434.1,1285.7 435.2,1309.0M433.7,1309.0C434.7,1269.9 441.2,1269.9 442.2,1309.0M443.6,1309.0C444.8,1274.0 452.4,1274.0 453.6,1309.0M456.8,1309.0C457.7,1282.2 463.7,1282.2 464.7,1309.0M468.0,1309.0C469.0,1275.2 475.2,1275.2 476.1,1309.0M480.0,1309.0C481.1,1285.4 488.2,1285.4 489.3,1309.0M488.8,1309.0C489.9,1282.5 496.8,1282.5 497.9,1309.0M497.9,1309.0C499.1,1284.6 506.7,1284.6 507.9,1309.0M511.0,1309.0C511.9,1286.4 517.9,1286.4 518.8,1309.0M519.6,1309.0C520.8,1289.0 528.1,1289.0 529.2,1309.0M534.0,1309.0C534.9,1291.5 540.8,1291.5 541.7,1309.0M540.6,1309.0C541.6,1286.0 547.5,1286.0 548.4,1309.0M546.4,1309.0C547.6,1281.0 554.8,1281.0 556.0,1309.0M556.3,1309.0C557.2,1281.3 563.1,1281.3 564.1,1309.0M565.7,1309.0C567.0,1274.8 575.0,1274.8 576.2,1309.0M578.5,1309.0C579.9,1285.6 588.2,1285.6 589.5,1309.0M589.4,1309.0C590.3,1287.9 596.3,1287.9 597.2,1309.0M599.6,1309.0C600.5,1278.6 606.3,1278.6 607.2,1309.0M610.1,1309.0C611.1,1289.1 617.2,1289.1 618.2,1309.0M617.4,1309.0C618.6,1277.9 626.3,1277.9 627.5,1309.0M629.6,1309.0C630.7,1276.3 637.5,1276.3 638.6,1309.0M639.5,1309.0C640.6,1278.0 647.2,1278.0 648.3,1309.0M652.5,1309.0C653.5,1273.3 660.0,1273.3 661.0,1309.0M660.3,1309.0C661.3,1277.5 667.4,1277.5 668.4,1309.0M674.2,1309.0C675.1,1269.2 680.9,1269.2 681.8,1309.0M680.9,1309.0C681.8,1272.3 687.6,1272.3 688.5,1309.0M687.2,1309.0C688.2,1282.7 694.5,1282.7 695.5,1309.0M696.4,1309.0C697.3,1286.9 703.2,1286.9 704.1,1309.0M704.1,1309.0C705.2,1281.2 712.3,1281.2 713.4,1309.0M715.2,1309.0C716.3,1285.9 723.5,1285.9 724.6,1309.0" fill="none" stroke="#111" stroke-width="3.4" stroke-linecap="round" stroke-dasharray="0.1 3.7"/>
<path d="M383.1,1309.0C384.2,1194.4 391.4,1194.4 392.6,1309.0M414.1,1309.0C415.2,1189.0 422.4,1189.0 423.6,1309.0M364.1,1309.0C365.2,1221.0 372.4,1221.0 373.6,1309.0M430.1,1309.0C431.2,1223.7 438.4,1223.7 439.6,1309.0M444.1,1309.0C445.2,1249.0 452.4,1249.0 453.6,1309.0M460.1,1309.0C461.2,1255.7 468.4,1255.7 469.6,1309.0M348.1,1309.0C349.2,1261.0 356.4,1261.0 357.6,1309.0" fill="none" stroke="#111" stroke-width="3.4" stroke-linecap="round" stroke-dasharray="0.1 3.7"/>
<path d="M395.8,1309.0C397.8,1249.0 398.8,1182.5 400.3,1142.5C401.8,1182.5 402.8,1249.0 404.8,1309.0" fill="none" stroke="#111" stroke-width="3.1" stroke-linecap="round" stroke-dasharray="0.1 10.5"/>
<path d="M393.3,1309.0C396.3,1259.0 399.3,1212.5 400.8,1148.5C402.8,1212.5 405.3,1259.0 408.3,1309.0" fill="none" stroke="#111" stroke-width="3.1" stroke-linecap="round" stroke-dasharray="0.1 13.0"/>
<path d="M615.5,1309.0C616.6,1181.0 623.8,1181.0 625.0,1309.0M650.5,1309.0C651.6,1202.4 658.8,1202.4 660.0,1309.0M596.5,1309.0C597.6,1221.0 604.8,1221.0 606.0,1309.0M663.5,1309.0C664.6,1239.7 671.8,1239.7 673.0,1309.0M578.5,1309.0C579.6,1258.3 586.8,1258.3 588.0,1309.0M710.5,1309.0C711.6,1261.0 718.8,1261.0 720.0,1309.0" fill="none" stroke="#111" stroke-width="3.4" stroke-linecap="round" stroke-dasharray="0.1 3.7"/>
<path d="M631.2,1309.0C633.2,1249.0 634.2,1182.5 635.7,1142.5C637.2,1182.5 638.2,1249.0 640.2,1309.0" fill="none" stroke="#111" stroke-width="3.1" stroke-linecap="round" stroke-dasharray="0.1 10.5"/>
<path d="M628.7,1309.0C631.7,1259.0 634.7,1212.5 636.2,1148.5C638.2,1212.5 640.7,1259.0 643.7,1309.0" fill="none" stroke="#111" stroke-width="3.1" stroke-linecap="round" stroke-dasharray="0.1 13.0"/>
<path d="M344.3,1310.0 346.3,1308.1 348.3,1305.4 350.3,1302.4 352.3,1299.2 354.3,1295.8 356.3,1292.2 358.3,1288.6 360.3,1285.0 362.3,1281.4 364.3,1277.7 366.3,1274.1 368.3,1270.6 370.3,1267.2 372.3,1263.8 374.3,1260.6 376.3,1257.6 378.3,1254.7 380.3,1252.0 382.3,1249.5 384.3,1247.2 386.3,1245.1 388.3,1243.2 390.3,1241.7 392.3,1240.3 394.3,1239.2 396.3,1238.4 398.3,1237.9 400.3,1237.6 402.3,1237.6 404.3,1237.9 406.3,1238.4 408.3,1239.2 410.3,1240.3 412.3,1241.7 414.3,1243.2 416.3,1245.1 418.3,1247.2 420.3,1249.5 422.3,1252.0 424.3,1254.7 426.3,1257.6 428.3,1260.6 430.3,1263.8 432.3,1267.2 434.3,1270.6 436.3,1274.1 438.3,1277.7 440.3,1281.4 442.3,1285.0 444.3,1288.6 446.3,1292.2 448.3,1295.8 450.3,1299.2 452.3,1302.4 454.3,1305.4 456.3,1308.1 458.3,1310.0" stroke="#111" stroke-width="3.4" fill="none" stroke-linejoin="round"/>
<line x1="366.8" y1="1276.5" x2="404.8" y2="1276.5" stroke="#111" stroke-width="3.2" />
<line x1="367.8" y1="1275.5" x2="367.8" y2="1308.0" stroke="#111" stroke-width="2.6" />
<line x1="404.8" y1="1268.5" x2="404.8" y2="1284.5" stroke="#111" stroke-width="3.4" />
<path d="M574.2,1310.0 576.2,1308.1 578.2,1305.4 580.2,1302.4 582.2,1299.2 584.2,1295.8 586.2,1292.2 588.2,1288.6 590.2,1285.0 592.2,1281.4 594.2,1277.7 596.2,1274.1 598.2,1270.6 600.2,1267.2 602.2,1263.8 604.2,1260.6 606.2,1257.6 608.2,1254.7 610.2,1252.0 612.2,1249.5 614.2,1247.2 616.2,1245.1 618.2,1243.2 620.2,1241.7 622.2,1240.3 624.2,1239.2 626.2,1238.4 628.2,1237.9 630.2,1237.6 632.2,1237.6 634.2,1237.9 636.2,1238.4 638.2,1239.2 640.2,1240.3 642.2,1241.7 644.2,1243.2 646.2,1245.1 648.2,1247.2 650.2,1249.5 652.2,1252.0 654.2,1254.7 656.2,1257.6 658.2,1260.6 660.2,1263.8 662.2,1267.2 664.2,1270.6 666.2,1274.1 668.2,1277.7 670.2,1281.4 672.2,1285.0 674.2,1288.6 676.2,1292.2 678.2,1295.8 680.2,1299.2 682.2,1302.4 684.2,1305.4 686.2,1308.1 688.2,1310.0" stroke="#111" stroke-width="3.4" fill="none" stroke-linejoin="round"/>
<line x1="593.2" y1="1276.5" x2="631.2" y2="1276.5" stroke="#111" stroke-width="3.2" />
<line x1="594.2" y1="1275.5" x2="594.2" y2="1308.0" stroke="#111" stroke-width="2.6" />
<line x1="631.2" y1="1268.5" x2="631.2" y2="1284.5" stroke="#111" stroke-width="3.4" />
<rect x="203.8" y="1313.5" width="71.19999999999999" height="9" fill="#a6a6a6"/>
<line x1="170.5" y1="1142.5" x2="170.5" y2="1313.0" stroke="#111" stroke-width="3.2" />
<line x1="169.0" y1="1311.0" x2="718.0" y2="1311.0" stroke="#111" stroke-width="4.8" />
<path d="M174.0,1566.7C175.2,1552.5 183.0,1552.5 184.2,1566.7M182.4,1566.7C183.6,1558.3 191.1,1558.3 192.3,1566.7M189.9,1566.7C191.0,1556.9 198.4,1556.9 199.5,1566.7M198.7,1566.7C200.0,1560.1 208.0,1560.1 209.3,1566.7M212.3,1566.7C213.4,1557.7 220.7,1557.7 221.9,1566.7M227.0,1566.7C228.0,1553.3 233.8,1553.3 234.8,1566.7M234.1,1566.7C235.3,1557.8 243.2,1557.8 244.4,1566.7M246.5,1566.7C247.4,1559.2 253.1,1559.2 254.0,1566.7M259.3,1566.7C260.4,1559.0 267.2,1559.0 268.3,1566.7M268.1,1566.7C269.2,1553.1 276.0,1553.1 277.1,1566.7M281.3,1566.7C282.2,1554.3 288.2,1554.3 289.2,1566.7M292.1,1566.7C293.0,1559.1 298.9,1559.1 299.9,1566.7M304.6,1566.7C305.6,1550.7 311.7,1550.7 312.7,1566.7M313.9,1566.7C315.1,1549.2 322.9,1549.2 324.1,1566.7M326.2,1566.7C327.2,1549.6 333.3,1549.6 334.3,1566.7M333.7,1566.7C334.8,1550.2 341.6,1550.2 342.6,1566.7M342.7,1566.7C344.0,1535.5 352.1,1535.5 353.4,1566.7M352.9,1566.7C354.1,1537.9 362.0,1537.9 363.3,1566.7M361.4,1566.7C362.5,1550.9 369.4,1550.9 370.5,1566.7M374.8,1566.7C375.8,1549.7 382.1,1549.7 383.1,1566.7M387.0,1566.7C388.3,1550.0 396.4,1550.0 397.7,1566.7M394.8,1566.7C396.1,1541.5 404.3,1541.5 405.6,1566.7M402.8,1566.7C404.1,1544.4 412.4,1544.4 413.7,1566.7M411.2,1566.7C412.4,1548.8 419.9,1548.8 421.1,1566.7M425.0,1566.7C425.9,1544.3 431.9,1544.3 432.8,1566.7M436.1,1566.7C437.0,1550.8 442.8,1550.8 443.7,1566.7M443.5,1566.7C444.8,1536.4 452.6,1536.4 453.8,1566.7M453.8,1566.7C454.7,1550.7 460.8,1550.7 461.7,1566.7M463.4,1566.7C464.5,1550.2 471.5,1550.2 472.6,1566.7M470.2,1566.7C471.4,1546.6 478.7,1546.6 479.8,1566.7M483.2,1566.7C484.1,1550.8 490.0,1550.8 491.0,1566.7M494.1,1566.7C495.1,1551.1 500.8,1551.1 501.7,1566.7M499.0,1566.7C500.3,1551.3 508.3,1551.3 509.6,1566.7M509.0,1566.7C510.1,1548.5 517.4,1548.5 518.5,1566.7M517.9,1566.7C518.8,1552.8 524.5,1552.8 525.4,1566.7M523.8,1566.7C525.0,1549.9 532.4,1549.9 533.6,1566.7M531.1,1566.7C532.2,1547.9 539.5,1547.9 540.7,1566.7M544.9,1566.7C546.0,1546.0 553.1,1546.0 554.2,1566.7M555.0,1566.7C556.3,1555.4 564.5,1555.4 565.8,1566.7M569.3,1566.7C570.3,1549.5 576.8,1549.5 577.8,1566.7M579.8,1566.7C581.0,1545.0 588.4,1545.0 589.5,1566.7M589.4,1566.7C590.5,1547.0 597.2,1547.0 598.3,1566.7M602.4,1566.7C603.4,1537.5 609.9,1537.5 610.9,1566.7M610.9,1566.7C612.0,1543.8 618.7,1543.8 619.8,1566.7M620.1,1566.7C621.0,1543.0 627.0,1543.0 627.9,1566.7M624.7,1566.7C626.0,1549.0 634.3,1549.0 635.6,1566.7M638.3,1566.7C639.2,1543.1 645.3,1543.1 646.2,1566.7M650.8,1566.7C652.1,1536.7 660.4,1536.7 661.7,1566.7M662.7,1566.7C663.7,1547.1 669.9,1547.1 670.8,1566.7M674.2,1566.7C675.4,1549.6 682.7,1549.6 683.8,1566.7M685.8,1566.7C687.0,1550.5 694.8,1550.5 696.1,1566.7M700.4,1566.7C701.3,1556.2 707.3,1556.2 708.3,1566.7M706.5,1566.7C707.7,1553.7 714.8,1553.7 716.0,1566.7M715.8,1566.7C717.0,1551.8 724.6,1551.8 725.8,1566.7" fill="none" stroke="#111" stroke-width="3.4" stroke-linecap="round" stroke-dasharray="0.1 3.7"/>
<path d="M171.5,1566.7C172.7,1559.0 180.7,1559.0 181.9,1566.7M180.3,1566.7C181.6,1555.2 189.8,1555.2 191.0,1566.7M188.9,1566.7C190.0,1559.7 196.4,1559.7 197.4,1566.7M198.1,1566.7C199.1,1555.8 205.3,1555.8 206.3,1566.7M209.1,1566.7C210.4,1555.1 218.1,1555.1 219.4,1566.7M216.9,1566.7C218.1,1558.1 225.5,1558.1 226.7,1566.7M225.9,1566.7C227.1,1552.3 234.9,1552.3 236.1,1566.7M234.1,1566.7C235.1,1559.1 241.7,1559.1 242.7,1566.7M246.6,1566.7C247.6,1555.2 253.9,1555.2 254.9,1566.7M251.6,1566.7C252.9,1556.0 261.1,1556.0 262.4,1566.7M263.0,1566.7C264.1,1552.4 271.1,1552.4 272.2,1566.7M276.3,1566.7C277.6,1556.1 285.5,1556.1 286.7,1566.7M284.7,1566.7C285.9,1559.6 293.6,1559.6 294.8,1566.7M291.3,1566.7C292.6,1553.6 300.8,1553.6 302.1,1566.7M300.7,1566.7C301.8,1552.6 309.1,1552.6 310.3,1566.7M312.2,1566.7C313.3,1555.9 320.7,1555.9 321.9,1566.7M320.1,1566.7C321.2,1555.5 327.7,1555.5 328.7,1566.7M328.7,1566.7C329.9,1551.6 337.5,1551.6 338.7,1566.7M339.3,1566.7C340.4,1552.2 347.3,1552.2 348.4,1566.7M349.8,1566.7C350.9,1537.6 357.5,1537.6 358.6,1566.7M361.2,1566.7C362.5,1540.8 370.5,1540.8 371.7,1566.7M371.8,1566.7C372.8,1549.1 378.7,1549.1 379.7,1566.7M381.9,1566.7C383.0,1535.1 389.5,1535.1 390.5,1566.7M390.9,1566.7C392.0,1537.9 398.7,1537.9 399.8,1566.7M403.2,1566.7C404.4,1551.8 412.5,1551.8 413.8,1566.7M411.7,1566.7C412.9,1535.0 420.7,1535.0 421.9,1566.7M425.0,1566.7C426.1,1544.0 432.6,1544.0 433.6,1566.7M433.4,1566.7C434.5,1536.7 441.3,1536.7 442.4,1566.7M439.1,1566.7C440.2,1541.4 447.6,1541.4 448.8,1566.7M450.7,1566.7C451.6,1550.8 457.8,1550.8 458.8,1566.7M462.0,1566.7C463.2,1549.1 470.7,1549.1 471.9,1566.7M469.3,1566.7C470.3,1549.5 476.7,1549.5 477.7,1566.7M477.4,1566.7C478.3,1555.1 484.3,1555.1 485.2,1566.7M484.4,1566.7C485.6,1547.2 492.9,1547.2 494.0,1566.7M495.4,1566.7C496.4,1551.8 502.7,1551.8 503.7,1566.7M505.7,1566.7C506.8,1546.0 513.7,1546.0 514.8,1566.7M512.3,1566.7C513.4,1544.9 520.4,1544.9 521.5,1566.7M519.5,1566.7C520.6,1546.0 527.3,1546.0 528.3,1566.7M526.4,1566.7C527.5,1544.6 534.1,1544.6 535.1,1566.7M534.7,1566.7C535.6,1550.8 541.4,1550.8 542.3,1566.7M542.1,1566.7C543.2,1548.4 549.8,1548.4 550.8,1566.7M547.2,1566.7C548.5,1553.1 556.8,1553.1 558.1,1566.7M560.5,1566.7C561.4,1548.9 567.3,1548.9 568.2,1566.7M573.5,1566.7C574.6,1549.7 581.7,1549.7 582.8,1566.7M585.5,1566.7C586.7,1539.7 594.6,1539.7 595.9,1566.7M592.6,1566.7C593.9,1541.9 601.8,1541.9 603.1,1566.7M602.5,1566.7C603.5,1549.8 609.7,1549.8 610.6,1566.7M609.1,1566.7C610.2,1544.8 617.5,1544.8 618.7,1566.7M616.7,1566.7C617.7,1551.8 623.6,1551.8 624.5,1566.7M623.7,1566.7C624.9,1546.3 632.7,1546.3 633.9,1566.7M636.2,1566.7C637.3,1550.4 644.2,1550.4 645.3,1566.7M647.5,1566.7C648.6,1537.5 655.3,1537.5 656.4,1566.7M655.9,1566.7C657.0,1545.0 663.9,1545.0 665.0,1566.7M666.5,1566.7C667.7,1534.8 675.1,1534.8 676.3,1566.7M678.1,1566.7C679.2,1542.9 685.8,1542.9 686.9,1566.7M690.2,1566.7C691.5,1555.2 699.2,1555.2 700.4,1566.7M702.8,1566.7C703.9,1556.5 710.8,1556.5 711.9,1566.7M714.7,1566.7C715.8,1550.4 722.4,1550.4 723.5,1566.7" fill="none" stroke="#111" stroke-width="3.4" stroke-linecap="round" stroke-dasharray="0.1 3.7"/>
<path d="M383.1,1566.7C384.2,1452.1 391.4,1452.1 392.6,1566.7M414.1,1566.7C415.2,1446.7 422.4,1446.7 423.6,1566.7M364.1,1566.7C365.2,1478.7 372.4,1478.7 373.6,1566.7M430.1,1566.7C431.2,1481.4 438.4,1481.4 439.6,1566.7M444.1,1566.7C445.2,1506.7 452.4,1506.7 453.6,1566.7M348.1,1566.7C349.2,1526.7 356.4,1526.7 357.6,1566.7" fill="none" stroke="#111" stroke-width="3.4" stroke-linecap="round" stroke-dasharray="0.1 3.7"/>
<path d="M395.8,1566.7C397.8,1506.7 398.8,1440.5 400.3,1400.5C401.8,1440.5 402.8,1506.7 404.8,1566.7" fill="none" stroke="#111" stroke-width="3.1" stroke-linecap="round" stroke-dasharray="0.1 10.5"/>
<path d="M393.3,1566.7C396.3,1516.7 399.3,1470.5 400.8,1406.5C402.8,1470.5 405.3,1516.7 408.3,1566.7" fill="none" stroke="#111" stroke-width="3.1" stroke-linecap="round" stroke-dasharray="0.1 13.0"/>
<path d="M615.5,1566.7C616.6,1444.1 623.8,1444.1 625.0,1566.7M648.5,1566.7C649.6,1452.1 656.8,1452.1 658.0,1566.7M596.5,1566.7C597.6,1478.7 604.8,1478.7 606.0,1566.7M663.5,1566.7C664.6,1497.4 671.8,1497.4 673.0,1566.7M578.5,1566.7C579.6,1516.0 586.8,1516.0 588.0,1566.7M676.5,1566.7C677.6,1526.7 684.8,1526.7 686.0,1566.7" fill="none" stroke="#111" stroke-width="3.4" stroke-linecap="round" stroke-dasharray="0.1 3.7"/>
<path d="M630.7,1566.7C632.7,1506.7 633.7,1440.5 635.2,1400.5C636.7,1440.5 637.7,1506.7 639.7,1566.7" fill="none" stroke="#111" stroke-width="3.1" stroke-linecap="round" stroke-dasharray="0.1 10.5"/>
<path d="M628.2,1566.7C631.2,1516.7 634.2,1470.5 635.7,1406.5C637.7,1470.5 640.2,1516.7 643.2,1566.7" fill="none" stroke="#111" stroke-width="3.1" stroke-linecap="round" stroke-dasharray="0.1 13.0"/>
<path d="M345.3,1567.7 347.3,1565.7 349.3,1563.0 351.3,1559.9 353.3,1556.6 355.3,1553.2 357.3,1549.6 359.3,1545.9 361.3,1542.2 363.3,1538.4 365.3,1534.7 367.3,1531.1 369.3,1527.5 371.3,1523.9 373.3,1520.5 375.3,1517.3 377.3,1514.2 379.3,1511.2 381.3,1508.4 383.3,1505.9 385.3,1503.5 387.3,1501.4 389.3,1499.5 391.3,1497.9 393.3,1496.5 395.3,1495.4 397.3,1494.6 399.3,1494.0 401.3,1493.7 403.3,1493.7 405.3,1494.0 407.3,1494.6 409.3,1495.4 411.3,1496.5 413.3,1497.9 415.3,1499.5 417.3,1501.4 419.3,1503.5 421.3,1505.9 423.3,1508.4 425.3,1511.2 427.3,1514.2 429.3,1517.3 431.3,1520.5 433.3,1523.9 435.3,1527.5 437.3,1531.1 439.3,1534.7 441.3,1538.4 443.3,1542.2 445.3,1545.9 447.3,1549.6 449.3,1553.2 451.3,1556.6 453.3,1559.9 455.3,1563.0 457.3,1565.7 459.3,1567.7" stroke="#111" stroke-width="3.4" fill="none" stroke-linejoin="round"/>
<line x1="366.8" y1="1534.2" x2="404.8" y2="1534.2" stroke="#111" stroke-width="3.2" />
<line x1="367.8" y1="1533.2" x2="367.8" y2="1565.7" stroke="#111" stroke-width="2.6" />
<line x1="404.8" y1="1526.2" x2="404.8" y2="1542.2" stroke="#111" stroke-width="3.4" />
<path d="M574.2,1567.7 576.2,1565.7 578.2,1563.0 580.2,1559.9 582.2,1556.6 584.2,1553.2 586.2,1549.6 588.2,1545.9 590.2,1542.2 592.2,1538.4 594.2,1534.7 596.2,1531.1 598.2,1527.5 600.2,1523.9 602.2,1520.5 604.2,1517.3 606.2,1514.2 608.2,1511.2 610.2,1508.4 612.2,1505.9 614.2,1503.5 616.2,1501.4 618.2,1499.5 620.2,1497.9 622.2,1496.5 624.2,1495.4 626.2,1494.6 628.2,1494.0 630.2,1493.7 632.2,1493.7 634.2,1494.0 636.2,1494.6 638.2,1495.4 640.2,1496.5 642.2,1497.9 644.2,1499.5 646.2,1501.4 648.2,1503.5 650.2,1505.9 652.2,1508.4 654.2,1511.2 656.2,1514.2 658.2,1517.3 660.2,1520.5 662.2,1523.9 664.2,1527.5 666.2,1531.1 668.2,1534.7 670.2,1538.4 672.2,1542.2 674.2,1545.9 676.2,1549.6 678.2,1553.2 680.2,1556.6 682.2,1559.9 684.2,1563.0 686.2,1565.7 688.2,1567.7" stroke="#111" stroke-width="3.4" fill="none" stroke-linejoin="round"/>
<line x1="593.2" y1="1534.2" x2="631.2" y2="1534.2" stroke="#111" stroke-width="3.2" />
<line x1="594.2" y1="1533.2" x2="594.2" y2="1565.7" stroke="#111" stroke-width="2.6" />
<line x1="631.2" y1="1526.2" x2="631.2" y2="1542.2" stroke="#111" stroke-width="3.4" />
<rect x="205" y="1571.2" width="72.5" height="9" fill="#a6a6a6"/>
<line x1="173.0" y1="1400.5" x2="173.0" y2="1570.7" stroke="#111" stroke-width="3.2" />
<line x1="171.5" y1="1568.7" x2="722.0" y2="1568.7" stroke="#111" stroke-width="4.8" />
<line x1="199.3" y1="1067.0" x2="199.3" y2="1546.0" stroke="#111" stroke-width="3.4" stroke-dasharray="4.4 15"/>
<line x1="275.5" y1="1067.0" x2="275.5" y2="1546.0" stroke="#111" stroke-width="3.4" stroke-dasharray="4.4 15"/>
<line x1="404.8" y1="922.0" x2="404.8" y2="1046.0" stroke="#111" stroke-width="3.2" stroke-dasharray="18 8"/>
<line x1="631.2" y1="958.0" x2="631.2" y2="1046.0" stroke="#111" stroke-width="3.2" stroke-dasharray="18 8"/>
<line x1="404.8" y1="1052.5" x2="404.8" y2="1306.0" stroke="#111" stroke-width="3.0" stroke-dasharray="19.5 6.6"/>
<line x1="404.8" y1="1317.0" x2="404.8" y2="1542.0" stroke="#111" stroke-width="3.0" stroke-dasharray="19.5 6.6"/>
<line x1="631.2" y1="1052.5" x2="631.2" y2="1306.0" stroke="#111" stroke-width="3.0" stroke-dasharray="19.5 6.6"/>
<line x1="631.2" y1="1317.0" x2="631.2" y2="1542.0" stroke="#111" stroke-width="3.0" stroke-dasharray="19.5 6.6"/>
<line x1="405.0" y1="925.0" x2="219.5" y2="925.0" stroke="#111" stroke-width="4.5" />
<path d="M205.5,925 L229.0,916.5 L225.5,925 L229.0,933.5 Z" fill="#111"/>
<line x1="405.0" y1="964.3" x2="292.3" y2="964.3" stroke="#111" stroke-width="4.5" />
<path d="M278.3,964.3 L301.8,955.8 L298.3,964.3 L301.8,972.8 Z" fill="#111"/>
</g>
<g id="panel-d">
<line x1="1154.7" y1="978.5" x2="1154.7" y2="1448.3" stroke="#111" stroke-width="6.2" />
<line x1="1145.7" y1="1440.3" x2="1753.0" y2="1440.3" stroke="#111" stroke-width="5.6" />
<line x1="1145.7" y1="982.0" x2="1154.7" y2="982.0" stroke="#111" stroke-width="7" />
<line x1="1149.7" y1="1394.5" x2="1154.7" y2="1394.5" stroke="#111" stroke-width="4" stroke-linecap="round"/>
<line x1="1145.7" y1="1348.6" x2="1154.7" y2="1348.6" stroke="#111" stroke-width="5" />
<line x1="1149.7" y1="1302.8" x2="1154.7" y2="1302.8" stroke="#111" stroke-width="4" stroke-linecap="round"/>
<line x1="1145.7" y1="1257.0" x2="1154.7" y2="1257.0" stroke="#111" stroke-width="5" />
<line x1="1149.7" y1="1211.2" x2="1154.7" y2="1211.2" stroke="#111" stroke-width="4" stroke-linecap="round"/>
<line x1="1145.7" y1="1165.3" x2="1154.7" y2="1165.3" stroke="#111" stroke-width="5" />
<line x1="1149.7" y1="1119.5" x2="1154.7" y2="1119.5" stroke="#111" stroke-width="4" stroke-linecap="round"/>
<line x1="1145.7" y1="1073.7" x2="1154.7" y2="1073.7" stroke="#111" stroke-width="5" />
<line x1="1149.7" y1="1027.8" x2="1154.7" y2="1027.8" stroke="#111" stroke-width="4" stroke-linecap="round"/>
<line x1="1154.7" y1="1440.3" x2="1154.7" y2="1448.3" stroke="#111" stroke-width="5" />
<line x1="1452.3" y1="1440.3" x2="1452.3" y2="1448.3" stroke="#111" stroke-width="5" />
<line x1="1750.0" y1="1440.3" x2="1750.0" y2="1448.3" stroke="#111" stroke-width="5" />
<line x1="1244.3" y1="1440.3" x2="1244.3" y2="1444.3" stroke="#111" stroke-width="2.5" />
<line x1="1296.7" y1="1440.3" x2="1296.7" y2="1444.3" stroke="#111" stroke-width="2.5" />
<line x1="1333.9" y1="1440.3" x2="1333.9" y2="1444.3" stroke="#111" stroke-width="2.5" />
<line x1="1362.7" y1="1440.3" x2="1362.7" y2="1444.3" stroke="#111" stroke-width="2.5" />
<line x1="1386.3" y1="1440.3" x2="1386.3" y2="1444.3" stroke="#111" stroke-width="2.5" />
<line x1="1406.2" y1="1440.3" x2="1406.2" y2="1444.3" stroke="#111" stroke-width="2.5" />
<line x1="1423.5" y1="1440.3" x2="1423.5" y2="1444.3" stroke="#111" stroke-width="2.5" />
<line x1="1438.7" y1="1440.3" x2="1438.7" y2="1444.3" stroke="#111" stroke-width="2.5" />
<line x1="1542.0" y1="1440.3" x2="1542.0" y2="1444.3" stroke="#111" stroke-width="2.5" />
<line x1="1594.4" y1="1440.3" x2="1594.4" y2="1444.3" stroke="#111" stroke-width="2.5" />
<line x1="1631.6" y1="1440.3" x2="1631.6" y2="1444.3" stroke="#111" stroke-width="2.5" />
<line x1="1660.4" y1="1440.3" x2="1660.4" y2="1444.3" stroke="#111" stroke-width="2.5" />
<line x1="1684.0" y1="1440.3" x2="1684.0" y2="1444.3" stroke="#111" stroke-width="2.5" />
<line x1="1703.9" y1="1440.3" x2="1703.9" y2="1444.3" stroke="#111" stroke-width="2.5" />
<line x1="1721.2" y1="1440.3" x2="1721.2" y2="1444.3" stroke="#111" stroke-width="2.5" />
<line x1="1736.4" y1="1440.3" x2="1736.4" y2="1444.3" stroke="#111" stroke-width="2.5" />
<rect x="1564.5" y="1272" width="13" height="13" fill="#777"/>
<rect x="1567.2" y="1274.7" width="7.6" height="7.6" fill="#111"/>
<circle cx="1571.0" cy="1336.8" r="5.6" fill="#111"/>
<path d="M1564.5,1394.0 L1577.5,1394.0 L1571.0,1382.0 Z" fill="#111"/>
<rect x="1357.4" y="1082.4" width="12" height="12" fill="#111"/>
<rect x="1380.6" y="1092.8" width="12" height="12" fill="#111"/>
<rect x="1432.9" y="1087.7" width="12" height="12" fill="#111"/>
<rect x="1446.2" y="1022.5" width="12" height="12" fill="#111"/>
<rect x="1238.9" y="1219.6" width="12" height="12" fill="#111"/>
<rect x="1481.0" y="1064.3" width="12" height="12" fill="#111"/>
<rect x="1490.1" y="1054.8" width="12" height="12" fill="#111"/>
<rect x="1515.4" y="1026.3" width="12" height="12" fill="#111"/>
<rect x="1523.0" y="1026.3" width="12" height="12" fill="#111"/>
<rect x="1542.4" y="1032.9" width="12" height="12" fill="#111"/>
<rect x="1548.0" y="1033.9" width="12" height="12" fill="#111"/>
<rect x="1564.6" y="1057.1" width="12" height="12" fill="#111"/>
<rect x="1569.9" y="1040.5" width="12" height="12" fill="#111"/>
<rect x="1584.2" y="1032.9" width="12" height="12" fill="#111"/>
<rect x="1601.3" y="1050.0" width="12" height="12" fill="#111"/>
<rect x="1604.2" y="1046.2" width="12" height="12" fill="#111"/>
<rect x="1618.8" y="1042.4" width="12" height="12" fill="#111"/>
<rect x="1616.0" y="1019.1" width="12" height="12" fill="#111"/>
<rect x="1629.8" y="1029.1" width="12" height="12" fill="#111"/>
<rect x="1641.2" y="1040.5" width="12" height="12" fill="#111"/>
<rect x="1644.1" y="1019.6" width="12" height="12" fill="#111"/>
<rect x="1652.6" y="1019.6" width="12" height="12" fill="#111"/>
<rect x="1662.1" y="1027.2" width="12" height="12" fill="#111"/>
<rect x="1664.4" y="1005.9" width="12" height="12" fill="#111"/>
<rect x="1673.5" y="1024.4" width="12" height="12" fill="#111"/>
<rect x="1671.6" y="1061.8" width="12" height="12" fill="#111"/>
<rect x="1680.2" y="1004.4" width="12" height="12" fill="#111"/>
<rect x="1683.0" y="1034.8" width="12" height="12" fill="#111"/>
<rect x="1688.7" y="1037.7" width="12" height="12" fill="#111"/>
<rect x="1690.7" y="1022.5" width="12" height="12" fill="#111"/>
<rect x="1695.4" y="1029.1" width="12" height="12" fill="#111"/>
<rect x="1698.3" y="1009.2" width="12" height="12" fill="#111"/>
<rect x="1705.9" y="1010.1" width="12" height="12" fill="#111"/>
<rect x="1710.6" y="1046.6" width="12" height="12" fill="#111"/>
<rect x="1715.4" y="1011.1" width="12" height="12" fill="#111"/>
<rect x="1717.3" y="1028.2" width="12" height="12" fill="#111"/>
<rect x="1724.9" y="1023.4" width="12" height="12" fill="#111"/>
<rect x="1729.6" y="1017.7" width="12" height="12" fill="#111"/>
<rect x="1730.6" y="1031.0" width="12" height="12" fill="#111"/>
<rect x="1736.3" y="1029.1" width="12" height="12" fill="#111"/>
<rect x="1733.4" y="1032.9" width="12" height="12" fill="#111"/>
<rect x="1740.0" y="1030.0" width="12" height="12" fill="#111"/>
<circle cx="1244.2" cy="1187.2" r="6.7" fill="#111"/>
<circle cx="1362.8" cy="1209.5" r="6.7" fill="#111"/>
<circle cx="1386.6" cy="1165.9" r="6.7" fill="#111"/>
<circle cx="1438.5" cy="1146.7" r="6.7" fill="#111"/>
<circle cx="1452.2" cy="1169.4" r="6.7" fill="#111"/>
<circle cx="1157.0" cy="1270.0" r="6.7" fill="#111"/>
<circle cx="1486.6" cy="1157.2" r="6.7" fill="#111"/>
<circle cx="1496.1" cy="1159.3" r="6.7" fill="#111"/>
<circle cx="1520.8" cy="1132.1" r="6.7" fill="#111"/>
<circle cx="1528.4" cy="1143.5" r="6.7" fill="#111"/>
<circle cx="1548.4" cy="1135.9" r="6.7" fill="#111"/>
<circle cx="1554.1" cy="1116.5" r="6.7" fill="#111"/>
<circle cx="1570.6" cy="1145.4" r="6.7" fill="#111"/>
<circle cx="1575.9" cy="1134.0" r="6.7" fill="#111"/>
<circle cx="1590.2" cy="1139.3" r="6.7" fill="#111"/>
<circle cx="1606.9" cy="1128.9" r="6.7" fill="#111"/>
<circle cx="1610.5" cy="1138.4" r="6.7" fill="#111"/>
<circle cx="1621.6" cy="1124.5" r="6.7" fill="#111"/>
<circle cx="1624.8" cy="1146.3" r="6.7" fill="#111"/>
<circle cx="1634.9" cy="1126.8" r="6.7" fill="#111"/>
<circle cx="1637.7" cy="1139.3" r="6.7" fill="#111"/>
<circle cx="1646.8" cy="1134.0" r="6.7" fill="#111"/>
<circle cx="1649.7" cy="1112.7" r="6.7" fill="#111"/>
<circle cx="1658.6" cy="1117.8" r="6.7" fill="#111"/>
<circle cx="1660.5" cy="1127.3" r="6.7" fill="#111"/>
<circle cx="1668.1" cy="1123.5" r="6.7" fill="#111"/>
<circle cx="1671.0" cy="1130.2" r="6.7" fill="#111"/>
<circle cx="1677.6" cy="1130.2" r="6.7" fill="#111"/>
<circle cx="1686.2" cy="1113.1" r="6.7" fill="#111"/>
<circle cx="1689.0" cy="1120.7" r="6.7" fill="#111"/>
<circle cx="1694.7" cy="1126.4" r="6.7" fill="#111"/>
<circle cx="1702.4" cy="1134.0" r="6.7" fill="#111"/>
<circle cx="1709.0" cy="1122.6" r="6.7" fill="#111"/>
<circle cx="1713.8" cy="1132.1" r="6.7" fill="#111"/>
<circle cx="1716.0" cy="1140.3" r="6.7" fill="#111"/>
<circle cx="1721.4" cy="1130.2" r="6.7" fill="#111"/>
<circle cx="1729.0" cy="1119.7" r="6.7" fill="#111"/>
<circle cx="1735.6" cy="1132.1" r="6.7" fill="#111"/>
<circle cx="1742.3" cy="1126.4" r="6.7" fill="#111"/>
<circle cx="1746.0" cy="1126.4" r="6.7" fill="#111"/>
<path d="M1236.5,1259.3 L1252.0,1259.3 L1244.2,1245.0 Z" fill="#111"/>
<path d="M1354.7,1200.4 L1370.2,1200.4 L1362.4,1186.2 Z" fill="#111"/>
<path d="M1378.8,1191.8 L1394.3,1191.8 L1386.6,1177.5 Z" fill="#111"/>
<path d="M1430.8,1185.7 L1446.2,1185.7 L1438.5,1171.5 Z" fill="#111"/>
<path d="M1444.5,1204.8 L1460.0,1204.8 L1452.2,1190.5 Z" fill="#111"/>
<path d="M1149.2,1298.3 L1164.8,1298.3 L1157.0,1284.0 Z" fill="#111"/>
<path d="M1478.5,1193.7 L1494.0,1193.7 L1486.2,1179.5 Z" fill="#111"/>
<path d="M1488.3,1199.8 L1503.8,1199.8 L1496.1,1185.5 Z" fill="#111"/>
<path d="M1513.0,1182.9 L1528.5,1182.9 L1520.8,1168.7 Z" fill="#111"/>
<path d="M1520.7,1173.4 L1536.2,1173.4 L1528.4,1159.2 Z" fill="#111"/>
<path d="M1540.7,1188.0 L1556.2,1188.0 L1548.4,1173.8 Z" fill="#111"/>
<path d="M1546.3,1182.9 L1561.8,1182.9 L1554.1,1168.7 Z" fill="#111"/>
<path d="M1562.5,1189.0 L1578.0,1189.0 L1570.2,1174.8 Z" fill="#111"/>
<path d="M1567.8,1197.5 L1583.3,1197.5 L1575.6,1183.2 Z" fill="#111"/>
<path d="M1582.5,1195.6 L1598.0,1195.6 L1590.2,1181.3 Z" fill="#111"/>
<path d="M1599.2,1182.3 L1614.7,1182.3 L1606.9,1168.0 Z" fill="#111"/>
<path d="M1602.5,1187.1 L1618.0,1187.1 L1610.2,1172.8 Z" fill="#111"/>
<path d="M1613.5,1175.3 L1629.0,1175.3 L1621.2,1161.0 Z" fill="#111"/>
<path d="M1617.0,1189.0 L1632.5,1189.0 L1624.8,1174.8 Z" fill="#111"/>
<path d="M1627.2,1180.8 L1642.7,1180.8 L1634.9,1166.5 Z" fill="#111"/>
<path d="M1630.0,1197.5 L1645.5,1197.5 L1637.7,1183.2 Z" fill="#111"/>
<path d="M1638.5,1179.5 L1654.0,1179.5 L1646.3,1165.2 Z" fill="#111"/>
<path d="M1642.3,1191.8 L1657.8,1191.8 L1650.1,1177.5 Z" fill="#111"/>
<path d="M1650.0,1180.8 L1665.5,1180.8 L1657.7,1166.5 Z" fill="#111"/>
<path d="M1653.8,1189.9 L1669.2,1189.9 L1661.5,1175.7 Z" fill="#111"/>
<path d="M1660.3,1181.4 L1675.8,1181.4 L1668.1,1167.2 Z" fill="#111"/>
<path d="M1669.8,1182.3 L1685.3,1182.3 L1677.6,1168.0 Z" fill="#111"/>
<path d="M1671.8,1192.8 L1687.2,1192.8 L1679.5,1178.5 Z" fill="#111"/>
<path d="M1680.3,1183.3 L1695.8,1183.3 L1688.1,1169.0 Z" fill="#111"/>
<path d="M1687.0,1189.9 L1702.5,1189.9 L1694.7,1175.7 Z" fill="#111"/>
<path d="M1693.7,1178.5 L1709.2,1178.5 L1701.4,1164.2 Z" fill="#111"/>
<path d="M1701.2,1186.1 L1716.8,1186.1 L1709.0,1171.8 Z" fill="#111"/>
<path d="M1708.0,1183.3 L1723.5,1183.3 L1715.7,1169.0 Z" fill="#111"/>
<path d="M1715.5,1179.5 L1731.0,1179.5 L1723.3,1165.2 Z" fill="#111"/>
<path d="M1721.2,1186.1 L1736.8,1186.1 L1729.0,1171.8 Z" fill="#111"/>
<path d="M1727.8,1184.2 L1743.3,1184.2 L1735.6,1170.0 Z" fill="#111"/>
<path d="M1734.5,1185.2 L1750.0,1185.2 L1742.3,1171.0 Z" fill="#111"/>
<path d="M1738.2,1184.2 L1753.8,1184.2 L1746.0,1170.0 Z" fill="#111"/>
<path d="M1714.2,1187.0 L1729.8,1187.0 L1722.0,1172.8 Z" fill="#111"/>
<path d="M1718.2,1187.0 L1733.8,1187.0 L1726.0,1172.8 Z" fill="#111"/>
<path d="M1724.2,1187.0 L1739.8,1187.0 L1732.0,1172.8 Z" fill="#111"/>
<path d="M1730.2,1187.0 L1745.8,1187.0 L1738.0,1172.8 Z" fill="#111"/>
<path d="M1736.2,1187.0 L1751.8,1187.0 L1744.0,1172.8 Z" fill="#111"/>
<path d="M1696.2,1186.5 L1711.8,1186.5 L1704.0,1172.2 Z" fill="#111"/>
<path d="M1690.2,1185.5 L1705.8,1185.5 L1698.0,1171.2 Z" fill="#111"/>
<line x1="1154.7" y1="978.5" x2="1154.7" y2="1448.3" stroke="#111" stroke-width="6.2" />
<line x1="1145.7" y1="1440.3" x2="1753.0" y2="1440.3" stroke="#111" stroke-width="5.6" />
</g>
<g id="labels">
<text transform="translate(1.9 46.0) scale(1.045 1)" font-size="43">a</text>
<text transform="translate(12.0 675.0) scale(1.045 1)" font-size="43">0</text>
<text transform="translate(135.4 675.0) scale(1.045 1)" font-size="43">10</text>
<text transform="translate(273.7 675.0) scale(1.045 1)" font-size="43">20</text>
<text transform="translate(411.7 675.0) scale(1.045 1)" font-size="43">30</text>
<text transform="translate(549.2 675.0) scale(1.045 1)" font-size="43">40</text>
<text transform="translate(212.3 732.5) scale(1.045 1)" font-size="43">Time (s)</text>
<text transform="translate(782.8 64.0) scale(1.045 1)" font-size="43">1</text>
<text transform="translate(782.0 254.5) scale(1.045 1)" font-size="43">0</text>
<text transform="translate(863.5 218.0) scale(1.045 1) rotate(-90)" font-size="43">Output</text>
<text transform="translate(920.0 217.8) scale(1.045 1) rotate(-90)" font-size="43">function</text>
<text transform="translate(753.1 319.0) scale(1.045 1)" font-size="43">10<tspan dx="-0.9" dy="-17.5">2</tspan></text>
<text transform="translate(693.9 446.0) scale(1.045 1)" font-size="43">10<tspan dx="0.0" dy="-17.0">3</tspan></text>
<text transform="translate(629.4 574.0) scale(1.045 1)" font-size="43">10<tspan dx="-2.4" dy="-20.5">4</tspan></text>
<text transform="translate(701.8 673.3) scale(1.045 1) rotate(-64.6)" font-size="43.4">Number of oscillators</text>
<text transform="translate(1090.0 180.9) scale(1.045 1) rotate(-90)" font-size="43">Output</text>
<text transform="translate(1146.0 180.3) scale(1.045 1) rotate(-90)" font-size="43">function</text>
<text transform="translate(1170.1 36.2) scale(1.045 1)" font-size="43">1</text>
<text transform="translate(1164.7 185.0) scale(1.045 1)" font-size="43">0</text>
<text transform="translate(1178.0 222.5) scale(1.045 1)" font-size="43">19</text>
<text transform="translate(1315.0 222.5) scale(1.045 1)" font-size="43">20</text>
<text transform="translate(1451.2 222.5) scale(1.045 1)" font-size="43">21</text>
<text transform="translate(1259.7 267.5) scale(1.045 1)" font-size="43">1</text>
<text transform="translate(1258.2 415.3) scale(1.045 1)" font-size="43">0</text>
<text transform="translate(1268.7 449.5) scale(1.045 1)" font-size="43">39</text>
<text transform="translate(1404.7 449.5) scale(1.045 1)" font-size="43">40</text>
<text transform="translate(1541.7 449.5) scale(1.045 1)" font-size="43">41</text>
<text transform="translate(1350.8 508.5) scale(1.045 1)" font-size="43">1</text>
<text transform="translate(1343.3 661.0) scale(1.045 1)" font-size="43">0</text>
<text transform="translate(1361.4 691.5) scale(1.045 1)" font-size="43">79</text>
<text transform="translate(1504.0 691.5) scale(1.045 1)" font-size="43">80</text>
<text transform="translate(1627.4 691.5) scale(1.045 1)" font-size="43">81</text>
<text transform="translate(1473.8 740.5) scale(1.045 1)" font-size="43">Time (s)</text>
<text transform="translate(1619.7 55.5) scale(1.045 1)" font-size="43">b</text>
<text transform="translate(61.6 820.0) scale(1.045 1)" font-size="43">c</text>
<text x="144" y="886.7" font-size="48" style="font-family:'Liberation Sans',sans-serif">1</text>
<text transform="translate(136.5 1065) scale(1.03 1)" font-size="48" style="font-family:'Liberation Sans',sans-serif">0</text>
<text transform="translate(57.5 1043.5) scale(1.045 1) rotate(-90)" font-size="43">Output</text>
<text transform="translate(113.8 1043.4) scale(1.045 1) rotate(-90)" font-size="43">function</text>
<text transform="translate(132.3 1160.2) scale(1.045 1)" font-size="43">1</text>
<text transform="translate(134.8 1332.0) scale(1.045 1)" font-size="43">0</text>
<text transform="translate(65.6 1321.6) scale(1.045 1) rotate(-90)" font-size="43">Output</text>
<text transform="translate(122.0 1321.3) scale(1.045 1) rotate(-90)" font-size="43">function</text>
<text transform="translate(142.2 1420.5) scale(1.045 1)" font-size="43">1</text>
<text transform="translate(133.7 1586.5) scale(1.045 1)" font-size="43">0</text>
<text transform="translate(67.5 1574.0) scale(1.045 1) rotate(-90)" font-size="43">Output</text>
<text transform="translate(123.8 1573.9) scale(1.045 1) rotate(-90)" font-size="43">function</text>
<text transform="translate(286.8 920.0) scale(1.045 1)" font-size="43">50</text>
<text transform="translate(329.3 960.0) scale(1.045 1)" font-size="43">30</text>
<text transform="translate(365.2 1085.0) scale(1.045 1)" font-size="43">σ</text>
<text transform="translate(368.2 1343.5) scale(1.045 1)" font-size="43">0</text>
<text transform="translate(379.7 1620.0) scale(1.045 1)" font-size="43">σ</text>
<text transform="translate(607.1 1614.0) scale(1.045 1)" font-size="43">σ</text>
<text transform="translate(325.2 1667.8) scale(1.02 1)" font-size="48" style="font-family:'Liberation Sans',sans-serif">Time (s)</text>
<text transform="translate(998.9 894.0) scale(1.045 1)" font-size="43">d</text>
<text transform="translate(1075.1 996.2) scale(1.045 1)" font-size="43">10</text>
<text transform="translate(1098.1 1455.0) scale(1.045 1)" font-size="43">0</text>
<text transform="translate(1121.9 1507.0) scale(1.045 1)" font-size="43">10<tspan dx="-4.5" dy="-23.0">2</tspan></text>
<text transform="translate(1418.7 1507.0) scale(1.045 1)" font-size="43">10<tspan dx="-3.8" dy="-23.0">3</tspan></text>
<text transform="translate(1716.4 1507.0) scale(1.045 1)" font-size="43">10<tspan dx="-5.0" dy="-23.0">4</tspan></text>
<text transform="translate(1212.9 1565.0) scale(1.045 1)" font-size="43">Number of oscillators</text>
<text transform="translate(1023.5 1435.2) scale(1.045 1) rotate(-90)" font-size="43">Signal to noise ratio</text>
<text transform="translate(1579.6 1243.3) scale(1.045 1)" font-size="43">T<tspan dx="3.1" dy="10.2">c</tspan></text>
<text transform="translate(1616.2 1292.3) scale(1.045 1)" font-size="43">20 s</text>
<text transform="translate(1617.3 1346.8) scale(1.045 1)" font-size="43">40 s</text>
<text transform="translate(1616.5 1400.8) scale(1.045 1)" font-size="43">80 s</text>
</g>
</svg>
</body></html>
